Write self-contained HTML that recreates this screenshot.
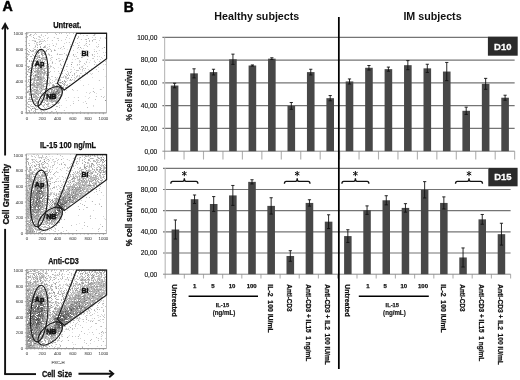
<!DOCTYPE html><html><head><meta charset="utf-8"><style>html,body{margin:0;padding:0;background:#fff;width:520px;height:380px;overflow:hidden}svg{display:block;will-change:transform}text{font-family:"Liberation Sans",sans-serif;white-space:pre}</style></head><body>
<svg width="520" height="380" viewBox="0 0 520 380">
<rect width="520" height="380" fill="#fff"/>
<text x="2.50" y="10.60" font-size="14.2" font-weight="bold" stroke="#000" stroke-width="0.5">A</text>
<g stroke="#111" stroke-width="1.9" fill="none">
<line x1="5.1" y1="24.2" x2="5.1" y2="155.5"/>
<line x1="5.1" y1="228.9" x2="5.1" y2="374.1"/>
<polyline points="2.1,29.4 5.1,24.0 8.1,29.4"/>
<line x1="4.2" y1="374.1" x2="36" y2="374.1"/>
<line x1="78.5" y1="373.8" x2="112.8" y2="373.8"/>
<polyline points="109.2,370.4 113.2,373.8 109.2,377.2"/>
</g>
<text x="41.90" y="376.60" font-size="8.6" font-weight="bold" fill="#111" stroke="#111" stroke-width="0.3" textLength="30.30" lengthAdjust="spacingAndGlyphs">Cell Size</text>
<text x="9.20" y="224.50" font-size="8.3" font-weight="bold" fill="#111" stroke="#111" stroke-width="0.3" textLength="60.50" lengthAdjust="spacingAndGlyphs" transform="rotate(-90 9.20 224.50)">Cell Granularity</text>
<path d="M27.9 32.9h.9v.9h-.9zM84.0 32.9h.9v.9h-.9zM98.9 33.1h.9v.9h-.9zM27.0 33.9h.9v.9h-.9zM31.0 34.1h.9v.9h-.9zM36.1 34.1h.9v.9h-.9zM95.0 33.9h.9v.9h-.9zM83.0 35.1h.9v.9h-.9zM30.9 35.9h.9v.9h-.9zM37.9 36.1h.9v.9h-.9zM27.1 37.0h.9v.9h-.9zM38.9 37.0h.9v.9h-.9zM92.0 37.1h.9v.9h-.9zM95.0 37.0h.9v.9h-.9zM100.1 36.9h.9v.9h-.9zM44.1 37.9h.9v.9h-.9zM69.0 38.0h.9v.9h-.9zM100.0 38.0h.9v.9h-.9zM40.9 38.9h.9v.9h-.9zM42.0 39.0h.9v.9h-.9zM93.0 39.1h.9v.9h-.9zM94.0 39.0h.9v.9h-.9zM29.0 39.9h.9v.9h-.9zM33.0 40.0h.9v.9h-.9zM33.9 40.0h.9v.9h-.9zM35.0 39.9h.9v.9h-.9zM39.9 39.9h.9v.9h-.9zM47.1 39.9h.9v.9h-.9zM34.0 41.0h.9v.9h-.9zM41.0 41.0h.9v.9h-.9zM42.0 41.1h.9v.9h-.9zM43.0 41.1h.9v.9h-.9zM45.1 41.0h.9v.9h-.9zM92.0 41.0h.9v.9h-.9zM75.0 42.0h.9v.9h-.9zM29.1 43.1h.9v.9h-.9zM34.1 43.1h.9v.9h-.9zM36.0 43.0h.9v.9h-.9zM52.1 42.9h.9v.9h-.9zM55.9 43.1h.9v.9h-.9zM36.1 44.0h.9v.9h-.9zM47.0 44.0h.9v.9h-.9zM48.9 44.1h.9v.9h-.9zM69.9 44.0h.9v.9h-.9zM85.0 43.9h.9v.9h-.9zM45.0 45.0h.9v.9h-.9zM78.9 44.9h.9v.9h-.9zM34.1 46.9h.9v.9h-.9zM34.9 46.9h.9v.9h-.9zM47.0 47.0h.9v.9h-.9zM60.9 47.0h.9v.9h-.9zM96.9 47.1h.9v.9h-.9zM46.1 47.9h.9v.9h-.9zM58.1 48.1h.9v.9h-.9zM77.1 48.1h.9v.9h-.9zM81.0 48.0h.9v.9h-.9zM83.0 48.1h.9v.9h-.9zM54.0 49.1h.9v.9h-.9zM61.9 48.9h.9v.9h-.9zM66.9 48.9h.9v.9h-.9zM78.9 48.9h.9v.9h-.9zM93.9 49.0h.9v.9h-.9zM42.9 50.0h.9v.9h-.9zM85.0 50.0h.9v.9h-.9zM35.0 51.1h.9v.9h-.9zM89.0 52.1h.9v.9h-.9zM105.0 52.0h.9v.9h-.9zM45.0 53.1h.9v.9h-.9zM57.1 53.0h.9v.9h-.9zM80.1 53.1h.9v.9h-.9zM61.0 54.0h.9v.9h-.9zM61.9 54.0h.9v.9h-.9zM69.1 54.0h.9v.9h-.9zM75.1 53.9h.9v.9h-.9zM84.0 53.9h.9v.9h-.9zM94.1 54.0h.9v.9h-.9zM27.9 55.0h.9v.9h-.9zM68.1 54.9h.9v.9h-.9zM81.1 55.1h.9v.9h-.9zM69.0 55.9h.9v.9h-.9zM99.0 56.0h.9v.9h-.9zM34.9 57.1h.9v.9h-.9zM40.9 56.9h.9v.9h-.9zM44.0 57.1h.9v.9h-.9zM52.0 57.1h.9v.9h-.9zM58.0 58.1h.9v.9h-.9zM58.9 58.1h.9v.9h-.9zM66.0 58.1h.9v.9h-.9zM102.0 58.0h.9v.9h-.9zM41.1 58.9h.9v.9h-.9zM50.9 59.0h.9v.9h-.9zM72.1 58.9h.9v.9h-.9zM74.9 59.0h.9v.9h-.9zM100.1 59.1h.9v.9h-.9zM50.1 60.0h.9v.9h-.9zM89.9 59.9h.9v.9h-.9zM94.0 59.9h.9v.9h-.9zM51.9 61.1h.9v.9h-.9zM78.9 61.0h.9v.9h-.9zM105.1 61.1h.9v.9h-.9zM44.0 62.1h.9v.9h-.9zM71.0 62.0h.9v.9h-.9zM79.1 62.0h.9v.9h-.9zM88.9 62.0h.9v.9h-.9zM100.0 61.9h.9v.9h-.9zM49.0 62.9h.9v.9h-.9zM54.9 63.0h.9v.9h-.9zM60.1 62.9h.9v.9h-.9zM38.0 63.9h.9v.9h-.9zM85.1 64.1h.9v.9h-.9zM95.9 64.1h.9v.9h-.9zM103.0 63.9h.9v.9h-.9zM105.1 64.0h.9v.9h-.9zM50.0 65.0h.9v.9h-.9zM76.9 65.0h.9v.9h-.9zM82.9 64.9h.9v.9h-.9zM67.1 66.1h.9v.9h-.9zM71.0 66.0h.9v.9h-.9zM80.9 65.9h.9v.9h-.9zM87.0 66.0h.9v.9h-.9zM30.1 67.0h.9v.9h-.9zM49.9 67.1h.9v.9h-.9zM57.9 66.9h.9v.9h-.9zM80.9 67.0h.9v.9h-.9zM82.0 67.0h.9v.9h-.9zM98.0 67.0h.9v.9h-.9zM32.1 68.0h.9v.9h-.9zM63.1 68.1h.9v.9h-.9zM91.1 67.9h.9v.9h-.9zM32.0 69.0h.9v.9h-.9zM33.0 68.9h.9v.9h-.9zM65.9 69.1h.9v.9h-.9zM70.0 68.9h.9v.9h-.9zM71.0 69.1h.9v.9h-.9zM74.1 69.0h.9v.9h-.9zM80.1 69.0h.9v.9h-.9zM82.1 70.0h.9v.9h-.9zM84.0 70.0h.9v.9h-.9zM54.0 71.1h.9v.9h-.9zM71.0 71.0h.9v.9h-.9zM81.9 70.9h.9v.9h-.9zM36.1 72.1h.9v.9h-.9zM68.1 71.9h.9v.9h-.9zM65.0 72.9h.9v.9h-.9zM81.1 73.0h.9v.9h-.9zM89.9 73.0h.9v.9h-.9zM87.0 73.9h.9v.9h-.9zM91.1 74.0h.9v.9h-.9zM64.1 75.1h.9v.9h-.9zM74.0 74.9h.9v.9h-.9zM28.1 76.0h.9v.9h-.9zM33.9 76.0h.9v.9h-.9zM42.1 76.0h.9v.9h-.9zM51.0 76.0h.9v.9h-.9zM65.9 76.0h.9v.9h-.9zM77.0 76.0h.9v.9h-.9zM104.9 75.9h.9v.9h-.9zM45.9 77.0h.9v.9h-.9zM57.0 77.1h.9v.9h-.9zM59.1 77.0h.9v.9h-.9zM78.9 77.0h.9v.9h-.9zM92.0 77.1h.9v.9h-.9zM55.9 77.9h.9v.9h-.9zM58.0 78.1h.9v.9h-.9zM65.1 78.1h.9v.9h-.9zM66.0 77.9h.9v.9h-.9zM43.0 79.0h.9v.9h-.9zM56.0 79.1h.9v.9h-.9zM56.9 78.9h.9v.9h-.9zM58.1 78.9h.9v.9h-.9zM66.0 78.9h.9v.9h-.9zM73.9 78.9h.9v.9h-.9zM32.9 80.0h.9v.9h-.9zM48.9 80.0h.9v.9h-.9zM52.1 80.1h.9v.9h-.9zM54.9 79.9h.9v.9h-.9zM66.9 80.1h.9v.9h-.9zM69.1 80.0h.9v.9h-.9zM75.9 79.9h.9v.9h-.9zM80.1 79.9h.9v.9h-.9zM42.0 80.9h.9v.9h-.9zM65.9 81.0h.9v.9h-.9zM27.0 82.1h.9v.9h-.9zM28.9 82.0h.9v.9h-.9zM49.0 81.9h.9v.9h-.9zM49.0 83.0h.9v.9h-.9zM51.0 82.9h.9v.9h-.9zM69.0 83.0h.9v.9h-.9zM69.9 82.9h.9v.9h-.9zM28.1 84.1h.9v.9h-.9zM44.0 84.1h.9v.9h-.9zM48.9 84.1h.9v.9h-.9zM88.0 83.9h.9v.9h-.9zM67.0 86.1h.9v.9h-.9zM68.9 86.0h.9v.9h-.9zM33.9 87.0h.9v.9h-.9zM41.9 88.0h.9v.9h-.9zM43.0 88.0h.9v.9h-.9zM93.1 88.0h.9v.9h-.9zM39.9 89.1h.9v.9h-.9zM101.1 88.9h.9v.9h-.9zM30.9 90.0h.9v.9h-.9zM35.1 89.9h.9v.9h-.9zM62.0 89.9h.9v.9h-.9zM65.9 90.0h.9v.9h-.9zM72.9 90.0h.9v.9h-.9zM76.9 90.0h.9v.9h-.9zM28.9 91.9h.9v.9h-.9zM39.0 91.9h.9v.9h-.9zM43.1 91.9h.9v.9h-.9zM86.0 92.1h.9v.9h-.9zM96.1 92.9h.9v.9h-.9zM42.9 93.9h.9v.9h-.9zM46.9 93.9h.9v.9h-.9zM45.0 95.0h.9v.9h-.9zM39.1 95.9h.9v.9h-.9zM58.0 96.1h.9v.9h-.9zM84.9 95.9h.9v.9h-.9zM104.0 96.0h.9v.9h-.9zM39.0 96.9h.9v.9h-.9zM43.1 96.9h.9v.9h-.9zM68.0 97.1h.9v.9h-.9zM73.9 97.0h.9v.9h-.9zM89.0 97.0h.9v.9h-.9zM65.1 97.9h.9v.9h-.9zM88.1 98.1h.9v.9h-.9zM33.0 99.0h.9v.9h-.9zM29.9 99.9h.9v.9h-.9zM39.9 100.1h.9v.9h-.9zM43.0 100.1h.9v.9h-.9zM48.1 99.9h.9v.9h-.9zM65.9 100.1h.9v.9h-.9zM47.9 100.9h.9v.9h-.9zM72.9 101.1h.9v.9h-.9zM42.0 102.1h.9v.9h-.9zM48.1 102.1h.9v.9h-.9zM57.1 101.9h.9v.9h-.9zM82.9 102.1h.9v.9h-.9zM32.9 103.1h.9v.9h-.9zM41.1 102.9h.9v.9h-.9zM47.1 103.1h.9v.9h-.9zM56.9 103.0h.9v.9h-.9zM54.1 104.0h.9v.9h-.9zM48.1 104.9h.9v.9h-.9zM59.1 105.0h.9v.9h-.9zM60.9 105.0h.9v.9h-.9zM70.0 105.1h.9v.9h-.9zM93.0 105.0h.9v.9h-.9zM29.9 106.1h.9v.9h-.9zM51.9 106.0h.9v.9h-.9zM93.1 105.9h.9v.9h-.9zM36.0 107.0h.9v.9h-.9zM65.9 106.9h.9v.9h-.9zM44.1 107.9h.9v.9h-.9zM37.9 108.9h.9v.9h-.9zM43.1 108.9h.9v.9h-.9zM39.9 110.1h.9v.9h-.9zM43.9 111.0h.9v.9h-.9zM46.9 110.9h.9v.9h-.9zM51.9 111.0h.9v.9h-.9zM80.1 111.1h.9v.9h-.9zM38.9 112.0h.9v.9h-.9zM43.1 112.1h.9v.9h-.9zM45.1 112.1h.9v.9h-.9zM47.0 111.9h.9v.9h-.9z" fill="#d2d2d2"/>
<path d="M35.1 33.0h.9v.9h-.9zM55.0 33.0h.9v.9h-.9zM59.1 33.0h.9v.9h-.9zM61.1 33.0h.9v.9h-.9zM66.0 32.9h.9v.9h-.9zM69.1 32.9h.9v.9h-.9zM73.1 33.0h.9v.9h-.9zM34.1 33.9h.9v.9h-.9zM41.0 33.9h.9v.9h-.9zM76.1 34.1h.9v.9h-.9zM80.0 33.9h.9v.9h-.9zM94.0 34.1h.9v.9h-.9zM29.0 35.0h.9v.9h-.9zM29.9 35.0h.9v.9h-.9zM33.0 35.1h.9v.9h-.9zM40.9 35.0h.9v.9h-.9zM45.1 35.1h.9v.9h-.9zM67.0 35.0h.9v.9h-.9zM75.9 34.9h.9v.9h-.9zM86.0 34.9h.9v.9h-.9zM87.0 35.0h.9v.9h-.9zM92.9 35.0h.9v.9h-.9zM94.0 35.1h.9v.9h-.9zM42.9 35.9h.9v.9h-.9zM78.0 36.1h.9v.9h-.9zM39.9 37.1h.9v.9h-.9zM47.9 36.9h.9v.9h-.9zM53.9 37.1h.9v.9h-.9zM66.1 37.1h.9v.9h-.9zM78.1 37.1h.9v.9h-.9zM104.9 36.9h.9v.9h-.9zM35.9 38.0h.9v.9h-.9zM57.9 38.0h.9v.9h-.9zM105.1 38.1h.9v.9h-.9zM37.9 38.9h.9v.9h-.9zM39.0 38.9h.9v.9h-.9zM65.1 38.9h.9v.9h-.9zM80.9 39.0h.9v.9h-.9zM84.9 39.0h.9v.9h-.9zM94.9 39.0h.9v.9h-.9zM31.9 40.0h.9v.9h-.9zM51.9 40.1h.9v.9h-.9zM58.0 40.1h.9v.9h-.9zM61.0 39.9h.9v.9h-.9zM89.1 40.1h.9v.9h-.9zM99.0 39.9h.9v.9h-.9zM39.0 41.0h.9v.9h-.9zM40.1 41.1h.9v.9h-.9zM86.0 41.1h.9v.9h-.9zM89.1 41.1h.9v.9h-.9zM36.1 41.9h.9v.9h-.9zM37.0 42.0h.9v.9h-.9zM38.9 42.1h.9v.9h-.9zM66.0 41.9h.9v.9h-.9zM68.9 42.0h.9v.9h-.9zM72.1 41.9h.9v.9h-.9zM79.0 41.9h.9v.9h-.9zM96.1 41.9h.9v.9h-.9zM28.1 42.9h.9v.9h-.9zM64.0 42.9h.9v.9h-.9zM37.1 44.1h.9v.9h-.9zM56.0 43.9h.9v.9h-.9zM89.0 44.1h.9v.9h-.9zM98.0 43.9h.9v.9h-.9zM34.9 44.9h.9v.9h-.9zM37.0 45.0h.9v.9h-.9zM83.9 45.0h.9v.9h-.9zM85.9 44.9h.9v.9h-.9zM45.0 46.1h.9v.9h-.9zM48.9 46.1h.9v.9h-.9zM55.0 45.9h.9v.9h-.9zM70.0 46.0h.9v.9h-.9zM87.0 46.0h.9v.9h-.9zM96.0 45.9h.9v.9h-.9zM98.1 46.1h.9v.9h-.9zM44.9 47.0h.9v.9h-.9zM32.9 47.9h.9v.9h-.9zM48.9 47.9h.9v.9h-.9zM63.9 48.1h.9v.9h-.9zM101.9 47.9h.9v.9h-.9zM29.0 49.1h.9v.9h-.9zM36.9 49.1h.9v.9h-.9zM38.9 49.0h.9v.9h-.9zM47.1 49.1h.9v.9h-.9zM50.0 49.1h.9v.9h-.9zM27.1 50.1h.9v.9h-.9zM31.9 50.0h.9v.9h-.9zM37.9 50.1h.9v.9h-.9zM39.9 50.1h.9v.9h-.9zM51.1 50.1h.9v.9h-.9zM73.0 49.9h.9v.9h-.9zM81.9 50.0h.9v.9h-.9zM86.1 49.9h.9v.9h-.9zM98.9 49.9h.9v.9h-.9zM31.0 51.0h.9v.9h-.9zM32.1 51.0h.9v.9h-.9zM33.0 51.0h.9v.9h-.9zM40.0 51.0h.9v.9h-.9zM43.1 51.1h.9v.9h-.9zM46.0 51.0h.9v.9h-.9zM28.9 52.1h.9v.9h-.9zM37.1 52.0h.9v.9h-.9zM77.1 52.0h.9v.9h-.9zM103.1 51.9h.9v.9h-.9zM34.0 52.9h.9v.9h-.9zM44.1 53.0h.9v.9h-.9zM48.1 52.9h.9v.9h-.9zM64.0 53.1h.9v.9h-.9zM97.1 52.9h.9v.9h-.9zM32.0 54.0h.9v.9h-.9zM49.1 54.0h.9v.9h-.9zM59.0 54.1h.9v.9h-.9zM59.9 54.0h.9v.9h-.9zM36.9 55.0h.9v.9h-.9zM38.0 54.9h.9v.9h-.9zM65.9 55.0h.9v.9h-.9zM72.9 55.0h.9v.9h-.9zM92.0 55.0h.9v.9h-.9zM104.0 55.1h.9v.9h-.9zM27.0 56.0h.9v.9h-.9zM30.0 56.0h.9v.9h-.9zM39.1 56.1h.9v.9h-.9zM42.0 55.9h.9v.9h-.9zM74.0 56.0h.9v.9h-.9zM75.9 56.1h.9v.9h-.9zM88.0 56.0h.9v.9h-.9zM93.9 56.1h.9v.9h-.9zM97.1 55.9h.9v.9h-.9zM38.1 57.1h.9v.9h-.9zM51.1 56.9h.9v.9h-.9zM82.0 57.0h.9v.9h-.9zM101.1 56.9h.9v.9h-.9zM43.0 58.1h.9v.9h-.9zM45.1 57.9h.9v.9h-.9zM50.1 57.9h.9v.9h-.9zM66.9 58.1h.9v.9h-.9zM76.9 58.1h.9v.9h-.9zM78.0 57.9h.9v.9h-.9zM92.1 57.9h.9v.9h-.9zM92.9 58.1h.9v.9h-.9zM36.1 59.1h.9v.9h-.9zM39.0 59.0h.9v.9h-.9zM40.1 59.1h.9v.9h-.9zM41.9 59.1h.9v.9h-.9zM43.0 59.0h.9v.9h-.9zM45.9 59.1h.9v.9h-.9zM61.9 59.0h.9v.9h-.9zM87.0 59.0h.9v.9h-.9zM97.0 58.9h.9v.9h-.9zM31.0 59.9h.9v.9h-.9zM33.1 59.9h.9v.9h-.9zM38.0 59.9h.9v.9h-.9zM39.1 60.1h.9v.9h-.9zM45.1 59.9h.9v.9h-.9zM58.9 59.9h.9v.9h-.9zM60.0 60.0h.9v.9h-.9zM79.0 59.9h.9v.9h-.9zM34.9 61.0h.9v.9h-.9zM36.9 61.0h.9v.9h-.9zM38.1 61.1h.9v.9h-.9zM39.9 61.0h.9v.9h-.9zM41.0 60.9h.9v.9h-.9zM41.9 61.1h.9v.9h-.9zM58.9 61.0h.9v.9h-.9zM63.1 60.9h.9v.9h-.9zM80.1 61.1h.9v.9h-.9zM85.9 60.9h.9v.9h-.9zM93.9 61.1h.9v.9h-.9zM36.9 61.9h.9v.9h-.9zM72.1 62.0h.9v.9h-.9zM86.0 62.0h.9v.9h-.9zM94.9 62.1h.9v.9h-.9zM26.9 62.9h.9v.9h-.9zM31.0 63.0h.9v.9h-.9zM34.9 63.0h.9v.9h-.9zM37.0 63.0h.9v.9h-.9zM39.0 63.0h.9v.9h-.9zM45.0 63.0h.9v.9h-.9zM46.0 62.9h.9v.9h-.9zM51.9 63.0h.9v.9h-.9zM37.1 63.9h.9v.9h-.9zM67.0 63.9h.9v.9h-.9zM77.1 64.0h.9v.9h-.9zM94.1 64.0h.9v.9h-.9zM41.0 65.0h.9v.9h-.9zM41.9 65.0h.9v.9h-.9zM43.1 65.0h.9v.9h-.9zM44.0 65.0h.9v.9h-.9zM60.9 65.1h.9v.9h-.9zM29.1 66.0h.9v.9h-.9zM36.1 66.0h.9v.9h-.9zM38.0 66.0h.9v.9h-.9zM42.1 65.9h.9v.9h-.9zM45.9 66.0h.9v.9h-.9zM50.1 66.1h.9v.9h-.9zM50.9 66.1h.9v.9h-.9zM66.1 66.0h.9v.9h-.9zM81.9 66.0h.9v.9h-.9zM31.1 67.1h.9v.9h-.9zM37.1 67.1h.9v.9h-.9zM41.1 67.0h.9v.9h-.9zM43.1 67.1h.9v.9h-.9zM52.9 67.0h.9v.9h-.9zM73.0 66.9h.9v.9h-.9zM79.1 66.9h.9v.9h-.9zM94.0 66.9h.9v.9h-.9zM31.0 67.9h.9v.9h-.9zM34.0 67.9h.9v.9h-.9zM39.9 68.1h.9v.9h-.9zM43.1 67.9h.9v.9h-.9zM49.1 68.0h.9v.9h-.9zM53.9 68.1h.9v.9h-.9zM60.9 68.1h.9v.9h-.9zM83.0 68.1h.9v.9h-.9zM34.9 69.0h.9v.9h-.9zM44.1 69.1h.9v.9h-.9zM82.0 69.1h.9v.9h-.9zM87.9 68.9h.9v.9h-.9zM95.9 69.1h.9v.9h-.9zM103.0 68.9h.9v.9h-.9zM28.0 69.9h.9v.9h-.9zM35.0 69.9h.9v.9h-.9zM63.9 70.1h.9v.9h-.9zM76.1 70.1h.9v.9h-.9zM77.0 70.0h.9v.9h-.9zM78.0 70.0h.9v.9h-.9zM89.1 70.1h.9v.9h-.9zM27.9 71.0h.9v.9h-.9zM44.1 71.1h.9v.9h-.9zM46.0 71.0h.9v.9h-.9zM58.1 71.1h.9v.9h-.9zM62.0 70.9h.9v.9h-.9zM67.0 71.1h.9v.9h-.9zM98.1 70.9h.9v.9h-.9zM27.9 71.9h.9v.9h-.9zM32.1 72.1h.9v.9h-.9zM33.9 71.9h.9v.9h-.9zM40.1 72.1h.9v.9h-.9zM47.0 72.0h.9v.9h-.9zM47.9 72.0h.9v.9h-.9zM75.9 71.9h.9v.9h-.9zM85.0 72.0h.9v.9h-.9zM30.0 73.1h.9v.9h-.9zM35.9 72.9h.9v.9h-.9zM41.1 73.1h.9v.9h-.9zM46.1 73.0h.9v.9h-.9zM58.9 72.9h.9v.9h-.9zM67.9 73.0h.9v.9h-.9zM80.0 73.0h.9v.9h-.9zM91.9 72.9h.9v.9h-.9zM29.9 73.9h.9v.9h-.9zM32.0 74.1h.9v.9h-.9zM43.0 74.1h.9v.9h-.9zM45.9 74.0h.9v.9h-.9zM68.0 74.0h.9v.9h-.9zM74.0 74.1h.9v.9h-.9zM33.9 75.0h.9v.9h-.9zM39.1 75.0h.9v.9h-.9zM40.0 75.1h.9v.9h-.9zM42.9 75.0h.9v.9h-.9zM44.1 74.9h.9v.9h-.9zM77.1 75.0h.9v.9h-.9zM78.9 75.1h.9v.9h-.9zM41.0 76.0h.9v.9h-.9zM51.9 75.9h.9v.9h-.9zM63.1 75.9h.9v.9h-.9zM76.0 76.1h.9v.9h-.9zM78.9 76.0h.9v.9h-.9zM81.9 75.9h.9v.9h-.9zM42.0 77.1h.9v.9h-.9zM44.0 76.9h.9v.9h-.9zM48.1 77.1h.9v.9h-.9zM49.0 76.9h.9v.9h-.9zM60.9 77.0h.9v.9h-.9zM62.1 76.9h.9v.9h-.9zM63.1 77.1h.9v.9h-.9zM65.0 77.1h.9v.9h-.9zM65.9 77.1h.9v.9h-.9zM68.0 77.0h.9v.9h-.9zM71.0 77.1h.9v.9h-.9zM74.0 77.0h.9v.9h-.9zM76.0 76.9h.9v.9h-.9zM33.1 78.1h.9v.9h-.9zM35.1 78.0h.9v.9h-.9zM42.1 78.1h.9v.9h-.9zM48.9 77.9h.9v.9h-.9zM68.1 78.1h.9v.9h-.9zM74.9 78.0h.9v.9h-.9zM77.9 78.0h.9v.9h-.9zM28.1 79.1h.9v.9h-.9zM34.9 79.0h.9v.9h-.9zM36.0 79.0h.9v.9h-.9zM42.0 79.1h.9v.9h-.9zM50.1 79.1h.9v.9h-.9zM55.0 78.9h.9v.9h-.9zM59.9 79.0h.9v.9h-.9zM72.1 79.0h.9v.9h-.9zM27.9 80.0h.9v.9h-.9zM35.1 80.1h.9v.9h-.9zM39.9 80.1h.9v.9h-.9zM56.9 79.9h.9v.9h-.9zM59.1 80.0h.9v.9h-.9zM59.9 80.0h.9v.9h-.9zM69.9 80.0h.9v.9h-.9zM71.0 80.1h.9v.9h-.9zM73.9 80.0h.9v.9h-.9zM98.9 80.1h.9v.9h-.9zM33.1 81.0h.9v.9h-.9zM34.0 80.9h.9v.9h-.9zM41.1 81.1h.9v.9h-.9zM44.1 81.0h.9v.9h-.9zM45.0 80.9h.9v.9h-.9zM49.1 80.9h.9v.9h-.9zM53.9 81.1h.9v.9h-.9zM38.9 82.0h.9v.9h-.9zM46.9 81.9h.9v.9h-.9zM52.1 81.9h.9v.9h-.9zM63.1 81.9h.9v.9h-.9zM34.1 83.0h.9v.9h-.9zM41.9 82.9h.9v.9h-.9zM43.0 82.9h.9v.9h-.9zM50.1 82.9h.9v.9h-.9zM55.0 83.1h.9v.9h-.9zM57.0 82.9h.9v.9h-.9zM59.9 82.9h.9v.9h-.9zM41.9 83.9h.9v.9h-.9zM52.0 83.9h.9v.9h-.9zM64.9 83.9h.9v.9h-.9zM67.1 84.0h.9v.9h-.9zM39.1 84.9h.9v.9h-.9zM40.1 84.9h.9v.9h-.9zM48.9 85.0h.9v.9h-.9zM59.1 84.9h.9v.9h-.9zM67.1 84.9h.9v.9h-.9zM68.9 85.0h.9v.9h-.9zM83.0 84.9h.9v.9h-.9zM27.1 86.0h.9v.9h-.9zM38.9 86.1h.9v.9h-.9zM39.9 86.1h.9v.9h-.9zM41.9 86.0h.9v.9h-.9zM53.0 86.0h.9v.9h-.9zM53.9 85.9h.9v.9h-.9zM55.1 85.9h.9v.9h-.9zM58.0 85.9h.9v.9h-.9zM59.1 86.1h.9v.9h-.9zM59.9 86.1h.9v.9h-.9zM62.9 86.1h.9v.9h-.9zM68.1 86.1h.9v.9h-.9zM27.1 86.9h.9v.9h-.9zM29.9 87.1h.9v.9h-.9zM33.0 86.9h.9v.9h-.9zM38.9 87.0h.9v.9h-.9zM41.9 87.1h.9v.9h-.9zM43.0 87.1h.9v.9h-.9zM55.0 86.9h.9v.9h-.9zM56.9 87.1h.9v.9h-.9zM58.9 87.1h.9v.9h-.9zM103.1 86.9h.9v.9h-.9zM29.9 88.0h.9v.9h-.9zM32.9 87.9h.9v.9h-.9zM35.9 87.9h.9v.9h-.9zM37.1 88.1h.9v.9h-.9zM40.0 88.1h.9v.9h-.9zM53.1 88.0h.9v.9h-.9zM54.0 88.1h.9v.9h-.9zM57.0 87.9h.9v.9h-.9zM33.0 89.1h.9v.9h-.9zM35.9 89.0h.9v.9h-.9zM41.0 89.1h.9v.9h-.9zM54.9 89.1h.9v.9h-.9zM63.9 88.9h.9v.9h-.9zM72.1 89.1h.9v.9h-.9zM99.9 89.1h.9v.9h-.9zM27.9 90.1h.9v.9h-.9zM33.1 90.0h.9v.9h-.9zM38.1 90.1h.9v.9h-.9zM39.9 90.0h.9v.9h-.9zM42.1 90.1h.9v.9h-.9zM48.1 89.9h.9v.9h-.9zM49.0 89.9h.9v.9h-.9zM55.9 90.0h.9v.9h-.9zM27.0 91.1h.9v.9h-.9zM32.1 90.9h.9v.9h-.9zM32.9 91.1h.9v.9h-.9zM34.1 91.0h.9v.9h-.9zM36.1 91.0h.9v.9h-.9zM38.1 91.0h.9v.9h-.9zM38.9 91.1h.9v.9h-.9zM47.0 91.0h.9v.9h-.9zM49.1 91.0h.9v.9h-.9zM27.9 92.1h.9v.9h-.9zM34.1 92.0h.9v.9h-.9zM37.1 92.1h.9v.9h-.9zM38.0 91.9h.9v.9h-.9zM42.0 91.9h.9v.9h-.9zM46.1 92.1h.9v.9h-.9zM47.9 92.0h.9v.9h-.9zM60.1 92.1h.9v.9h-.9zM61.1 92.1h.9v.9h-.9zM89.9 91.9h.9v.9h-.9zM94.1 92.0h.9v.9h-.9zM32.0 93.1h.9v.9h-.9zM33.0 93.1h.9v.9h-.9zM34.0 93.0h.9v.9h-.9zM35.0 93.0h.9v.9h-.9zM42.0 93.0h.9v.9h-.9zM47.0 93.1h.9v.9h-.9zM47.9 93.1h.9v.9h-.9zM61.0 93.0h.9v.9h-.9zM89.0 92.9h.9v.9h-.9zM30.1 94.0h.9v.9h-.9zM41.9 94.1h.9v.9h-.9zM58.0 93.9h.9v.9h-.9zM29.9 95.1h.9v.9h-.9zM33.9 94.9h.9v.9h-.9zM47.0 94.9h.9v.9h-.9zM59.1 94.9h.9v.9h-.9zM37.0 95.9h.9v.9h-.9zM42.9 95.9h.9v.9h-.9zM95.9 96.0h.9v.9h-.9zM101.1 96.0h.9v.9h-.9zM35.0 97.0h.9v.9h-.9zM36.1 97.1h.9v.9h-.9zM42.1 96.9h.9v.9h-.9zM44.9 96.9h.9v.9h-.9zM58.0 96.9h.9v.9h-.9zM77.9 97.0h.9v.9h-.9zM43.0 98.1h.9v.9h-.9zM43.9 97.9h.9v.9h-.9zM56.0 97.9h.9v.9h-.9zM57.0 98.1h.9v.9h-.9zM59.9 98.0h.9v.9h-.9zM34.1 99.0h.9v.9h-.9zM34.9 99.0h.9v.9h-.9zM38.9 99.0h.9v.9h-.9zM41.1 98.9h.9v.9h-.9zM46.0 99.0h.9v.9h-.9zM95.1 99.0h.9v.9h-.9zM33.9 100.0h.9v.9h-.9zM43.9 100.1h.9v.9h-.9zM53.1 100.1h.9v.9h-.9zM57.0 99.9h.9v.9h-.9zM29.0 101.1h.9v.9h-.9zM30.9 101.0h.9v.9h-.9zM32.1 100.9h.9v.9h-.9zM34.1 101.1h.9v.9h-.9zM42.0 101.1h.9v.9h-.9zM44.1 100.9h.9v.9h-.9zM46.1 101.1h.9v.9h-.9zM48.9 101.0h.9v.9h-.9zM52.0 101.1h.9v.9h-.9zM58.0 101.0h.9v.9h-.9zM85.0 100.9h.9v.9h-.9zM27.0 102.1h.9v.9h-.9zM33.9 101.9h.9v.9h-.9zM39.9 102.1h.9v.9h-.9zM55.1 102.1h.9v.9h-.9zM58.0 101.9h.9v.9h-.9zM59.1 102.1h.9v.9h-.9zM35.1 103.1h.9v.9h-.9zM38.0 103.0h.9v.9h-.9zM49.0 102.9h.9v.9h-.9zM73.0 103.0h.9v.9h-.9zM86.1 103.1h.9v.9h-.9zM31.1 104.0h.9v.9h-.9zM37.1 103.9h.9v.9h-.9zM30.1 105.1h.9v.9h-.9zM42.1 104.9h.9v.9h-.9zM42.9 104.9h.9v.9h-.9zM43.9 105.1h.9v.9h-.9zM49.9 104.9h.9v.9h-.9zM52.9 105.1h.9v.9h-.9zM27.0 106.1h.9v.9h-.9zM27.9 106.1h.9v.9h-.9zM31.1 106.1h.9v.9h-.9zM33.0 106.1h.9v.9h-.9zM35.0 106.1h.9v.9h-.9zM37.1 106.1h.9v.9h-.9zM47.0 106.1h.9v.9h-.9zM49.1 105.9h.9v.9h-.9zM57.1 106.0h.9v.9h-.9zM38.9 107.1h.9v.9h-.9zM46.0 107.1h.9v.9h-.9zM59.1 107.1h.9v.9h-.9zM32.9 108.0h.9v.9h-.9zM45.1 108.1h.9v.9h-.9zM49.0 108.0h.9v.9h-.9zM39.9 108.9h.9v.9h-.9zM29.1 110.1h.9v.9h-.9zM33.9 109.9h.9v.9h-.9zM35.1 110.0h.9v.9h-.9zM41.0 109.9h.9v.9h-.9zM63.9 110.0h.9v.9h-.9zM41.0 111.0h.9v.9h-.9zM56.0 111.1h.9v.9h-.9zM28.9 112.1h.9v.9h-.9zM33.9 112.1h.9v.9h-.9zM36.0 112.1h.9v.9h-.9zM50.1 112.1h.9v.9h-.9zM70.9 111.9h.9v.9h-.9z" fill="#bbbbbb"/>
<path d="M27.0 32.9h.9v.9h-.9zM46.9 32.9h.9v.9h-.9zM103.0 32.9h.9v.9h-.9zM30.0 34.1h.9v.9h-.9zM56.0 33.9h.9v.9h-.9zM27.0 36.1h.9v.9h-.9zM38.9 35.9h.9v.9h-.9zM33.0 37.1h.9v.9h-.9zM34.0 37.9h.9v.9h-.9zM47.0 37.9h.9v.9h-.9zM56.9 37.9h.9v.9h-.9zM77.0 38.0h.9v.9h-.9zM88.1 38.1h.9v.9h-.9zM85.9 39.0h.9v.9h-.9zM43.9 40.0h.9v.9h-.9zM92.1 40.0h.9v.9h-.9zM41.0 43.1h.9v.9h-.9zM77.1 42.9h.9v.9h-.9zM85.9 43.1h.9v.9h-.9zM39.1 44.0h.9v.9h-.9zM39.9 43.9h.9v.9h-.9zM29.0 45.0h.9v.9h-.9zM52.9 45.0h.9v.9h-.9zM73.0 44.9h.9v.9h-.9zM78.1 44.9h.9v.9h-.9zM40.0 46.0h.9v.9h-.9zM44.0 46.1h.9v.9h-.9zM63.1 46.0h.9v.9h-.9zM37.1 47.0h.9v.9h-.9zM43.0 47.0h.9v.9h-.9zM44.1 47.0h.9v.9h-.9zM77.9 47.1h.9v.9h-.9zM80.0 47.0h.9v.9h-.9zM26.9 47.9h.9v.9h-.9zM60.0 47.9h.9v.9h-.9zM33.9 49.1h.9v.9h-.9zM34.9 49.0h.9v.9h-.9zM48.1 49.0h.9v.9h-.9zM36.1 50.0h.9v.9h-.9zM42.0 49.9h.9v.9h-.9zM54.0 50.1h.9v.9h-.9zM54.9 49.9h.9v.9h-.9zM28.0 51.0h.9v.9h-.9zM36.0 51.0h.9v.9h-.9zM37.9 51.0h.9v.9h-.9zM42.1 51.0h.9v.9h-.9zM44.9 51.0h.9v.9h-.9zM50.9 51.1h.9v.9h-.9zM94.1 50.9h.9v.9h-.9zM96.1 50.9h.9v.9h-.9zM34.9 52.0h.9v.9h-.9zM39.0 51.9h.9v.9h-.9zM40.9 52.0h.9v.9h-.9zM41.9 51.9h.9v.9h-.9zM44.9 52.0h.9v.9h-.9zM26.9 53.1h.9v.9h-.9zM41.0 53.1h.9v.9h-.9zM42.9 53.1h.9v.9h-.9zM26.9 53.9h.9v.9h-.9zM27.9 54.0h.9v.9h-.9zM28.9 53.9h.9v.9h-.9zM37.1 53.9h.9v.9h-.9zM42.1 54.0h.9v.9h-.9zM44.0 54.1h.9v.9h-.9zM44.9 54.1h.9v.9h-.9zM47.9 53.9h.9v.9h-.9zM56.9 54.0h.9v.9h-.9zM65.9 53.9h.9v.9h-.9zM73.0 54.1h.9v.9h-.9zM91.9 54.0h.9v.9h-.9zM32.9 55.0h.9v.9h-.9zM35.0 55.0h.9v.9h-.9zM39.1 55.1h.9v.9h-.9zM42.0 55.0h.9v.9h-.9zM42.9 54.9h.9v.9h-.9zM48.9 54.9h.9v.9h-.9zM50.9 54.9h.9v.9h-.9zM30.9 56.1h.9v.9h-.9zM37.1 55.9h.9v.9h-.9zM38.1 55.9h.9v.9h-.9zM37.0 57.1h.9v.9h-.9zM39.9 56.9h.9v.9h-.9zM42.1 56.9h.9v.9h-.9zM43.0 57.0h.9v.9h-.9zM81.0 57.1h.9v.9h-.9zM27.1 58.0h.9v.9h-.9zM32.1 57.9h.9v.9h-.9zM34.9 58.0h.9v.9h-.9zM36.0 57.9h.9v.9h-.9zM37.0 58.1h.9v.9h-.9zM42.1 58.1h.9v.9h-.9zM43.9 57.9h.9v.9h-.9zM26.9 59.0h.9v.9h-.9zM38.1 59.0h.9v.9h-.9zM44.0 59.1h.9v.9h-.9zM56.0 59.0h.9v.9h-.9zM66.9 58.9h.9v.9h-.9zM29.1 60.0h.9v.9h-.9zM34.0 59.9h.9v.9h-.9zM35.0 60.0h.9v.9h-.9zM37.1 60.0h.9v.9h-.9zM41.9 60.1h.9v.9h-.9zM30.9 61.0h.9v.9h-.9zM32.1 61.1h.9v.9h-.9zM34.0 60.9h.9v.9h-.9zM39.1 60.9h.9v.9h-.9zM44.0 61.1h.9v.9h-.9zM99.0 60.9h.9v.9h-.9zM38.1 61.9h.9v.9h-.9zM39.1 61.9h.9v.9h-.9zM42.1 62.1h.9v.9h-.9zM52.1 62.0h.9v.9h-.9zM33.0 62.9h.9v.9h-.9zM35.9 63.1h.9v.9h-.9zM43.0 63.0h.9v.9h-.9zM44.1 62.9h.9v.9h-.9zM47.1 63.1h.9v.9h-.9zM84.1 62.9h.9v.9h-.9zM31.1 64.0h.9v.9h-.9zM33.9 63.9h.9v.9h-.9zM35.9 64.0h.9v.9h-.9zM39.1 64.0h.9v.9h-.9zM40.1 64.0h.9v.9h-.9zM42.0 63.9h.9v.9h-.9zM47.9 64.0h.9v.9h-.9zM60.1 64.0h.9v.9h-.9zM79.1 63.9h.9v.9h-.9zM31.1 65.1h.9v.9h-.9zM32.1 65.1h.9v.9h-.9zM36.0 65.1h.9v.9h-.9zM40.0 65.1h.9v.9h-.9zM27.0 66.1h.9v.9h-.9zM28.0 66.1h.9v.9h-.9zM31.9 66.1h.9v.9h-.9zM32.9 66.1h.9v.9h-.9zM35.1 66.0h.9v.9h-.9zM40.0 66.0h.9v.9h-.9zM41.0 66.0h.9v.9h-.9zM44.0 66.0h.9v.9h-.9zM48.0 66.0h.9v.9h-.9zM31.9 67.1h.9v.9h-.9zM35.1 67.0h.9v.9h-.9zM37.9 67.1h.9v.9h-.9zM38.9 67.1h.9v.9h-.9zM41.9 66.9h.9v.9h-.9zM29.1 68.1h.9v.9h-.9zM30.1 68.0h.9v.9h-.9zM32.9 68.0h.9v.9h-.9zM34.9 68.0h.9v.9h-.9zM36.0 68.1h.9v.9h-.9zM37.0 67.9h.9v.9h-.9zM39.0 68.1h.9v.9h-.9zM41.1 68.1h.9v.9h-.9zM42.1 68.1h.9v.9h-.9zM44.0 68.1h.9v.9h-.9zM45.0 68.0h.9v.9h-.9zM46.1 67.9h.9v.9h-.9zM28.9 69.0h.9v.9h-.9zM31.1 68.9h.9v.9h-.9zM37.1 69.1h.9v.9h-.9zM37.9 69.0h.9v.9h-.9zM40.1 69.1h.9v.9h-.9zM42.0 69.0h.9v.9h-.9zM43.1 68.9h.9v.9h-.9zM47.1 69.0h.9v.9h-.9zM33.0 70.0h.9v.9h-.9zM36.1 70.1h.9v.9h-.9zM37.1 70.1h.9v.9h-.9zM39.0 69.9h.9v.9h-.9zM40.9 70.1h.9v.9h-.9zM43.1 70.1h.9v.9h-.9zM27.1 70.9h.9v.9h-.9zM32.1 70.9h.9v.9h-.9zM35.9 71.0h.9v.9h-.9zM38.1 70.9h.9v.9h-.9zM41.0 71.1h.9v.9h-.9zM42.0 71.1h.9v.9h-.9zM45.0 70.9h.9v.9h-.9zM50.0 70.9h.9v.9h-.9zM30.1 72.1h.9v.9h-.9zM34.9 72.1h.9v.9h-.9zM39.0 72.1h.9v.9h-.9zM41.1 72.1h.9v.9h-.9zM42.1 72.1h.9v.9h-.9zM43.0 71.9h.9v.9h-.9zM45.0 72.1h.9v.9h-.9zM70.0 72.1h.9v.9h-.9zM32.9 73.0h.9v.9h-.9zM36.9 73.1h.9v.9h-.9zM38.9 72.9h.9v.9h-.9zM41.9 73.1h.9v.9h-.9zM43.0 73.1h.9v.9h-.9zM44.1 73.1h.9v.9h-.9zM45.0 72.9h.9v.9h-.9zM47.0 72.9h.9v.9h-.9zM62.1 72.9h.9v.9h-.9zM74.0 73.1h.9v.9h-.9zM87.1 73.1h.9v.9h-.9zM34.9 74.1h.9v.9h-.9zM35.9 74.1h.9v.9h-.9zM36.9 74.0h.9v.9h-.9zM39.0 73.9h.9v.9h-.9zM40.9 74.1h.9v.9h-.9zM48.1 74.0h.9v.9h-.9zM66.0 74.0h.9v.9h-.9zM32.9 75.0h.9v.9h-.9zM41.1 74.9h.9v.9h-.9zM46.0 75.1h.9v.9h-.9zM47.9 75.1h.9v.9h-.9zM67.1 75.1h.9v.9h-.9zM69.0 75.1h.9v.9h-.9zM82.0 75.1h.9v.9h-.9zM29.1 76.0h.9v.9h-.9zM33.0 76.1h.9v.9h-.9zM35.1 75.9h.9v.9h-.9zM36.0 75.9h.9v.9h-.9zM40.1 76.1h.9v.9h-.9zM42.9 76.1h.9v.9h-.9zM64.9 76.1h.9v.9h-.9zM33.9 77.0h.9v.9h-.9zM34.9 77.1h.9v.9h-.9zM36.0 76.9h.9v.9h-.9zM41.1 77.1h.9v.9h-.9zM43.0 77.1h.9v.9h-.9zM54.9 77.1h.9v.9h-.9zM31.9 78.0h.9v.9h-.9zM37.1 77.9h.9v.9h-.9zM39.1 78.1h.9v.9h-.9zM40.0 78.0h.9v.9h-.9zM42.9 78.0h.9v.9h-.9zM44.0 78.1h.9v.9h-.9zM67.1 78.1h.9v.9h-.9zM28.9 79.1h.9v.9h-.9zM30.1 78.9h.9v.9h-.9zM31.0 79.1h.9v.9h-.9zM32.1 79.0h.9v.9h-.9zM33.1 78.9h.9v.9h-.9zM37.1 79.1h.9v.9h-.9zM44.9 79.0h.9v.9h-.9zM47.0 78.9h.9v.9h-.9zM36.1 80.0h.9v.9h-.9zM38.1 80.1h.9v.9h-.9zM38.9 80.0h.9v.9h-.9zM40.9 80.0h.9v.9h-.9zM46.1 80.0h.9v.9h-.9zM46.9 80.0h.9v.9h-.9zM57.9 80.1h.9v.9h-.9zM64.1 80.0h.9v.9h-.9zM28.1 81.0h.9v.9h-.9zM36.0 80.9h.9v.9h-.9zM40.1 81.1h.9v.9h-.9zM43.0 81.0h.9v.9h-.9zM46.0 81.0h.9v.9h-.9zM63.9 81.1h.9v.9h-.9zM65.0 81.0h.9v.9h-.9zM30.0 82.0h.9v.9h-.9zM31.0 81.9h.9v.9h-.9zM33.0 82.1h.9v.9h-.9zM34.0 82.1h.9v.9h-.9zM36.0 82.0h.9v.9h-.9zM37.0 82.1h.9v.9h-.9zM40.1 82.0h.9v.9h-.9zM41.1 82.1h.9v.9h-.9zM42.1 82.1h.9v.9h-.9zM45.9 82.1h.9v.9h-.9zM49.9 82.0h.9v.9h-.9zM58.9 82.1h.9v.9h-.9zM60.9 82.1h.9v.9h-.9zM65.0 82.0h.9v.9h-.9zM33.1 83.1h.9v.9h-.9zM35.0 83.1h.9v.9h-.9zM36.0 82.9h.9v.9h-.9zM36.9 83.1h.9v.9h-.9zM38.1 83.0h.9v.9h-.9zM38.9 83.1h.9v.9h-.9zM39.9 82.9h.9v.9h-.9zM40.9 83.1h.9v.9h-.9zM44.0 82.9h.9v.9h-.9zM47.9 83.1h.9v.9h-.9zM56.0 83.1h.9v.9h-.9zM57.9 82.9h.9v.9h-.9zM33.1 84.0h.9v.9h-.9zM34.0 84.0h.9v.9h-.9zM36.0 84.1h.9v.9h-.9zM37.0 84.0h.9v.9h-.9zM38.0 84.1h.9v.9h-.9zM41.1 84.1h.9v.9h-.9zM42.9 84.0h.9v.9h-.9zM45.9 84.1h.9v.9h-.9zM47.1 83.9h.9v.9h-.9zM53.0 84.0h.9v.9h-.9zM63.0 84.1h.9v.9h-.9zM64.0 83.9h.9v.9h-.9zM29.1 84.9h.9v.9h-.9zM31.0 85.0h.9v.9h-.9zM32.1 85.0h.9v.9h-.9zM33.1 85.1h.9v.9h-.9zM34.9 84.9h.9v.9h-.9zM35.9 84.9h.9v.9h-.9zM38.0 85.0h.9v.9h-.9zM41.1 85.1h.9v.9h-.9zM42.0 85.1h.9v.9h-.9zM52.1 85.1h.9v.9h-.9zM54.1 85.0h.9v.9h-.9zM56.0 85.1h.9v.9h-.9zM57.1 85.0h.9v.9h-.9zM66.1 85.0h.9v.9h-.9zM28.1 86.1h.9v.9h-.9zM29.1 85.9h.9v.9h-.9zM32.9 85.9h.9v.9h-.9zM34.0 86.0h.9v.9h-.9zM34.9 85.9h.9v.9h-.9zM35.9 85.9h.9v.9h-.9zM37.0 85.9h.9v.9h-.9zM37.9 85.9h.9v.9h-.9zM41.0 86.0h.9v.9h-.9zM43.0 86.0h.9v.9h-.9zM43.9 86.1h.9v.9h-.9zM44.9 85.9h.9v.9h-.9zM51.9 86.1h.9v.9h-.9zM57.0 86.1h.9v.9h-.9zM32.1 87.1h.9v.9h-.9zM34.9 87.0h.9v.9h-.9zM37.9 86.9h.9v.9h-.9zM40.0 87.0h.9v.9h-.9zM41.0 86.9h.9v.9h-.9zM46.0 86.9h.9v.9h-.9zM54.1 87.1h.9v.9h-.9zM56.1 87.1h.9v.9h-.9zM60.0 87.1h.9v.9h-.9zM61.0 87.1h.9v.9h-.9zM61.9 87.0h.9v.9h-.9zM63.1 87.0h.9v.9h-.9zM65.1 87.1h.9v.9h-.9zM31.9 88.0h.9v.9h-.9zM38.9 87.9h.9v.9h-.9zM54.9 87.9h.9v.9h-.9zM55.9 88.0h.9v.9h-.9zM59.9 88.1h.9v.9h-.9zM28.9 89.0h.9v.9h-.9zM35.0 89.0h.9v.9h-.9zM37.1 89.1h.9v.9h-.9zM39.1 89.0h.9v.9h-.9zM42.1 89.1h.9v.9h-.9zM42.9 89.1h.9v.9h-.9zM47.1 88.9h.9v.9h-.9zM58.9 89.1h.9v.9h-.9zM61.0 89.1h.9v.9h-.9zM61.9 88.9h.9v.9h-.9zM32.0 90.1h.9v.9h-.9zM33.9 89.9h.9v.9h-.9zM41.0 90.1h.9v.9h-.9zM51.0 90.1h.9v.9h-.9zM51.9 89.9h.9v.9h-.9zM59.0 90.1h.9v.9h-.9zM59.9 90.0h.9v.9h-.9zM61.0 90.0h.9v.9h-.9zM62.9 89.9h.9v.9h-.9zM28.9 91.1h.9v.9h-.9zM30.9 90.9h.9v.9h-.9zM35.0 91.1h.9v.9h-.9zM37.1 90.9h.9v.9h-.9zM40.0 90.9h.9v.9h-.9zM41.1 91.0h.9v.9h-.9zM45.1 91.0h.9v.9h-.9zM46.0 91.0h.9v.9h-.9zM52.0 90.9h.9v.9h-.9zM60.0 90.9h.9v.9h-.9zM61.0 91.1h.9v.9h-.9zM92.9 91.1h.9v.9h-.9zM35.0 92.1h.9v.9h-.9zM36.0 92.1h.9v.9h-.9zM49.0 92.0h.9v.9h-.9zM50.0 92.1h.9v.9h-.9zM52.1 92.0h.9v.9h-.9zM61.9 91.9h.9v.9h-.9zM28.9 93.1h.9v.9h-.9zM36.9 92.9h.9v.9h-.9zM37.9 93.0h.9v.9h-.9zM39.1 93.1h.9v.9h-.9zM41.1 92.9h.9v.9h-.9zM43.1 93.0h.9v.9h-.9zM44.9 93.0h.9v.9h-.9zM46.0 93.0h.9v.9h-.9zM50.0 92.9h.9v.9h-.9zM59.1 92.9h.9v.9h-.9zM34.9 93.9h.9v.9h-.9zM37.1 94.0h.9v.9h-.9zM38.1 94.1h.9v.9h-.9zM40.9 94.0h.9v.9h-.9zM43.9 94.1h.9v.9h-.9zM47.9 93.9h.9v.9h-.9zM59.1 94.0h.9v.9h-.9zM60.1 94.1h.9v.9h-.9zM61.1 94.0h.9v.9h-.9zM29.1 94.9h.9v.9h-.9zM30.9 95.1h.9v.9h-.9zM35.1 95.1h.9v.9h-.9zM36.1 94.9h.9v.9h-.9zM38.1 95.1h.9v.9h-.9zM43.9 95.1h.9v.9h-.9zM46.0 94.9h.9v.9h-.9zM59.9 95.0h.9v.9h-.9zM31.0 96.1h.9v.9h-.9zM33.0 96.0h.9v.9h-.9zM34.1 95.9h.9v.9h-.9zM35.1 96.1h.9v.9h-.9zM39.9 96.0h.9v.9h-.9zM49.0 96.0h.9v.9h-.9zM57.1 95.9h.9v.9h-.9zM29.9 96.9h.9v.9h-.9zM37.0 97.1h.9v.9h-.9zM38.1 97.1h.9v.9h-.9zM43.9 96.9h.9v.9h-.9zM46.1 97.1h.9v.9h-.9zM55.9 97.0h.9v.9h-.9zM56.9 97.0h.9v.9h-.9zM59.1 97.1h.9v.9h-.9zM59.9 97.1h.9v.9h-.9zM103.0 96.9h.9v.9h-.9zM28.9 98.1h.9v.9h-.9zM31.0 97.9h.9v.9h-.9zM35.1 98.1h.9v.9h-.9zM36.0 97.9h.9v.9h-.9zM36.9 98.0h.9v.9h-.9zM44.9 98.0h.9v.9h-.9zM46.1 97.9h.9v.9h-.9zM47.0 98.1h.9v.9h-.9zM49.0 98.0h.9v.9h-.9zM58.9 97.9h.9v.9h-.9zM29.1 99.1h.9v.9h-.9zM30.0 99.0h.9v.9h-.9zM32.1 98.9h.9v.9h-.9zM36.1 99.0h.9v.9h-.9zM42.9 99.0h.9v.9h-.9zM44.0 99.0h.9v.9h-.9zM44.9 98.9h.9v.9h-.9zM47.1 99.1h.9v.9h-.9zM47.9 98.9h.9v.9h-.9zM49.1 99.0h.9v.9h-.9zM52.9 98.9h.9v.9h-.9zM54.0 98.9h.9v.9h-.9zM55.9 99.1h.9v.9h-.9zM56.9 98.9h.9v.9h-.9zM41.1 99.9h.9v.9h-.9zM45.0 100.0h.9v.9h-.9zM46.0 99.9h.9v.9h-.9zM49.9 99.9h.9v.9h-.9zM52.0 100.0h.9v.9h-.9zM54.1 100.1h.9v.9h-.9zM56.1 99.9h.9v.9h-.9zM78.1 99.9h.9v.9h-.9zM28.0 101.1h.9v.9h-.9zM30.1 101.1h.9v.9h-.9zM33.1 101.0h.9v.9h-.9zM35.0 101.1h.9v.9h-.9zM35.9 100.9h.9v.9h-.9zM37.1 101.1h.9v.9h-.9zM41.1 101.1h.9v.9h-.9zM51.0 101.0h.9v.9h-.9zM53.9 101.0h.9v.9h-.9zM55.0 101.1h.9v.9h-.9zM56.1 101.0h.9v.9h-.9zM32.9 102.0h.9v.9h-.9zM36.0 102.1h.9v.9h-.9zM37.0 102.0h.9v.9h-.9zM37.9 101.9h.9v.9h-.9zM42.9 102.0h.9v.9h-.9zM44.1 102.0h.9v.9h-.9zM50.9 101.9h.9v.9h-.9zM52.1 102.1h.9v.9h-.9zM26.9 102.9h.9v.9h-.9zM36.0 102.9h.9v.9h-.9zM36.9 103.1h.9v.9h-.9zM45.0 103.0h.9v.9h-.9zM48.1 103.0h.9v.9h-.9zM56.0 102.9h.9v.9h-.9zM57.9 103.1h.9v.9h-.9zM27.9 104.1h.9v.9h-.9zM28.9 103.9h.9v.9h-.9zM35.1 103.9h.9v.9h-.9zM43.9 104.1h.9v.9h-.9zM46.9 104.1h.9v.9h-.9zM47.9 104.1h.9v.9h-.9zM51.9 104.0h.9v.9h-.9zM52.9 103.9h.9v.9h-.9zM35.1 105.0h.9v.9h-.9zM46.9 104.9h.9v.9h-.9zM54.1 104.9h.9v.9h-.9zM31.9 106.0h.9v.9h-.9zM48.1 106.1h.9v.9h-.9zM50.9 106.1h.9v.9h-.9zM55.9 106.1h.9v.9h-.9zM28.1 106.9h.9v.9h-.9zM28.9 107.0h.9v.9h-.9zM33.9 106.9h.9v.9h-.9zM44.0 106.9h.9v.9h-.9zM50.0 107.0h.9v.9h-.9zM87.0 106.9h.9v.9h-.9zM30.1 107.9h.9v.9h-.9zM34.1 108.1h.9v.9h-.9zM35.1 108.1h.9v.9h-.9zM31.0 109.1h.9v.9h-.9zM36.1 109.0h.9v.9h-.9zM37.1 109.1h.9v.9h-.9zM55.0 109.1h.9v.9h-.9zM28.1 109.9h.9v.9h-.9zM30.9 109.9h.9v.9h-.9zM29.1 111.0h.9v.9h-.9zM33.1 110.9h.9v.9h-.9zM35.1 111.1h.9v.9h-.9zM51.1 110.9h.9v.9h-.9zM34.9 112.1h.9v.9h-.9zM37.9 111.9h.9v.9h-.9zM39.9 112.0h.9v.9h-.9z" fill="#a4a4a4"/>
<path d="M104.9 32.9h.9v.9h-.9zM34.9 41.0h.9v.9h-.9zM35.0 45.9h.9v.9h-.9zM40.1 46.9h.9v.9h-.9zM103.9 47.0h.9v.9h-.9zM30.0 50.1h.9v.9h-.9zM33.0 49.9h.9v.9h-.9zM41.1 49.9h.9v.9h-.9zM46.0 50.0h.9v.9h-.9zM41.1 50.9h.9v.9h-.9zM38.0 52.0h.9v.9h-.9zM38.0 53.1h.9v.9h-.9zM41.9 52.9h.9v.9h-.9zM41.0 54.1h.9v.9h-.9zM34.1 55.9h.9v.9h-.9zM34.9 56.0h.9v.9h-.9zM36.1 56.0h.9v.9h-.9zM44.9 57.0h.9v.9h-.9zM41.0 58.0h.9v.9h-.9zM45.1 59.0h.9v.9h-.9zM40.1 60.0h.9v.9h-.9zM28.9 61.0h.9v.9h-.9zM32.0 62.0h.9v.9h-.9zM36.1 61.9h.9v.9h-.9zM40.0 62.1h.9v.9h-.9zM40.9 62.1h.9v.9h-.9zM43.0 62.1h.9v.9h-.9zM38.0 63.1h.9v.9h-.9zM32.0 63.9h.9v.9h-.9zM35.0 64.0h.9v.9h-.9zM71.0 64.0h.9v.9h-.9zM33.9 65.0h.9v.9h-.9zM45.9 64.9h.9v.9h-.9zM38.9 66.1h.9v.9h-.9zM43.0 66.0h.9v.9h-.9zM27.9 67.1h.9v.9h-.9zM45.9 66.9h.9v.9h-.9zM79.1 67.9h.9v.9h-.9zM84.9 67.9h.9v.9h-.9zM27.9 69.0h.9v.9h-.9zM41.0 69.0h.9v.9h-.9zM29.9 70.0h.9v.9h-.9zM37.9 70.0h.9v.9h-.9zM39.9 69.9h.9v.9h-.9zM44.1 70.0h.9v.9h-.9zM34.1 71.0h.9v.9h-.9zM34.9 71.0h.9v.9h-.9zM37.0 71.1h.9v.9h-.9zM38.9 71.0h.9v.9h-.9zM40.0 70.9h.9v.9h-.9zM29.1 71.9h.9v.9h-.9zM30.9 72.0h.9v.9h-.9zM36.9 72.0h.9v.9h-.9zM38.0 72.0h.9v.9h-.9zM44.1 72.1h.9v.9h-.9zM49.1 71.9h.9v.9h-.9zM37.9 73.0h.9v.9h-.9zM40.1 73.0h.9v.9h-.9zM27.1 74.0h.9v.9h-.9zM37.9 74.1h.9v.9h-.9zM40.1 73.9h.9v.9h-.9zM44.1 73.9h.9v.9h-.9zM29.9 75.0h.9v.9h-.9zM31.1 75.1h.9v.9h-.9zM36.1 74.9h.9v.9h-.9zM37.0 74.9h.9v.9h-.9zM47.1 75.0h.9v.9h-.9zM72.0 74.9h.9v.9h-.9zM36.9 76.0h.9v.9h-.9zM39.1 75.9h.9v.9h-.9zM29.9 77.0h.9v.9h-.9zM37.0 77.0h.9v.9h-.9zM38.0 77.1h.9v.9h-.9zM38.9 76.9h.9v.9h-.9zM40.0 77.1h.9v.9h-.9zM34.1 78.0h.9v.9h-.9zM38.1 77.9h.9v.9h-.9zM40.9 78.0h.9v.9h-.9zM47.1 77.9h.9v.9h-.9zM34.0 78.9h.9v.9h-.9zM38.1 79.1h.9v.9h-.9zM39.0 78.9h.9v.9h-.9zM40.0 79.1h.9v.9h-.9zM40.9 79.1h.9v.9h-.9zM70.0 79.0h.9v.9h-.9zM30.9 80.1h.9v.9h-.9zM34.0 80.0h.9v.9h-.9zM37.0 80.0h.9v.9h-.9zM42.1 79.9h.9v.9h-.9zM43.9 80.0h.9v.9h-.9zM39.1 80.9h.9v.9h-.9zM62.1 81.0h.9v.9h-.9zM37.9 81.9h.9v.9h-.9zM56.9 81.9h.9v.9h-.9zM60.0 82.1h.9v.9h-.9zM31.9 82.9h.9v.9h-.9zM45.1 83.1h.9v.9h-.9zM46.1 83.1h.9v.9h-.9zM61.9 83.1h.9v.9h-.9zM63.9 83.1h.9v.9h-.9zM31.0 84.0h.9v.9h-.9zM32.1 84.0h.9v.9h-.9zM38.9 84.1h.9v.9h-.9zM39.9 84.1h.9v.9h-.9zM33.9 85.0h.9v.9h-.9zM37.1 85.0h.9v.9h-.9zM42.9 85.1h.9v.9h-.9zM53.0 85.1h.9v.9h-.9zM60.0 84.9h.9v.9h-.9zM60.9 85.0h.9v.9h-.9zM64.1 84.9h.9v.9h-.9zM36.0 87.1h.9v.9h-.9zM36.9 87.1h.9v.9h-.9zM66.1 87.1h.9v.9h-.9zM41.0 88.1h.9v.9h-.9zM44.9 88.0h.9v.9h-.9zM46.9 88.0h.9v.9h-.9zM48.9 87.9h.9v.9h-.9zM58.1 88.1h.9v.9h-.9zM59.1 88.1h.9v.9h-.9zM61.1 87.9h.9v.9h-.9zM61.9 88.0h.9v.9h-.9zM31.1 88.9h.9v.9h-.9zM34.1 89.0h.9v.9h-.9zM44.1 89.1h.9v.9h-.9zM48.1 89.1h.9v.9h-.9zM50.0 88.9h.9v.9h-.9zM51.0 89.0h.9v.9h-.9zM52.0 89.1h.9v.9h-.9zM54.1 88.9h.9v.9h-.9zM56.0 89.1h.9v.9h-.9zM57.1 89.0h.9v.9h-.9zM58.1 89.1h.9v.9h-.9zM59.9 89.1h.9v.9h-.9zM36.1 90.0h.9v.9h-.9zM47.0 90.1h.9v.9h-.9zM53.0 89.9h.9v.9h-.9zM54.0 90.1h.9v.9h-.9zM58.1 90.1h.9v.9h-.9zM28.0 90.9h.9v.9h-.9zM30.1 90.9h.9v.9h-.9zM47.9 91.0h.9v.9h-.9zM51.1 91.0h.9v.9h-.9zM54.0 90.9h.9v.9h-.9zM55.0 90.9h.9v.9h-.9zM58.1 90.9h.9v.9h-.9zM59.1 91.1h.9v.9h-.9zM27.1 92.0h.9v.9h-.9zM40.0 92.1h.9v.9h-.9zM47.1 91.9h.9v.9h-.9zM53.9 91.9h.9v.9h-.9zM56.1 92.0h.9v.9h-.9zM57.1 91.9h.9v.9h-.9zM36.1 93.1h.9v.9h-.9zM40.1 92.9h.9v.9h-.9zM50.9 92.9h.9v.9h-.9zM56.9 93.1h.9v.9h-.9zM28.9 94.1h.9v.9h-.9zM31.1 94.0h.9v.9h-.9zM32.1 94.1h.9v.9h-.9zM32.9 94.1h.9v.9h-.9zM34.1 94.1h.9v.9h-.9zM46.1 93.9h.9v.9h-.9zM48.9 94.1h.9v.9h-.9zM50.0 94.0h.9v.9h-.9zM55.9 94.1h.9v.9h-.9zM57.0 94.1h.9v.9h-.9zM33.1 94.9h.9v.9h-.9zM41.0 94.9h.9v.9h-.9zM43.1 95.1h.9v.9h-.9zM48.0 94.9h.9v.9h-.9zM49.9 95.1h.9v.9h-.9zM56.0 95.1h.9v.9h-.9zM58.1 95.1h.9v.9h-.9zM35.9 96.0h.9v.9h-.9zM44.1 96.0h.9v.9h-.9zM47.1 95.9h.9v.9h-.9zM47.9 95.9h.9v.9h-.9zM50.1 95.9h.9v.9h-.9zM52.1 96.1h.9v.9h-.9zM55.1 96.0h.9v.9h-.9zM60.1 96.0h.9v.9h-.9zM28.9 96.9h.9v.9h-.9zM33.0 96.9h.9v.9h-.9zM33.9 97.0h.9v.9h-.9zM39.9 97.1h.9v.9h-.9zM55.1 97.1h.9v.9h-.9zM41.1 97.9h.9v.9h-.9zM52.9 97.9h.9v.9h-.9zM54.0 98.0h.9v.9h-.9zM55.0 97.9h.9v.9h-.9zM58.1 97.9h.9v.9h-.9zM27.9 99.0h.9v.9h-.9zM31.1 99.0h.9v.9h-.9zM37.0 98.9h.9v.9h-.9zM50.1 98.9h.9v.9h-.9zM51.1 99.0h.9v.9h-.9zM52.0 98.9h.9v.9h-.9zM32.9 99.9h.9v.9h-.9zM34.9 100.1h.9v.9h-.9zM46.9 100.0h.9v.9h-.9zM48.9 99.9h.9v.9h-.9zM51.0 100.0h.9v.9h-.9zM55.1 99.9h.9v.9h-.9zM105.0 100.1h.9v.9h-.9zM39.9 100.9h.9v.9h-.9zM46.9 101.0h.9v.9h-.9zM49.9 100.9h.9v.9h-.9zM52.9 101.1h.9v.9h-.9zM55.9 102.1h.9v.9h-.9zM41.0 104.1h.9v.9h-.9zM46.1 104.1h.9v.9h-.9zM38.0 106.0h.9v.9h-.9zM42.9 106.0h.9v.9h-.9zM32.0 108.1h.9v.9h-.9zM35.1 109.1h.9v.9h-.9z" fill="#888888"/>
<path d="M39.1 57.1h.9v.9h-.9zM31.9 62.9h.9v.9h-.9zM40.0 67.1h.9v.9h-.9zM37.9 68.0h.9v.9h-.9zM35.0 75.1h.9v.9h-.9zM37.9 76.0h.9v.9h-.9zM29.9 85.9h.9v.9h-.9zM36.9 89.9h.9v.9h-.9zM57.0 90.0h.9v.9h-.9zM52.9 90.9h.9v.9h-.9zM56.1 91.1h.9v.9h-.9zM57.0 91.0h.9v.9h-.9zM51.1 91.9h.9v.9h-.9zM53.1 92.1h.9v.9h-.9zM54.9 92.1h.9v.9h-.9zM58.1 92.0h.9v.9h-.9zM58.9 92.0h.9v.9h-.9zM51.9 93.1h.9v.9h-.9zM53.1 93.0h.9v.9h-.9zM54.0 93.1h.9v.9h-.9zM55.0 93.1h.9v.9h-.9zM56.1 93.0h.9v.9h-.9zM58.0 93.0h.9v.9h-.9zM51.0 94.1h.9v.9h-.9zM51.9 94.0h.9v.9h-.9zM52.9 94.1h.9v.9h-.9zM54.1 93.9h.9v.9h-.9zM55.0 94.1h.9v.9h-.9zM51.0 94.9h.9v.9h-.9zM51.9 95.0h.9v.9h-.9zM54.1 94.9h.9v.9h-.9zM54.9 95.1h.9v.9h-.9zM54.0 95.9h.9v.9h-.9zM55.9 95.9h.9v.9h-.9zM47.9 96.9h.9v.9h-.9zM49.1 97.1h.9v.9h-.9zM50.1 97.1h.9v.9h-.9zM51.0 97.0h.9v.9h-.9zM52.0 96.9h.9v.9h-.9zM53.0 97.0h.9v.9h-.9zM50.9 98.1h.9v.9h-.9zM52.0 97.9h.9v.9h-.9z" fill="#666666"/>
<path d="M52.9 94.9h.9v.9h-.9zM50.9 95.9h.9v.9h-.9zM52.9 96.1h.9v.9h-.9zM53.9 96.9h.9v.9h-.9z" fill="#444444"/>
<rect x="26.4" y="32.6" width="80.0" height="80.20" fill="none" stroke="#a0a0a0" stroke-width="0.7"/>
<line x1="26.4" y1="113.00" x2="106.4" y2="113.00" stroke="#8c8c8c" stroke-width="0.8"/>
<line x1="26.299999999999997" y1="32.6" x2="26.299999999999997" y2="112.80" stroke="#9a9a9a" stroke-width="0.8"/>
<path d="M27.00 112.80v1.1M30.82 112.80v1.1M34.64 112.80v1.1M38.46 112.80v1.1M42.28 112.80v1.1M46.10 112.80v1.1M49.92 112.80v1.1M53.74 112.80v1.1M57.56 112.80v1.1M61.38 112.80v1.1M65.20 112.80v1.1M69.02 112.80v1.1M72.84 112.80v1.1M76.66 112.80v1.1M80.48 112.80v1.1M84.30 112.80v1.1M88.12 112.80v1.1M91.94 112.80v1.1M95.76 112.80v1.1M99.58 112.80v1.1M103.40 112.80v1.1M25.30 112.80h1.1M25.30 108.84h1.1M25.30 104.88h1.1M25.30 100.92h1.1M25.30 96.96h1.1M25.30 93.00h1.1M25.30 89.04h1.1M25.30 85.08h1.1M25.30 81.12h1.1M25.30 77.16h1.1M25.30 73.20h1.1M25.30 69.24h1.1M25.30 65.28h1.1M25.30 61.32h1.1M25.30 57.36h1.1M25.30 53.40h1.1M25.30 49.44h1.1M25.30 45.48h1.1M25.30 41.52h1.1M25.30 37.56h1.1M25.30 33.60h1.1" stroke="#888" stroke-width="0.6"/>
<line x1="24.799999999999997" y1="112.80" x2="26.4" y2="112.80" stroke="#999" stroke-width="0.6"/>
<text x="23.20" y="114.40" font-size="4.4" text-anchor="end" fill="#555" stroke="#555" stroke-width="0.05">0</text>
<line x1="27.00" y1="112.8" x2="27.00" y2="114.39999999999999" stroke="#999" stroke-width="0.6"/>
<text x="27.00" y="119.60" font-size="4.4" text-anchor="middle" fill="#555" stroke="#555" stroke-width="0.05">0</text>
<line x1="24.799999999999997" y1="96.96" x2="26.4" y2="96.96" stroke="#999" stroke-width="0.6"/>
<text x="23.20" y="98.56" font-size="4.4" text-anchor="end" fill="#555" stroke="#555" stroke-width="0.05">200</text>
<line x1="42.28" y1="112.8" x2="42.28" y2="114.39999999999999" stroke="#999" stroke-width="0.6"/>
<text x="42.28" y="119.60" font-size="4.4" text-anchor="middle" fill="#555" stroke="#555" stroke-width="0.05">200</text>
<line x1="24.799999999999997" y1="81.12" x2="26.4" y2="81.12" stroke="#999" stroke-width="0.6"/>
<text x="23.20" y="82.72" font-size="4.4" text-anchor="end" fill="#555" stroke="#555" stroke-width="0.05">400</text>
<line x1="57.56" y1="112.8" x2="57.56" y2="114.39999999999999" stroke="#999" stroke-width="0.6"/>
<text x="57.56" y="119.60" font-size="4.4" text-anchor="middle" fill="#555" stroke="#555" stroke-width="0.05">400</text>
<line x1="24.799999999999997" y1="65.28" x2="26.4" y2="65.28" stroke="#999" stroke-width="0.6"/>
<text x="23.20" y="66.88" font-size="4.4" text-anchor="end" fill="#555" stroke="#555" stroke-width="0.05">600</text>
<line x1="72.84" y1="112.8" x2="72.84" y2="114.39999999999999" stroke="#999" stroke-width="0.6"/>
<text x="72.84" y="119.60" font-size="4.4" text-anchor="middle" fill="#555" stroke="#555" stroke-width="0.05">600</text>
<line x1="24.799999999999997" y1="49.44" x2="26.4" y2="49.44" stroke="#999" stroke-width="0.6"/>
<text x="23.20" y="51.04" font-size="4.4" text-anchor="end" fill="#555" stroke="#555" stroke-width="0.05">800</text>
<line x1="88.12" y1="112.8" x2="88.12" y2="114.39999999999999" stroke="#999" stroke-width="0.6"/>
<text x="88.12" y="119.60" font-size="4.4" text-anchor="middle" fill="#555" stroke="#555" stroke-width="0.05">800</text>
<line x1="24.799999999999997" y1="33.60" x2="26.4" y2="33.60" stroke="#999" stroke-width="0.6"/>
<text x="23.20" y="35.20" font-size="4.4" text-anchor="end" fill="#555" stroke="#555" stroke-width="0.05">1000</text>
<line x1="103.40" y1="112.8" x2="103.40" y2="114.39999999999999" stroke="#999" stroke-width="0.6"/>
<text x="103.40" y="119.60" font-size="4.4" text-anchor="middle" fill="#555" stroke="#555" stroke-width="0.05">1000</text>
<g fill="none" stroke="#1a1a1a" stroke-width="1.15">
<ellipse cx="39.2" cy="77.70" rx="28.4" ry="8.5" transform="rotate(94.5 39.2 77.70)"/>
<ellipse cx="50.2" cy="98.20" rx="14.8" ry="8.0" transform="rotate(-42.6 50.2 98.20)"/>
<polygon points="57.4,83.40 76.5,33.30 106.6,33.30 106.6,58.70 64.3,90.00"/>
</g>
<text x="39.60" y="65.60" font-size="7.1" font-weight="bold" text-anchor="middle" fill="#111" stroke="#111" stroke-width="0.5">Ap</text>
<text x="51.30" y="98.90" font-size="7.1" font-weight="bold" text-anchor="middle" fill="#111" stroke="#111" stroke-width="0.5">NB</text>
<text x="85.00" y="56.40" font-size="7.1" font-weight="bold" text-anchor="middle" fill="#111" stroke="#111" stroke-width="0.45">Bl</text>
<text x="67.30" y="28.10" font-size="8.2" font-weight="bold" text-anchor="middle" fill="#111" stroke="#111" stroke-width="0.25" textLength="28.30" lengthAdjust="spacingAndGlyphs">Untreat.</text>
<path d="M34.0 154.0h.9v.9h-.9zM44.9 154.0h.9v.9h-.9zM46.1 154.1h.9v.9h-.9zM70.1 154.0h.9v.9h-.9zM74.1 154.1h.9v.9h-.9zM75.0 153.9h.9v.9h-.9zM91.0 153.9h.9v.9h-.9zM96.0 154.0h.9v.9h-.9zM28.0 154.9h.9v.9h-.9zM31.0 155.0h.9v.9h-.9zM36.0 155.1h.9v.9h-.9zM76.1 155.1h.9v.9h-.9zM77.0 155.1h.9v.9h-.9zM81.9 154.9h.9v.9h-.9zM100.1 155.1h.9v.9h-.9zM31.0 156.0h.9v.9h-.9zM37.9 156.0h.9v.9h-.9zM48.9 155.9h.9v.9h-.9zM51.9 156.0h.9v.9h-.9zM76.0 156.1h.9v.9h-.9zM87.0 156.1h.9v.9h-.9zM41.9 157.0h.9v.9h-.9zM43.0 157.1h.9v.9h-.9zM46.9 156.9h.9v.9h-.9zM74.1 157.1h.9v.9h-.9zM89.1 157.0h.9v.9h-.9zM38.9 157.9h.9v.9h-.9zM45.0 158.1h.9v.9h-.9zM46.0 158.0h.9v.9h-.9zM50.1 158.1h.9v.9h-.9zM62.9 158.1h.9v.9h-.9zM73.9 158.1h.9v.9h-.9zM104.1 158.0h.9v.9h-.9zM35.9 159.0h.9v.9h-.9zM42.9 159.0h.9v.9h-.9zM51.9 158.9h.9v.9h-.9zM82.1 158.9h.9v.9h-.9zM43.9 159.9h.9v.9h-.9zM52.0 159.9h.9v.9h-.9zM74.1 160.1h.9v.9h-.9zM79.0 159.9h.9v.9h-.9zM33.9 160.9h.9v.9h-.9zM36.9 161.0h.9v.9h-.9zM53.1 160.9h.9v.9h-.9zM53.9 161.0h.9v.9h-.9zM72.0 160.9h.9v.9h-.9zM79.0 161.1h.9v.9h-.9zM51.0 162.1h.9v.9h-.9zM57.1 162.0h.9v.9h-.9zM76.1 162.0h.9v.9h-.9zM82.1 161.9h.9v.9h-.9zM35.0 163.1h.9v.9h-.9zM46.1 163.0h.9v.9h-.9zM54.0 162.9h.9v.9h-.9zM57.1 162.9h.9v.9h-.9zM88.9 162.9h.9v.9h-.9zM101.9 163.0h.9v.9h-.9zM31.9 164.1h.9v.9h-.9zM37.1 163.9h.9v.9h-.9zM47.9 164.0h.9v.9h-.9zM65.1 164.0h.9v.9h-.9zM69.9 163.9h.9v.9h-.9zM77.0 164.1h.9v.9h-.9zM98.0 164.0h.9v.9h-.9zM101.1 164.1h.9v.9h-.9zM101.9 164.1h.9v.9h-.9zM48.0 164.9h.9v.9h-.9zM52.1 165.1h.9v.9h-.9zM86.9 165.1h.9v.9h-.9zM93.0 165.0h.9v.9h-.9zM32.1 166.1h.9v.9h-.9zM50.1 166.1h.9v.9h-.9zM52.1 165.9h.9v.9h-.9zM39.9 167.0h.9v.9h-.9zM57.1 167.1h.9v.9h-.9zM88.1 167.1h.9v.9h-.9zM96.1 167.0h.9v.9h-.9zM27.0 168.1h.9v.9h-.9zM62.0 168.0h.9v.9h-.9zM67.0 167.9h.9v.9h-.9zM89.0 167.9h.9v.9h-.9zM39.0 169.0h.9v.9h-.9zM48.9 169.1h.9v.9h-.9zM49.9 169.1h.9v.9h-.9zM52.1 169.0h.9v.9h-.9zM77.9 169.1h.9v.9h-.9zM88.0 169.0h.9v.9h-.9zM93.0 169.0h.9v.9h-.9zM28.0 170.1h.9v.9h-.9zM46.1 169.9h.9v.9h-.9zM61.0 169.9h.9v.9h-.9zM67.0 169.9h.9v.9h-.9zM70.9 170.1h.9v.9h-.9zM72.1 170.0h.9v.9h-.9zM91.1 169.9h.9v.9h-.9zM51.1 171.0h.9v.9h-.9zM86.1 171.0h.9v.9h-.9zM91.9 171.0h.9v.9h-.9zM58.1 171.9h.9v.9h-.9zM78.9 172.1h.9v.9h-.9zM92.9 172.0h.9v.9h-.9zM102.0 172.0h.9v.9h-.9zM40.0 172.9h.9v.9h-.9zM42.0 172.9h.9v.9h-.9zM98.0 173.1h.9v.9h-.9zM50.1 173.9h.9v.9h-.9zM99.9 174.1h.9v.9h-.9zM105.0 173.9h.9v.9h-.9zM29.9 175.0h.9v.9h-.9zM31.1 175.1h.9v.9h-.9zM33.0 174.9h.9v.9h-.9zM36.9 174.9h.9v.9h-.9zM54.0 174.9h.9v.9h-.9zM75.9 175.0h.9v.9h-.9zM90.0 174.9h.9v.9h-.9zM91.1 174.9h.9v.9h-.9zM102.9 175.0h.9v.9h-.9zM30.0 176.1h.9v.9h-.9zM38.0 176.1h.9v.9h-.9zM55.0 176.0h.9v.9h-.9zM59.1 176.0h.9v.9h-.9zM80.0 176.1h.9v.9h-.9zM98.9 176.1h.9v.9h-.9zM100.9 176.1h.9v.9h-.9zM27.9 177.1h.9v.9h-.9zM31.9 177.0h.9v.9h-.9zM51.9 177.0h.9v.9h-.9zM62.9 177.0h.9v.9h-.9zM101.0 176.9h.9v.9h-.9zM101.9 177.1h.9v.9h-.9zM50.1 178.0h.9v.9h-.9zM51.0 178.1h.9v.9h-.9zM57.0 178.0h.9v.9h-.9zM58.0 177.9h.9v.9h-.9zM65.1 178.0h.9v.9h-.9zM80.0 178.1h.9v.9h-.9zM80.9 178.1h.9v.9h-.9zM100.0 178.1h.9v.9h-.9zM34.0 179.1h.9v.9h-.9zM43.9 179.0h.9v.9h-.9zM63.0 179.1h.9v.9h-.9zM46.0 180.1h.9v.9h-.9zM59.9 179.9h.9v.9h-.9zM77.9 180.9h.9v.9h-.9zM65.0 182.0h.9v.9h-.9zM69.0 181.9h.9v.9h-.9zM71.9 181.9h.9v.9h-.9zM79.1 182.0h.9v.9h-.9zM60.9 182.9h.9v.9h-.9zM73.0 183.0h.9v.9h-.9zM74.1 183.1h.9v.9h-.9zM54.1 183.9h.9v.9h-.9zM69.1 183.9h.9v.9h-.9zM87.1 184.1h.9v.9h-.9zM61.9 184.9h.9v.9h-.9zM85.0 185.0h.9v.9h-.9zM26.9 186.1h.9v.9h-.9zM54.1 186.0h.9v.9h-.9zM27.9 187.1h.9v.9h-.9zM93.9 186.9h.9v.9h-.9zM53.9 187.9h.9v.9h-.9zM59.0 188.1h.9v.9h-.9zM69.9 187.9h.9v.9h-.9zM44.1 189.0h.9v.9h-.9zM50.1 189.1h.9v.9h-.9zM51.0 190.1h.9v.9h-.9zM61.0 190.0h.9v.9h-.9zM65.0 189.9h.9v.9h-.9zM66.1 190.1h.9v.9h-.9zM67.0 190.0h.9v.9h-.9zM79.1 190.0h.9v.9h-.9zM88.0 190.1h.9v.9h-.9zM51.1 192.1h.9v.9h-.9zM52.1 192.1h.9v.9h-.9zM53.9 192.1h.9v.9h-.9zM82.9 191.9h.9v.9h-.9zM93.9 192.0h.9v.9h-.9zM54.1 193.0h.9v.9h-.9zM59.0 193.1h.9v.9h-.9zM53.0 194.0h.9v.9h-.9zM62.1 193.9h.9v.9h-.9zM97.1 194.0h.9v.9h-.9zM102.9 194.9h.9v.9h-.9zM78.1 197.0h.9v.9h-.9zM47.1 198.1h.9v.9h-.9zM100.0 198.9h.9v.9h-.9zM46.1 201.1h.9v.9h-.9zM73.9 202.1h.9v.9h-.9zM70.1 203.0h.9v.9h-.9zM98.9 203.0h.9v.9h-.9zM49.1 205.9h.9v.9h-.9zM44.1 206.9h.9v.9h-.9zM46.9 209.1h.9v.9h-.9zM50.0 209.0h.9v.9h-.9zM66.9 209.9h.9v.9h-.9zM93.1 210.1h.9v.9h-.9zM44.9 211.0h.9v.9h-.9zM27.1 212.1h.9v.9h-.9zM65.0 212.0h.9v.9h-.9zM41.9 213.1h.9v.9h-.9zM48.0 213.0h.9v.9h-.9zM78.1 215.1h.9v.9h-.9zM90.0 215.1h.9v.9h-.9zM103.1 216.1h.9v.9h-.9zM29.0 216.9h.9v.9h-.9zM95.0 218.1h.9v.9h-.9zM103.9 217.9h.9v.9h-.9zM27.1 219.0h.9v.9h-.9zM45.1 219.9h.9v.9h-.9zM39.9 220.9h.9v.9h-.9zM56.9 220.9h.9v.9h-.9zM36.9 222.0h.9v.9h-.9zM38.9 221.9h.9v.9h-.9zM42.9 222.0h.9v.9h-.9zM48.0 222.1h.9v.9h-.9zM53.0 222.0h.9v.9h-.9zM79.1 222.9h.9v.9h-.9zM45.1 223.9h.9v.9h-.9zM27.0 224.9h.9v.9h-.9zM47.1 225.0h.9v.9h-.9zM54.0 225.0h.9v.9h-.9zM39.0 226.1h.9v.9h-.9zM52.9 226.1h.9v.9h-.9zM32.0 227.0h.9v.9h-.9zM34.0 227.0h.9v.9h-.9zM53.9 227.0h.9v.9h-.9zM36.1 228.0h.9v.9h-.9zM40.0 228.0h.9v.9h-.9zM81.9 228.0h.9v.9h-.9zM92.1 227.9h.9v.9h-.9zM55.1 229.0h.9v.9h-.9zM36.0 230.0h.9v.9h-.9zM47.0 230.1h.9v.9h-.9zM52.9 230.0h.9v.9h-.9zM41.9 231.0h.9v.9h-.9zM44.9 231.0h.9v.9h-.9zM54.0 230.9h.9v.9h-.9zM43.9 232.0h.9v.9h-.9zM60.0 231.9h.9v.9h-.9zM67.9 231.9h.9v.9h-.9z" fill="#d2d2d2"/>
<path d="M32.9 153.9h.9v.9h-.9zM36.9 153.9h.9v.9h-.9zM47.9 153.9h.9v.9h-.9zM48.9 153.9h.9v.9h-.9zM57.1 154.0h.9v.9h-.9zM94.0 154.0h.9v.9h-.9zM90.0 154.9h.9v.9h-.9zM34.0 155.9h.9v.9h-.9zM42.1 156.0h.9v.9h-.9zM61.9 156.0h.9v.9h-.9zM81.9 156.0h.9v.9h-.9zM95.1 155.9h.9v.9h-.9zM96.9 156.1h.9v.9h-.9zM101.9 155.9h.9v.9h-.9zM35.0 157.1h.9v.9h-.9zM37.9 156.9h.9v.9h-.9zM39.1 157.0h.9v.9h-.9zM39.9 157.0h.9v.9h-.9zM44.9 157.1h.9v.9h-.9zM79.1 156.9h.9v.9h-.9zM84.1 157.1h.9v.9h-.9zM98.0 157.1h.9v.9h-.9zM100.1 156.9h.9v.9h-.9zM26.9 157.9h.9v.9h-.9zM41.0 158.0h.9v.9h-.9zM55.9 158.0h.9v.9h-.9zM72.9 158.0h.9v.9h-.9zM79.1 157.9h.9v.9h-.9zM100.9 158.0h.9v.9h-.9zM27.9 159.1h.9v.9h-.9zM31.1 158.9h.9v.9h-.9zM33.1 158.9h.9v.9h-.9zM34.1 158.9h.9v.9h-.9zM47.1 158.9h.9v.9h-.9zM52.9 159.1h.9v.9h-.9zM58.0 159.1h.9v.9h-.9zM78.9 159.0h.9v.9h-.9zM84.0 159.0h.9v.9h-.9zM101.1 159.0h.9v.9h-.9zM32.0 160.1h.9v.9h-.9zM46.0 159.9h.9v.9h-.9zM48.9 160.0h.9v.9h-.9zM57.0 160.1h.9v.9h-.9zM68.9 159.9h.9v.9h-.9zM94.0 160.1h.9v.9h-.9zM96.0 160.1h.9v.9h-.9zM97.1 159.9h.9v.9h-.9zM99.9 159.9h.9v.9h-.9zM48.0 161.1h.9v.9h-.9zM54.9 161.0h.9v.9h-.9zM76.1 160.9h.9v.9h-.9zM90.1 161.0h.9v.9h-.9zM94.1 161.0h.9v.9h-.9zM37.0 161.9h.9v.9h-.9zM38.1 162.1h.9v.9h-.9zM42.0 162.1h.9v.9h-.9zM42.9 162.0h.9v.9h-.9zM53.9 161.9h.9v.9h-.9zM72.9 162.0h.9v.9h-.9zM74.0 161.9h.9v.9h-.9zM88.0 162.0h.9v.9h-.9zM98.1 161.9h.9v.9h-.9zM30.0 163.0h.9v.9h-.9zM39.1 163.0h.9v.9h-.9zM61.1 163.1h.9v.9h-.9zM71.1 163.1h.9v.9h-.9zM78.0 162.9h.9v.9h-.9zM87.1 163.0h.9v.9h-.9zM88.1 162.9h.9v.9h-.9zM40.9 164.1h.9v.9h-.9zM42.1 164.1h.9v.9h-.9zM59.0 164.0h.9v.9h-.9zM84.9 163.9h.9v.9h-.9zM89.1 163.9h.9v.9h-.9zM96.9 164.1h.9v.9h-.9zM28.9 165.0h.9v.9h-.9zM35.9 165.0h.9v.9h-.9zM65.0 165.0h.9v.9h-.9zM73.0 165.0h.9v.9h-.9zM75.1 164.9h.9v.9h-.9zM94.0 165.1h.9v.9h-.9zM96.9 165.1h.9v.9h-.9zM100.0 165.1h.9v.9h-.9zM101.9 164.9h.9v.9h-.9zM105.1 165.0h.9v.9h-.9zM30.1 165.9h.9v.9h-.9zM38.1 166.0h.9v.9h-.9zM39.0 166.1h.9v.9h-.9zM90.0 166.1h.9v.9h-.9zM92.9 165.9h.9v.9h-.9zM98.9 165.9h.9v.9h-.9zM101.0 166.1h.9v.9h-.9zM103.9 166.1h.9v.9h-.9zM26.9 167.1h.9v.9h-.9zM44.1 167.0h.9v.9h-.9zM44.9 166.9h.9v.9h-.9zM50.0 166.9h.9v.9h-.9zM52.0 167.0h.9v.9h-.9zM64.1 167.0h.9v.9h-.9zM77.0 167.1h.9v.9h-.9zM89.0 167.0h.9v.9h-.9zM29.1 168.0h.9v.9h-.9zM29.9 168.1h.9v.9h-.9zM35.0 168.1h.9v.9h-.9zM38.1 167.9h.9v.9h-.9zM40.1 168.0h.9v.9h-.9zM42.9 168.0h.9v.9h-.9zM47.1 168.0h.9v.9h-.9zM56.0 167.9h.9v.9h-.9zM67.9 168.1h.9v.9h-.9zM74.1 167.9h.9v.9h-.9zM80.0 168.1h.9v.9h-.9zM84.0 168.1h.9v.9h-.9zM84.9 167.9h.9v.9h-.9zM31.1 168.9h.9v.9h-.9zM34.0 169.0h.9v.9h-.9zM38.1 168.9h.9v.9h-.9zM46.9 168.9h.9v.9h-.9zM59.9 169.1h.9v.9h-.9zM82.9 169.0h.9v.9h-.9zM85.1 169.1h.9v.9h-.9zM88.9 169.0h.9v.9h-.9zM103.9 168.9h.9v.9h-.9zM29.1 170.1h.9v.9h-.9zM31.1 170.0h.9v.9h-.9zM35.1 169.9h.9v.9h-.9zM36.9 169.9h.9v.9h-.9zM41.0 169.9h.9v.9h-.9zM47.0 169.9h.9v.9h-.9zM66.0 170.0h.9v.9h-.9zM69.0 170.0h.9v.9h-.9zM79.1 169.9h.9v.9h-.9zM80.1 169.9h.9v.9h-.9zM88.9 170.0h.9v.9h-.9zM96.0 169.9h.9v.9h-.9zM97.1 170.0h.9v.9h-.9zM100.1 170.1h.9v.9h-.9zM105.1 170.0h.9v.9h-.9zM31.9 171.1h.9v.9h-.9zM33.0 171.0h.9v.9h-.9zM44.1 171.0h.9v.9h-.9zM47.1 171.1h.9v.9h-.9zM67.9 171.1h.9v.9h-.9zM69.9 171.1h.9v.9h-.9zM82.1 170.9h.9v.9h-.9zM83.0 171.1h.9v.9h-.9zM85.1 171.0h.9v.9h-.9zM89.9 171.0h.9v.9h-.9zM30.1 172.0h.9v.9h-.9zM31.0 172.0h.9v.9h-.9zM33.0 172.1h.9v.9h-.9zM34.0 171.9h.9v.9h-.9zM36.1 172.1h.9v.9h-.9zM54.9 172.0h.9v.9h-.9zM74.9 172.1h.9v.9h-.9zM78.0 172.1h.9v.9h-.9zM83.1 172.0h.9v.9h-.9zM92.1 172.1h.9v.9h-.9zM96.1 172.0h.9v.9h-.9zM104.9 172.0h.9v.9h-.9zM30.0 173.0h.9v.9h-.9zM37.1 173.0h.9v.9h-.9zM37.9 173.1h.9v.9h-.9zM43.0 173.0h.9v.9h-.9zM66.1 173.0h.9v.9h-.9zM74.1 173.1h.9v.9h-.9zM77.0 173.0h.9v.9h-.9zM78.9 173.1h.9v.9h-.9zM80.0 173.1h.9v.9h-.9zM81.1 173.0h.9v.9h-.9zM86.9 172.9h.9v.9h-.9zM90.1 173.1h.9v.9h-.9zM97.0 173.1h.9v.9h-.9zM105.1 173.0h.9v.9h-.9zM34.1 174.0h.9v.9h-.9zM35.9 174.0h.9v.9h-.9zM37.9 174.0h.9v.9h-.9zM41.0 174.0h.9v.9h-.9zM43.0 173.9h.9v.9h-.9zM44.1 174.1h.9v.9h-.9zM46.1 174.1h.9v.9h-.9zM74.9 174.0h.9v.9h-.9zM77.9 174.1h.9v.9h-.9zM82.9 174.0h.9v.9h-.9zM90.0 173.9h.9v.9h-.9zM94.0 173.9h.9v.9h-.9zM102.9 173.9h.9v.9h-.9zM27.9 175.0h.9v.9h-.9zM38.1 175.1h.9v.9h-.9zM46.0 174.9h.9v.9h-.9zM69.9 175.1h.9v.9h-.9zM72.9 175.0h.9v.9h-.9zM74.9 174.9h.9v.9h-.9zM80.9 175.0h.9v.9h-.9zM37.1 175.9h.9v.9h-.9zM38.9 176.1h.9v.9h-.9zM41.1 176.0h.9v.9h-.9zM44.9 175.9h.9v.9h-.9zM61.9 176.1h.9v.9h-.9zM71.1 175.9h.9v.9h-.9zM78.0 175.9h.9v.9h-.9zM87.0 175.9h.9v.9h-.9zM93.0 175.9h.9v.9h-.9zM96.1 176.0h.9v.9h-.9zM100.0 176.0h.9v.9h-.9zM104.0 175.9h.9v.9h-.9zM31.0 177.1h.9v.9h-.9zM41.0 176.9h.9v.9h-.9zM41.9 176.9h.9v.9h-.9zM45.0 176.9h.9v.9h-.9zM51.0 176.9h.9v.9h-.9zM65.0 176.9h.9v.9h-.9zM76.1 176.9h.9v.9h-.9zM81.9 177.0h.9v.9h-.9zM87.9 177.0h.9v.9h-.9zM96.0 177.1h.9v.9h-.9zM98.1 177.1h.9v.9h-.9zM33.9 178.0h.9v.9h-.9zM34.9 178.0h.9v.9h-.9zM35.9 178.0h.9v.9h-.9zM37.0 178.0h.9v.9h-.9zM44.1 177.9h.9v.9h-.9zM52.0 178.0h.9v.9h-.9zM76.9 178.0h.9v.9h-.9zM86.1 177.9h.9v.9h-.9zM88.0 177.9h.9v.9h-.9zM92.1 178.1h.9v.9h-.9zM92.9 178.0h.9v.9h-.9zM94.9 178.0h.9v.9h-.9zM97.9 178.1h.9v.9h-.9zM28.1 178.9h.9v.9h-.9zM37.9 179.1h.9v.9h-.9zM39.0 179.1h.9v.9h-.9zM43.0 179.1h.9v.9h-.9zM56.0 178.9h.9v.9h-.9zM74.1 179.0h.9v.9h-.9zM77.0 179.0h.9v.9h-.9zM80.0 178.9h.9v.9h-.9zM86.1 178.9h.9v.9h-.9zM90.0 179.0h.9v.9h-.9zM92.0 178.9h.9v.9h-.9zM105.1 179.1h.9v.9h-.9zM28.0 180.1h.9v.9h-.9zM29.0 179.9h.9v.9h-.9zM32.1 180.1h.9v.9h-.9zM34.0 180.1h.9v.9h-.9zM42.0 179.9h.9v.9h-.9zM68.9 180.0h.9v.9h-.9zM69.9 180.0h.9v.9h-.9zM72.9 180.0h.9v.9h-.9zM73.9 180.0h.9v.9h-.9zM76.9 180.0h.9v.9h-.9zM79.0 180.1h.9v.9h-.9zM81.9 180.0h.9v.9h-.9zM82.9 180.1h.9v.9h-.9zM87.0 179.9h.9v.9h-.9zM88.9 179.9h.9v.9h-.9zM89.9 180.1h.9v.9h-.9zM91.1 179.9h.9v.9h-.9zM104.9 180.0h.9v.9h-.9zM32.0 181.0h.9v.9h-.9zM32.9 181.0h.9v.9h-.9zM34.9 181.0h.9v.9h-.9zM37.0 181.1h.9v.9h-.9zM38.0 181.1h.9v.9h-.9zM41.9 181.0h.9v.9h-.9zM43.0 181.1h.9v.9h-.9zM45.0 181.1h.9v.9h-.9zM47.9 181.0h.9v.9h-.9zM50.0 181.0h.9v.9h-.9zM55.1 181.0h.9v.9h-.9zM57.9 181.1h.9v.9h-.9zM60.1 181.1h.9v.9h-.9zM63.0 180.9h.9v.9h-.9zM63.9 180.9h.9v.9h-.9zM67.1 181.0h.9v.9h-.9zM69.9 180.9h.9v.9h-.9zM85.1 181.0h.9v.9h-.9zM95.0 180.9h.9v.9h-.9zM96.1 181.0h.9v.9h-.9zM97.0 181.1h.9v.9h-.9zM101.1 181.0h.9v.9h-.9zM28.0 182.0h.9v.9h-.9zM28.9 182.1h.9v.9h-.9zM31.1 182.1h.9v.9h-.9zM32.1 182.0h.9v.9h-.9zM44.0 182.0h.9v.9h-.9zM45.0 181.9h.9v.9h-.9zM63.1 181.9h.9v.9h-.9zM66.0 182.1h.9v.9h-.9zM76.0 181.9h.9v.9h-.9zM76.9 182.0h.9v.9h-.9zM80.9 182.0h.9v.9h-.9zM84.1 181.9h.9v.9h-.9zM93.0 182.1h.9v.9h-.9zM28.1 183.0h.9v.9h-.9zM29.0 182.9h.9v.9h-.9zM30.9 183.0h.9v.9h-.9zM41.9 182.9h.9v.9h-.9zM48.9 183.0h.9v.9h-.9zM65.0 183.0h.9v.9h-.9zM68.9 183.0h.9v.9h-.9zM71.1 182.9h.9v.9h-.9zM82.1 183.1h.9v.9h-.9zM84.1 183.0h.9v.9h-.9zM94.1 183.1h.9v.9h-.9zM27.9 184.1h.9v.9h-.9zM29.1 183.9h.9v.9h-.9zM43.1 184.0h.9v.9h-.9zM45.0 184.1h.9v.9h-.9zM48.0 183.9h.9v.9h-.9zM50.0 183.9h.9v.9h-.9zM62.1 183.9h.9v.9h-.9zM70.1 184.0h.9v.9h-.9zM73.9 183.9h.9v.9h-.9zM77.1 184.0h.9v.9h-.9zM78.1 184.0h.9v.9h-.9zM80.9 183.9h.9v.9h-.9zM84.1 184.1h.9v.9h-.9zM87.9 184.1h.9v.9h-.9zM89.1 184.0h.9v.9h-.9zM90.1 184.1h.9v.9h-.9zM26.9 185.0h.9v.9h-.9zM31.1 185.1h.9v.9h-.9zM47.9 185.1h.9v.9h-.9zM57.9 185.1h.9v.9h-.9zM61.1 185.0h.9v.9h-.9zM65.9 185.1h.9v.9h-.9zM72.0 185.0h.9v.9h-.9zM73.1 185.0h.9v.9h-.9zM75.0 185.1h.9v.9h-.9zM78.0 185.0h.9v.9h-.9zM79.9 185.1h.9v.9h-.9zM80.9 185.1h.9v.9h-.9zM98.1 185.1h.9v.9h-.9zM28.9 186.1h.9v.9h-.9zM29.9 186.0h.9v.9h-.9zM33.0 186.0h.9v.9h-.9zM56.1 186.1h.9v.9h-.9zM58.9 185.9h.9v.9h-.9zM63.9 186.0h.9v.9h-.9zM67.0 186.0h.9v.9h-.9zM68.1 186.1h.9v.9h-.9zM83.0 186.1h.9v.9h-.9zM84.0 186.1h.9v.9h-.9zM85.1 185.9h.9v.9h-.9zM88.0 185.9h.9v.9h-.9zM89.0 185.9h.9v.9h-.9zM90.9 185.9h.9v.9h-.9zM100.0 186.0h.9v.9h-.9zM43.9 187.1h.9v.9h-.9zM47.0 186.9h.9v.9h-.9zM56.1 186.9h.9v.9h-.9zM61.1 186.9h.9v.9h-.9zM68.1 187.0h.9v.9h-.9zM70.1 187.0h.9v.9h-.9zM81.1 187.0h.9v.9h-.9zM86.0 186.9h.9v.9h-.9zM88.9 187.1h.9v.9h-.9zM92.9 186.9h.9v.9h-.9zM26.9 188.0h.9v.9h-.9zM28.1 187.9h.9v.9h-.9zM30.9 188.0h.9v.9h-.9zM45.1 188.0h.9v.9h-.9zM49.9 188.1h.9v.9h-.9zM71.0 188.1h.9v.9h-.9zM71.9 188.0h.9v.9h-.9zM84.0 188.1h.9v.9h-.9zM84.9 188.0h.9v.9h-.9zM88.1 187.9h.9v.9h-.9zM88.9 187.9h.9v.9h-.9zM99.1 188.1h.9v.9h-.9zM45.0 189.1h.9v.9h-.9zM56.9 189.0h.9v.9h-.9zM60.1 189.0h.9v.9h-.9zM62.9 189.1h.9v.9h-.9zM69.0 189.1h.9v.9h-.9zM73.1 189.1h.9v.9h-.9zM84.9 188.9h.9v.9h-.9zM86.0 189.0h.9v.9h-.9zM88.9 189.1h.9v.9h-.9zM90.0 189.1h.9v.9h-.9zM29.1 189.9h.9v.9h-.9zM44.1 190.1h.9v.9h-.9zM48.0 190.0h.9v.9h-.9zM63.0 190.0h.9v.9h-.9zM99.0 190.0h.9v.9h-.9zM27.1 191.0h.9v.9h-.9zM28.9 190.9h.9v.9h-.9zM44.9 190.9h.9v.9h-.9zM59.9 191.1h.9v.9h-.9zM70.9 191.0h.9v.9h-.9zM84.1 191.1h.9v.9h-.9zM96.1 191.0h.9v.9h-.9zM50.0 191.9h.9v.9h-.9zM61.1 192.0h.9v.9h-.9zM62.9 192.1h.9v.9h-.9zM64.0 192.0h.9v.9h-.9zM67.1 192.0h.9v.9h-.9zM80.9 192.1h.9v.9h-.9zM83.9 191.9h.9v.9h-.9zM101.0 192.0h.9v.9h-.9zM43.9 193.1h.9v.9h-.9zM44.9 193.1h.9v.9h-.9zM53.0 192.9h.9v.9h-.9zM56.1 193.0h.9v.9h-.9zM57.9 193.0h.9v.9h-.9zM61.1 193.0h.9v.9h-.9zM61.9 192.9h.9v.9h-.9zM65.1 192.9h.9v.9h-.9zM66.0 193.0h.9v.9h-.9zM76.1 193.0h.9v.9h-.9zM82.0 193.0h.9v.9h-.9zM85.1 192.9h.9v.9h-.9zM27.9 194.1h.9v.9h-.9zM45.9 193.9h.9v.9h-.9zM50.9 193.9h.9v.9h-.9zM58.9 194.1h.9v.9h-.9zM64.0 193.9h.9v.9h-.9zM80.0 193.9h.9v.9h-.9zM82.0 193.9h.9v.9h-.9zM82.9 193.9h.9v.9h-.9zM28.9 195.1h.9v.9h-.9zM44.0 195.1h.9v.9h-.9zM44.9 194.9h.9v.9h-.9zM50.0 194.9h.9v.9h-.9zM59.1 195.1h.9v.9h-.9zM60.9 194.9h.9v.9h-.9zM68.1 194.9h.9v.9h-.9zM84.0 194.9h.9v.9h-.9zM43.9 196.0h.9v.9h-.9zM53.0 196.0h.9v.9h-.9zM56.9 196.1h.9v.9h-.9zM59.1 196.1h.9v.9h-.9zM61.9 196.0h.9v.9h-.9zM78.0 195.9h.9v.9h-.9zM56.0 197.1h.9v.9h-.9zM59.1 197.0h.9v.9h-.9zM60.9 197.1h.9v.9h-.9zM78.9 197.0h.9v.9h-.9zM86.0 197.0h.9v.9h-.9zM89.1 197.1h.9v.9h-.9zM57.9 198.1h.9v.9h-.9zM79.0 198.0h.9v.9h-.9zM44.0 199.0h.9v.9h-.9zM49.9 199.1h.9v.9h-.9zM71.9 199.1h.9v.9h-.9zM46.0 199.9h.9v.9h-.9zM54.0 200.0h.9v.9h-.9zM80.9 199.9h.9v.9h-.9zM27.1 200.9h.9v.9h-.9zM47.1 201.1h.9v.9h-.9zM52.1 201.0h.9v.9h-.9zM55.1 201.0h.9v.9h-.9zM72.0 201.1h.9v.9h-.9zM75.9 201.1h.9v.9h-.9zM85.0 200.9h.9v.9h-.9zM26.9 202.1h.9v.9h-.9zM29.1 202.1h.9v.9h-.9zM42.0 201.9h.9v.9h-.9zM47.1 202.1h.9v.9h-.9zM53.0 201.9h.9v.9h-.9zM27.1 203.1h.9v.9h-.9zM53.1 202.9h.9v.9h-.9zM74.0 202.9h.9v.9h-.9zM27.1 203.9h.9v.9h-.9zM82.1 204.1h.9v.9h-.9zM94.9 204.1h.9v.9h-.9zM43.9 205.1h.9v.9h-.9zM52.0 204.9h.9v.9h-.9zM67.9 205.1h.9v.9h-.9zM26.9 206.1h.9v.9h-.9zM29.1 206.0h.9v.9h-.9zM42.9 206.0h.9v.9h-.9zM51.1 205.9h.9v.9h-.9zM53.1 205.9h.9v.9h-.9zM77.9 206.1h.9v.9h-.9zM51.0 207.0h.9v.9h-.9zM53.1 206.9h.9v.9h-.9zM86.0 207.0h.9v.9h-.9zM87.0 207.1h.9v.9h-.9zM53.1 208.1h.9v.9h-.9zM43.1 209.1h.9v.9h-.9zM50.9 208.9h.9v.9h-.9zM83.0 208.9h.9v.9h-.9zM43.0 210.0h.9v.9h-.9zM45.9 210.1h.9v.9h-.9zM50.9 209.9h.9v.9h-.9zM53.0 210.0h.9v.9h-.9zM44.1 211.0h.9v.9h-.9zM49.9 211.1h.9v.9h-.9zM43.0 211.9h.9v.9h-.9zM44.0 212.1h.9v.9h-.9zM46.0 211.9h.9v.9h-.9zM47.1 212.1h.9v.9h-.9zM48.1 212.1h.9v.9h-.9zM49.1 211.9h.9v.9h-.9zM41.1 212.9h.9v.9h-.9zM42.9 213.0h.9v.9h-.9zM43.9 214.1h.9v.9h-.9zM46.1 214.1h.9v.9h-.9zM39.1 215.1h.9v.9h-.9zM41.0 215.0h.9v.9h-.9zM59.9 215.1h.9v.9h-.9zM44.0 216.0h.9v.9h-.9zM89.9 216.0h.9v.9h-.9zM38.0 216.9h.9v.9h-.9zM38.9 217.1h.9v.9h-.9zM42.0 217.1h.9v.9h-.9zM42.9 217.1h.9v.9h-.9zM61.0 216.9h.9v.9h-.9zM37.9 217.9h.9v.9h-.9zM39.9 217.9h.9v.9h-.9zM40.9 218.0h.9v.9h-.9zM45.0 218.1h.9v.9h-.9zM46.0 217.9h.9v.9h-.9zM59.1 218.0h.9v.9h-.9zM59.9 218.1h.9v.9h-.9zM61.0 217.9h.9v.9h-.9zM90.1 218.0h.9v.9h-.9zM35.0 219.1h.9v.9h-.9zM38.9 219.1h.9v.9h-.9zM40.1 219.1h.9v.9h-.9zM41.1 218.9h.9v.9h-.9zM43.9 218.9h.9v.9h-.9zM44.9 219.1h.9v.9h-.9zM57.0 218.9h.9v.9h-.9zM61.0 219.0h.9v.9h-.9zM64.0 219.0h.9v.9h-.9zM104.9 218.9h.9v.9h-.9zM28.1 220.1h.9v.9h-.9zM28.9 220.0h.9v.9h-.9zM37.0 220.0h.9v.9h-.9zM41.9 219.9h.9v.9h-.9zM55.1 220.0h.9v.9h-.9zM37.1 221.0h.9v.9h-.9zM38.9 220.9h.9v.9h-.9zM44.0 220.9h.9v.9h-.9zM53.9 221.1h.9v.9h-.9zM28.0 221.9h.9v.9h-.9zM35.0 222.1h.9v.9h-.9zM43.9 222.1h.9v.9h-.9zM46.1 221.9h.9v.9h-.9zM49.0 222.1h.9v.9h-.9zM51.9 222.0h.9v.9h-.9zM84.1 222.1h.9v.9h-.9zM30.9 222.9h.9v.9h-.9zM32.1 223.0h.9v.9h-.9zM33.0 222.9h.9v.9h-.9zM35.1 223.0h.9v.9h-.9zM42.9 223.0h.9v.9h-.9zM51.1 223.1h.9v.9h-.9zM55.9 223.1h.9v.9h-.9zM34.0 224.0h.9v.9h-.9zM51.9 224.1h.9v.9h-.9zM76.0 223.9h.9v.9h-.9zM100.1 223.9h.9v.9h-.9zM33.0 225.1h.9v.9h-.9zM35.1 224.9h.9v.9h-.9zM71.1 225.1h.9v.9h-.9zM84.1 225.1h.9v.9h-.9zM28.0 226.0h.9v.9h-.9zM31.1 226.1h.9v.9h-.9zM31.9 226.1h.9v.9h-.9zM35.1 226.0h.9v.9h-.9zM41.9 226.1h.9v.9h-.9zM87.0 226.0h.9v.9h-.9zM27.1 226.9h.9v.9h-.9zM28.0 226.9h.9v.9h-.9zM33.1 227.0h.9v.9h-.9zM34.9 227.1h.9v.9h-.9zM44.0 226.9h.9v.9h-.9zM44.9 227.0h.9v.9h-.9zM48.1 226.9h.9v.9h-.9zM50.0 226.9h.9v.9h-.9zM62.0 227.1h.9v.9h-.9zM38.1 228.1h.9v.9h-.9zM41.0 228.1h.9v.9h-.9zM47.0 228.0h.9v.9h-.9zM47.9 228.1h.9v.9h-.9zM98.9 228.1h.9v.9h-.9zM26.9 228.9h.9v.9h-.9zM28.0 229.0h.9v.9h-.9zM31.1 229.1h.9v.9h-.9zM32.0 229.0h.9v.9h-.9zM36.1 229.0h.9v.9h-.9zM40.0 228.9h.9v.9h-.9zM51.0 229.1h.9v.9h-.9zM29.0 229.9h.9v.9h-.9zM37.9 230.0h.9v.9h-.9zM49.0 230.1h.9v.9h-.9zM58.0 229.9h.9v.9h-.9zM66.0 230.0h.9v.9h-.9zM76.0 230.0h.9v.9h-.9zM105.0 229.9h.9v.9h-.9zM27.9 231.1h.9v.9h-.9zM31.0 231.0h.9v.9h-.9zM40.9 231.0h.9v.9h-.9zM54.9 231.1h.9v.9h-.9zM63.0 230.9h.9v.9h-.9zM98.1 230.9h.9v.9h-.9zM33.1 232.0h.9v.9h-.9zM33.9 231.9h.9v.9h-.9zM38.0 232.0h.9v.9h-.9zM61.0 232.0h.9v.9h-.9z" fill="#bbbbbb"/>
<path d="M79.1 154.0h.9v.9h-.9zM97.1 154.1h.9v.9h-.9zM102.0 154.1h.9v.9h-.9zM38.0 154.9h.9v.9h-.9zM42.1 154.9h.9v.9h-.9zM60.1 154.9h.9v.9h-.9zM84.9 154.9h.9v.9h-.9zM88.1 155.1h.9v.9h-.9zM92.0 154.9h.9v.9h-.9zM94.1 155.1h.9v.9h-.9zM97.0 154.9h.9v.9h-.9zM102.1 155.0h.9v.9h-.9zM104.9 154.9h.9v.9h-.9zM32.1 155.9h.9v.9h-.9zM84.9 156.0h.9v.9h-.9zM86.1 156.1h.9v.9h-.9zM87.9 155.9h.9v.9h-.9zM89.9 156.0h.9v.9h-.9zM93.9 155.9h.9v.9h-.9zM40.9 157.1h.9v.9h-.9zM80.0 157.1h.9v.9h-.9zM103.0 157.0h.9v.9h-.9zM28.0 157.9h.9v.9h-.9zM77.0 157.9h.9v.9h-.9zM85.0 157.9h.9v.9h-.9zM90.0 158.0h.9v.9h-.9zM91.1 158.1h.9v.9h-.9zM92.0 158.0h.9v.9h-.9zM92.9 157.9h.9v.9h-.9zM98.1 158.1h.9v.9h-.9zM32.1 159.0h.9v.9h-.9zM44.1 159.0h.9v.9h-.9zM48.1 159.1h.9v.9h-.9zM61.1 159.0h.9v.9h-.9zM66.9 158.9h.9v.9h-.9zM74.9 159.1h.9v.9h-.9zM88.1 159.1h.9v.9h-.9zM89.1 158.9h.9v.9h-.9zM97.0 158.9h.9v.9h-.9zM100.1 158.9h.9v.9h-.9zM35.1 159.9h.9v.9h-.9zM40.1 160.1h.9v.9h-.9zM82.0 160.1h.9v.9h-.9zM88.1 160.1h.9v.9h-.9zM88.9 160.0h.9v.9h-.9zM93.0 160.0h.9v.9h-.9zM98.0 159.9h.9v.9h-.9zM105.0 160.0h.9v.9h-.9zM27.1 161.1h.9v.9h-.9zM32.9 160.9h.9v.9h-.9zM36.0 161.0h.9v.9h-.9zM39.0 161.1h.9v.9h-.9zM76.9 161.1h.9v.9h-.9zM84.1 161.1h.9v.9h-.9zM93.0 160.9h.9v.9h-.9zM95.1 161.0h.9v.9h-.9zM97.1 160.9h.9v.9h-.9zM99.9 161.1h.9v.9h-.9zM101.9 161.1h.9v.9h-.9zM28.1 162.0h.9v.9h-.9zM31.9 162.0h.9v.9h-.9zM45.1 162.1h.9v.9h-.9zM63.1 161.9h.9v.9h-.9zM86.9 162.0h.9v.9h-.9zM95.9 161.9h.9v.9h-.9zM97.1 161.9h.9v.9h-.9zM99.0 161.9h.9v.9h-.9zM28.0 163.0h.9v.9h-.9zM44.0 162.9h.9v.9h-.9zM47.1 163.0h.9v.9h-.9zM76.0 163.0h.9v.9h-.9zM82.1 163.0h.9v.9h-.9zM96.0 163.1h.9v.9h-.9zM28.1 164.0h.9v.9h-.9zM36.0 164.0h.9v.9h-.9zM38.1 164.1h.9v.9h-.9zM39.0 164.1h.9v.9h-.9zM43.1 164.1h.9v.9h-.9zM54.1 163.9h.9v.9h-.9zM61.1 164.1h.9v.9h-.9zM64.0 164.0h.9v.9h-.9zM84.1 164.0h.9v.9h-.9zM91.0 163.9h.9v.9h-.9zM92.1 163.9h.9v.9h-.9zM93.0 164.1h.9v.9h-.9zM99.1 164.0h.9v.9h-.9zM104.0 164.0h.9v.9h-.9zM31.1 165.0h.9v.9h-.9zM41.9 164.9h.9v.9h-.9zM52.9 165.1h.9v.9h-.9zM83.9 165.0h.9v.9h-.9zM89.1 165.1h.9v.9h-.9zM100.9 164.9h.9v.9h-.9zM34.1 165.9h.9v.9h-.9zM41.9 166.1h.9v.9h-.9zM45.0 165.9h.9v.9h-.9zM47.9 165.9h.9v.9h-.9zM69.9 165.9h.9v.9h-.9zM73.0 166.1h.9v.9h-.9zM85.9 166.0h.9v.9h-.9zM86.9 166.0h.9v.9h-.9zM88.9 166.1h.9v.9h-.9zM91.0 166.1h.9v.9h-.9zM98.1 166.0h.9v.9h-.9zM102.9 165.9h.9v.9h-.9zM29.0 167.1h.9v.9h-.9zM32.0 166.9h.9v.9h-.9zM41.9 167.1h.9v.9h-.9zM45.9 167.1h.9v.9h-.9zM67.0 166.9h.9v.9h-.9zM69.0 167.1h.9v.9h-.9zM79.9 167.0h.9v.9h-.9zM90.9 167.0h.9v.9h-.9zM94.1 166.9h.9v.9h-.9zM96.9 167.0h.9v.9h-.9zM102.9 166.9h.9v.9h-.9zM104.1 167.0h.9v.9h-.9zM36.1 168.1h.9v.9h-.9zM36.9 167.9h.9v.9h-.9zM44.0 168.1h.9v.9h-.9zM79.0 167.9h.9v.9h-.9zM92.0 168.1h.9v.9h-.9zM95.9 167.9h.9v.9h-.9zM100.1 168.1h.9v.9h-.9zM100.9 168.1h.9v.9h-.9zM103.1 167.9h.9v.9h-.9zM104.1 168.1h.9v.9h-.9zM105.1 167.9h.9v.9h-.9zM28.9 169.1h.9v.9h-.9zM30.1 169.1h.9v.9h-.9zM36.1 169.1h.9v.9h-.9zM40.9 169.1h.9v.9h-.9zM81.0 168.9h.9v.9h-.9zM92.1 169.0h.9v.9h-.9zM94.0 169.1h.9v.9h-.9zM96.0 169.1h.9v.9h-.9zM98.9 169.1h.9v.9h-.9zM103.1 168.9h.9v.9h-.9zM30.1 170.1h.9v.9h-.9zM34.0 170.0h.9v.9h-.9zM49.0 170.0h.9v.9h-.9zM80.9 170.1h.9v.9h-.9zM86.9 169.9h.9v.9h-.9zM89.9 170.1h.9v.9h-.9zM98.9 170.0h.9v.9h-.9zM101.1 169.9h.9v.9h-.9zM102.0 170.0h.9v.9h-.9zM28.1 171.1h.9v.9h-.9zM29.0 171.0h.9v.9h-.9zM39.0 170.9h.9v.9h-.9zM49.0 171.0h.9v.9h-.9zM56.0 170.9h.9v.9h-.9zM75.0 170.9h.9v.9h-.9zM77.0 170.9h.9v.9h-.9zM79.1 171.1h.9v.9h-.9zM81.1 171.1h.9v.9h-.9zM88.0 171.0h.9v.9h-.9zM89.0 171.1h.9v.9h-.9zM93.0 171.1h.9v.9h-.9zM95.1 171.1h.9v.9h-.9zM98.1 171.0h.9v.9h-.9zM98.9 171.1h.9v.9h-.9zM101.0 170.9h.9v.9h-.9zM103.1 171.0h.9v.9h-.9zM105.1 171.1h.9v.9h-.9zM29.0 171.9h.9v.9h-.9zM32.1 172.0h.9v.9h-.9zM40.0 172.1h.9v.9h-.9zM43.0 171.9h.9v.9h-.9zM44.9 171.9h.9v.9h-.9zM50.0 172.0h.9v.9h-.9zM56.9 171.9h.9v.9h-.9zM73.0 172.1h.9v.9h-.9zM82.0 172.0h.9v.9h-.9zM90.1 171.9h.9v.9h-.9zM91.0 172.0h.9v.9h-.9zM94.9 172.1h.9v.9h-.9zM101.1 171.9h.9v.9h-.9zM104.0 172.0h.9v.9h-.9zM28.9 172.9h.9v.9h-.9zM31.0 173.0h.9v.9h-.9zM35.1 173.1h.9v.9h-.9zM43.9 173.1h.9v.9h-.9zM45.1 173.0h.9v.9h-.9zM46.1 173.0h.9v.9h-.9zM54.1 173.1h.9v.9h-.9zM76.0 172.9h.9v.9h-.9zM84.1 172.9h.9v.9h-.9zM89.0 173.1h.9v.9h-.9zM91.0 173.1h.9v.9h-.9zM26.9 173.9h.9v.9h-.9zM27.9 173.9h.9v.9h-.9zM29.1 174.0h.9v.9h-.9zM29.9 174.1h.9v.9h-.9zM30.9 173.9h.9v.9h-.9zM31.9 173.9h.9v.9h-.9zM32.9 174.1h.9v.9h-.9zM35.0 174.1h.9v.9h-.9zM42.0 174.1h.9v.9h-.9zM44.9 174.0h.9v.9h-.9zM47.1 174.1h.9v.9h-.9zM53.1 174.1h.9v.9h-.9zM70.0 174.1h.9v.9h-.9zM72.1 174.1h.9v.9h-.9zM72.9 174.1h.9v.9h-.9zM80.0 174.0h.9v.9h-.9zM84.9 174.0h.9v.9h-.9zM86.0 174.0h.9v.9h-.9zM86.9 174.0h.9v.9h-.9zM90.9 173.9h.9v.9h-.9zM99.0 173.9h.9v.9h-.9zM102.0 174.1h.9v.9h-.9zM104.1 174.1h.9v.9h-.9zM41.1 175.0h.9v.9h-.9zM43.0 175.0h.9v.9h-.9zM78.9 175.1h.9v.9h-.9zM81.9 175.0h.9v.9h-.9zM84.9 174.9h.9v.9h-.9zM88.0 175.1h.9v.9h-.9zM89.1 175.1h.9v.9h-.9zM93.1 175.1h.9v.9h-.9zM94.0 174.9h.9v.9h-.9zM95.1 175.1h.9v.9h-.9zM95.9 174.9h.9v.9h-.9zM99.1 175.0h.9v.9h-.9zM27.0 176.0h.9v.9h-.9zM28.0 176.1h.9v.9h-.9zM30.9 176.0h.9v.9h-.9zM34.9 175.9h.9v.9h-.9zM42.1 176.0h.9v.9h-.9zM42.9 176.1h.9v.9h-.9zM43.9 176.0h.9v.9h-.9zM69.9 176.0h.9v.9h-.9zM74.9 176.0h.9v.9h-.9zM76.1 175.9h.9v.9h-.9zM77.0 175.9h.9v.9h-.9zM79.1 176.0h.9v.9h-.9zM81.9 175.9h.9v.9h-.9zM83.0 175.9h.9v.9h-.9zM86.0 176.1h.9v.9h-.9zM89.0 176.1h.9v.9h-.9zM90.1 175.9h.9v.9h-.9zM91.1 176.1h.9v.9h-.9zM95.0 176.0h.9v.9h-.9zM97.1 176.0h.9v.9h-.9zM103.0 176.1h.9v.9h-.9zM27.0 176.9h.9v.9h-.9zM29.1 177.0h.9v.9h-.9zM30.1 176.9h.9v.9h-.9zM34.1 176.9h.9v.9h-.9zM34.9 177.0h.9v.9h-.9zM36.0 177.0h.9v.9h-.9zM37.0 177.0h.9v.9h-.9zM38.1 177.1h.9v.9h-.9zM39.0 177.1h.9v.9h-.9zM40.0 177.1h.9v.9h-.9zM46.1 176.9h.9v.9h-.9zM49.1 177.1h.9v.9h-.9zM72.9 177.1h.9v.9h-.9zM74.1 177.1h.9v.9h-.9zM79.0 176.9h.9v.9h-.9zM87.0 177.0h.9v.9h-.9zM90.1 177.1h.9v.9h-.9zM90.9 176.9h.9v.9h-.9zM91.9 177.1h.9v.9h-.9zM92.9 177.1h.9v.9h-.9zM93.9 177.0h.9v.9h-.9zM100.1 177.0h.9v.9h-.9zM28.9 178.1h.9v.9h-.9zM31.1 177.9h.9v.9h-.9zM38.0 178.1h.9v.9h-.9zM40.0 178.0h.9v.9h-.9zM41.1 178.0h.9v.9h-.9zM41.9 178.0h.9v.9h-.9zM43.1 177.9h.9v.9h-.9zM45.1 178.1h.9v.9h-.9zM68.1 178.1h.9v.9h-.9zM74.1 178.0h.9v.9h-.9zM79.0 178.0h.9v.9h-.9zM81.9 178.0h.9v.9h-.9zM84.0 177.9h.9v.9h-.9zM84.9 178.0h.9v.9h-.9zM89.1 178.1h.9v.9h-.9zM89.9 178.0h.9v.9h-.9zM91.0 177.9h.9v.9h-.9zM94.0 177.9h.9v.9h-.9zM95.9 178.1h.9v.9h-.9zM101.0 177.9h.9v.9h-.9zM104.1 177.9h.9v.9h-.9zM29.9 179.0h.9v.9h-.9zM31.9 179.1h.9v.9h-.9zM35.1 179.1h.9v.9h-.9zM35.9 178.9h.9v.9h-.9zM37.0 178.9h.9v.9h-.9zM40.1 178.9h.9v.9h-.9zM41.1 178.9h.9v.9h-.9zM45.0 178.9h.9v.9h-.9zM48.0 178.9h.9v.9h-.9zM49.9 179.0h.9v.9h-.9zM71.1 179.0h.9v.9h-.9zM72.1 179.1h.9v.9h-.9zM77.9 179.1h.9v.9h-.9zM81.9 178.9h.9v.9h-.9zM85.0 178.9h.9v.9h-.9zM88.1 179.0h.9v.9h-.9zM91.1 179.0h.9v.9h-.9zM93.0 178.9h.9v.9h-.9zM95.0 178.9h.9v.9h-.9zM95.9 179.0h.9v.9h-.9zM98.0 179.1h.9v.9h-.9zM98.9 178.9h.9v.9h-.9zM101.9 179.0h.9v.9h-.9zM30.9 179.9h.9v.9h-.9zM37.1 179.9h.9v.9h-.9zM41.1 179.9h.9v.9h-.9zM43.1 180.0h.9v.9h-.9zM44.1 180.1h.9v.9h-.9zM48.1 179.9h.9v.9h-.9zM77.9 180.1h.9v.9h-.9zM79.9 180.0h.9v.9h-.9zM86.1 180.1h.9v.9h-.9zM87.9 180.1h.9v.9h-.9zM92.1 180.1h.9v.9h-.9zM97.1 180.0h.9v.9h-.9zM101.1 180.1h.9v.9h-.9zM102.1 179.9h.9v.9h-.9zM26.9 181.1h.9v.9h-.9zM27.9 181.1h.9v.9h-.9zM28.9 181.0h.9v.9h-.9zM30.1 181.0h.9v.9h-.9zM34.1 180.9h.9v.9h-.9zM36.0 180.9h.9v.9h-.9zM48.9 181.0h.9v.9h-.9zM56.0 180.9h.9v.9h-.9zM68.1 180.9h.9v.9h-.9zM73.1 181.0h.9v.9h-.9zM74.0 181.1h.9v.9h-.9zM82.0 181.0h.9v.9h-.9zM84.0 181.1h.9v.9h-.9zM86.0 181.1h.9v.9h-.9zM87.1 180.9h.9v.9h-.9zM91.9 180.9h.9v.9h-.9zM98.1 181.0h.9v.9h-.9zM29.9 181.9h.9v.9h-.9zM33.0 181.9h.9v.9h-.9zM34.0 182.0h.9v.9h-.9zM36.0 182.1h.9v.9h-.9zM39.1 181.9h.9v.9h-.9zM39.9 182.1h.9v.9h-.9zM40.9 182.1h.9v.9h-.9zM42.9 182.1h.9v.9h-.9zM51.9 181.9h.9v.9h-.9zM68.0 181.9h.9v.9h-.9zM74.9 182.0h.9v.9h-.9zM79.9 182.1h.9v.9h-.9zM82.1 182.0h.9v.9h-.9zM85.0 182.1h.9v.9h-.9zM85.9 182.0h.9v.9h-.9zM86.9 182.1h.9v.9h-.9zM89.0 182.0h.9v.9h-.9zM91.0 181.9h.9v.9h-.9zM93.9 181.9h.9v.9h-.9zM95.1 181.9h.9v.9h-.9zM96.1 181.9h.9v.9h-.9zM97.9 182.0h.9v.9h-.9zM98.9 182.0h.9v.9h-.9zM100.0 181.9h.9v.9h-.9zM100.9 182.0h.9v.9h-.9zM102.0 182.0h.9v.9h-.9zM27.0 183.1h.9v.9h-.9zM36.0 183.1h.9v.9h-.9zM37.0 183.1h.9v.9h-.9zM43.9 183.1h.9v.9h-.9zM46.1 182.9h.9v.9h-.9zM46.9 183.1h.9v.9h-.9zM76.1 183.1h.9v.9h-.9zM76.9 182.9h.9v.9h-.9zM77.9 183.0h.9v.9h-.9zM79.0 183.0h.9v.9h-.9zM79.9 183.1h.9v.9h-.9zM84.9 183.0h.9v.9h-.9zM86.0 182.9h.9v.9h-.9zM92.0 183.1h.9v.9h-.9zM92.9 182.9h.9v.9h-.9zM96.0 183.0h.9v.9h-.9zM30.1 184.0h.9v.9h-.9zM30.9 184.1h.9v.9h-.9zM32.1 184.1h.9v.9h-.9zM33.1 184.1h.9v.9h-.9zM36.0 184.0h.9v.9h-.9zM39.1 184.0h.9v.9h-.9zM46.0 184.1h.9v.9h-.9zM47.0 184.1h.9v.9h-.9zM67.1 183.9h.9v.9h-.9zM68.0 183.9h.9v.9h-.9zM75.1 184.0h.9v.9h-.9zM76.0 183.9h.9v.9h-.9zM78.9 183.9h.9v.9h-.9zM82.9 183.9h.9v.9h-.9zM85.1 184.0h.9v.9h-.9zM86.1 183.9h.9v.9h-.9zM93.1 183.9h.9v.9h-.9zM94.0 183.9h.9v.9h-.9zM95.1 184.0h.9v.9h-.9zM96.0 183.9h.9v.9h-.9zM97.9 183.9h.9v.9h-.9zM30.1 185.1h.9v.9h-.9zM32.9 184.9h.9v.9h-.9zM35.0 184.9h.9v.9h-.9zM39.1 184.9h.9v.9h-.9zM43.9 184.9h.9v.9h-.9zM45.9 185.0h.9v.9h-.9zM46.9 184.9h.9v.9h-.9zM70.1 184.9h.9v.9h-.9zM73.9 185.1h.9v.9h-.9zM76.0 185.1h.9v.9h-.9zM79.0 185.1h.9v.9h-.9zM81.9 185.1h.9v.9h-.9zM86.0 184.9h.9v.9h-.9zM86.9 185.1h.9v.9h-.9zM91.0 185.1h.9v.9h-.9zM92.0 184.9h.9v.9h-.9zM94.0 185.0h.9v.9h-.9zM97.0 185.0h.9v.9h-.9zM27.9 186.0h.9v.9h-.9zM30.9 186.1h.9v.9h-.9zM32.1 185.9h.9v.9h-.9zM34.9 186.1h.9v.9h-.9zM36.1 186.0h.9v.9h-.9zM37.9 186.0h.9v.9h-.9zM39.0 186.0h.9v.9h-.9zM43.0 185.9h.9v.9h-.9zM44.0 185.9h.9v.9h-.9zM45.0 186.0h.9v.9h-.9zM46.0 185.9h.9v.9h-.9zM49.0 186.1h.9v.9h-.9zM66.1 186.1h.9v.9h-.9zM69.1 186.0h.9v.9h-.9zM70.1 186.1h.9v.9h-.9zM71.0 186.1h.9v.9h-.9zM72.1 186.0h.9v.9h-.9zM73.1 185.9h.9v.9h-.9zM77.0 186.0h.9v.9h-.9zM79.9 185.9h.9v.9h-.9zM86.1 186.0h.9v.9h-.9zM87.1 186.1h.9v.9h-.9zM90.0 186.1h.9v.9h-.9zM93.0 185.9h.9v.9h-.9zM94.1 186.0h.9v.9h-.9zM96.1 186.0h.9v.9h-.9zM26.9 186.9h.9v.9h-.9zM29.1 186.9h.9v.9h-.9zM30.0 187.0h.9v.9h-.9zM30.9 187.0h.9v.9h-.9zM31.9 187.0h.9v.9h-.9zM33.0 187.1h.9v.9h-.9zM43.0 187.0h.9v.9h-.9zM45.9 187.1h.9v.9h-.9zM53.1 187.1h.9v.9h-.9zM54.0 187.0h.9v.9h-.9zM60.0 187.0h.9v.9h-.9zM66.9 186.9h.9v.9h-.9zM69.0 187.0h.9v.9h-.9zM71.0 186.9h.9v.9h-.9zM73.1 187.1h.9v.9h-.9zM75.1 187.1h.9v.9h-.9zM76.1 187.0h.9v.9h-.9zM77.9 187.1h.9v.9h-.9zM81.9 187.0h.9v.9h-.9zM82.9 186.9h.9v.9h-.9zM83.9 187.0h.9v.9h-.9zM85.1 186.9h.9v.9h-.9zM87.9 187.1h.9v.9h-.9zM91.0 187.0h.9v.9h-.9zM92.0 186.9h.9v.9h-.9zM29.9 188.1h.9v.9h-.9zM32.0 188.0h.9v.9h-.9zM38.9 188.0h.9v.9h-.9zM41.9 187.9h.9v.9h-.9zM47.0 188.0h.9v.9h-.9zM52.1 188.1h.9v.9h-.9zM64.0 187.9h.9v.9h-.9zM67.0 188.0h.9v.9h-.9zM73.1 188.1h.9v.9h-.9zM76.9 188.1h.9v.9h-.9zM78.0 188.0h.9v.9h-.9zM79.1 187.9h.9v.9h-.9zM81.9 187.9h.9v.9h-.9zM82.9 188.0h.9v.9h-.9zM85.9 187.9h.9v.9h-.9zM87.1 188.1h.9v.9h-.9zM89.9 188.0h.9v.9h-.9zM92.0 188.1h.9v.9h-.9zM92.9 187.9h.9v.9h-.9zM93.9 187.9h.9v.9h-.9zM26.9 189.0h.9v.9h-.9zM30.0 189.1h.9v.9h-.9zM34.1 189.1h.9v.9h-.9zM37.9 189.0h.9v.9h-.9zM46.9 188.9h.9v.9h-.9zM64.1 189.0h.9v.9h-.9zM65.9 189.0h.9v.9h-.9zM66.9 189.0h.9v.9h-.9zM70.0 188.9h.9v.9h-.9zM71.0 188.9h.9v.9h-.9zM75.0 189.0h.9v.9h-.9zM79.9 189.0h.9v.9h-.9zM83.0 188.9h.9v.9h-.9zM87.1 189.1h.9v.9h-.9zM87.9 188.9h.9v.9h-.9zM28.0 189.9h.9v.9h-.9zM29.9 190.1h.9v.9h-.9zM31.0 190.1h.9v.9h-.9zM31.9 190.1h.9v.9h-.9zM47.1 189.9h.9v.9h-.9zM61.9 190.0h.9v.9h-.9zM68.0 190.0h.9v.9h-.9zM69.9 189.9h.9v.9h-.9zM71.1 190.0h.9v.9h-.9zM72.1 189.9h.9v.9h-.9zM72.9 190.0h.9v.9h-.9zM74.1 189.9h.9v.9h-.9zM74.9 190.0h.9v.9h-.9zM77.0 190.0h.9v.9h-.9zM78.1 190.0h.9v.9h-.9zM81.9 190.0h.9v.9h-.9zM83.0 190.0h.9v.9h-.9zM86.1 190.0h.9v.9h-.9zM86.9 190.0h.9v.9h-.9zM90.0 190.0h.9v.9h-.9zM91.1 190.0h.9v.9h-.9zM27.9 191.1h.9v.9h-.9zM42.9 191.0h.9v.9h-.9zM44.1 190.9h.9v.9h-.9zM61.0 191.0h.9v.9h-.9zM62.9 191.1h.9v.9h-.9zM65.1 191.1h.9v.9h-.9zM65.9 190.9h.9v.9h-.9zM67.0 191.1h.9v.9h-.9zM67.9 190.9h.9v.9h-.9zM72.1 190.9h.9v.9h-.9zM74.0 191.1h.9v.9h-.9zM75.0 191.0h.9v.9h-.9zM77.1 191.0h.9v.9h-.9zM77.9 190.9h.9v.9h-.9zM81.0 190.9h.9v.9h-.9zM83.1 191.1h.9v.9h-.9zM85.0 190.9h.9v.9h-.9zM86.0 191.1h.9v.9h-.9zM87.0 190.9h.9v.9h-.9zM32.0 192.1h.9v.9h-.9zM34.1 192.1h.9v.9h-.9zM44.0 192.1h.9v.9h-.9zM44.9 192.1h.9v.9h-.9zM45.9 192.1h.9v.9h-.9zM59.9 192.0h.9v.9h-.9zM62.0 192.1h.9v.9h-.9zM65.1 192.1h.9v.9h-.9zM66.0 192.0h.9v.9h-.9zM68.9 191.9h.9v.9h-.9zM72.0 191.9h.9v.9h-.9zM74.1 191.9h.9v.9h-.9zM75.9 191.9h.9v.9h-.9zM76.9 191.9h.9v.9h-.9zM78.0 192.1h.9v.9h-.9zM82.0 192.1h.9v.9h-.9zM85.1 192.0h.9v.9h-.9zM87.1 191.9h.9v.9h-.9zM26.9 193.1h.9v.9h-.9zM30.9 193.0h.9v.9h-.9zM45.9 192.9h.9v.9h-.9zM50.0 192.9h.9v.9h-.9zM51.0 192.9h.9v.9h-.9zM60.1 193.0h.9v.9h-.9zM63.0 193.0h.9v.9h-.9zM64.1 193.1h.9v.9h-.9zM68.1 193.0h.9v.9h-.9zM71.9 192.9h.9v.9h-.9zM74.1 193.1h.9v.9h-.9zM78.0 192.9h.9v.9h-.9zM79.0 193.0h.9v.9h-.9zM81.1 193.0h.9v.9h-.9zM83.0 192.9h.9v.9h-.9zM83.9 192.9h.9v.9h-.9zM85.9 193.0h.9v.9h-.9zM87.1 193.1h.9v.9h-.9zM27.1 194.1h.9v.9h-.9zM29.1 194.0h.9v.9h-.9zM30.1 194.0h.9v.9h-.9zM30.9 193.9h.9v.9h-.9zM43.0 194.0h.9v.9h-.9zM44.1 194.1h.9v.9h-.9zM45.1 193.9h.9v.9h-.9zM48.9 193.9h.9v.9h-.9zM49.9 194.1h.9v.9h-.9zM54.1 194.1h.9v.9h-.9zM56.1 194.1h.9v.9h-.9zM57.9 194.1h.9v.9h-.9zM63.1 194.0h.9v.9h-.9zM66.0 193.9h.9v.9h-.9zM70.1 194.0h.9v.9h-.9zM71.0 194.0h.9v.9h-.9zM81.0 194.1h.9v.9h-.9zM84.1 193.9h.9v.9h-.9zM28.1 194.9h.9v.9h-.9zM30.1 195.1h.9v.9h-.9zM47.0 195.1h.9v.9h-.9zM55.0 194.9h.9v.9h-.9zM56.1 195.1h.9v.9h-.9zM61.9 195.1h.9v.9h-.9zM65.1 195.1h.9v.9h-.9zM72.0 195.1h.9v.9h-.9zM76.9 194.9h.9v.9h-.9zM79.0 194.9h.9v.9h-.9zM80.1 195.1h.9v.9h-.9zM81.1 194.9h.9v.9h-.9zM82.1 195.0h.9v.9h-.9zM83.1 195.1h.9v.9h-.9zM26.9 196.1h.9v.9h-.9zM27.9 195.9h.9v.9h-.9zM47.0 195.9h.9v.9h-.9zM48.9 196.1h.9v.9h-.9zM57.9 196.0h.9v.9h-.9zM59.9 196.0h.9v.9h-.9zM63.1 196.0h.9v.9h-.9zM66.0 196.1h.9v.9h-.9zM74.0 195.9h.9v.9h-.9zM77.1 195.9h.9v.9h-.9zM79.1 196.0h.9v.9h-.9zM80.0 196.1h.9v.9h-.9zM81.0 195.9h.9v.9h-.9zM82.1 196.1h.9v.9h-.9zM27.0 196.9h.9v.9h-.9zM28.0 197.1h.9v.9h-.9zM29.1 197.0h.9v.9h-.9zM44.1 197.0h.9v.9h-.9zM58.1 196.9h.9v.9h-.9zM59.9 197.0h.9v.9h-.9zM72.9 197.0h.9v.9h-.9zM75.0 197.1h.9v.9h-.9zM80.0 196.9h.9v.9h-.9zM80.9 196.9h.9v.9h-.9zM27.1 197.9h.9v.9h-.9zM32.0 198.0h.9v.9h-.9zM44.0 198.0h.9v.9h-.9zM45.0 198.0h.9v.9h-.9zM48.1 198.1h.9v.9h-.9zM53.9 198.1h.9v.9h-.9zM54.9 198.1h.9v.9h-.9zM59.0 197.9h.9v.9h-.9zM61.1 198.1h.9v.9h-.9zM64.1 198.1h.9v.9h-.9zM71.9 198.0h.9v.9h-.9zM76.9 197.9h.9v.9h-.9zM28.1 198.9h.9v.9h-.9zM29.0 199.1h.9v.9h-.9zM46.1 199.0h.9v.9h-.9zM46.9 199.1h.9v.9h-.9zM48.1 199.1h.9v.9h-.9zM48.9 199.0h.9v.9h-.9zM52.1 199.0h.9v.9h-.9zM54.9 199.0h.9v.9h-.9zM55.9 199.1h.9v.9h-.9zM73.9 199.1h.9v.9h-.9zM75.0 198.9h.9v.9h-.9zM76.0 199.0h.9v.9h-.9zM77.0 199.1h.9v.9h-.9zM28.9 200.1h.9v.9h-.9zM42.9 199.9h.9v.9h-.9zM44.1 200.1h.9v.9h-.9zM45.1 200.1h.9v.9h-.9zM48.9 200.0h.9v.9h-.9zM51.1 200.1h.9v.9h-.9zM55.0 199.9h.9v.9h-.9zM55.9 200.0h.9v.9h-.9zM56.9 200.0h.9v.9h-.9zM70.0 200.0h.9v.9h-.9zM75.0 200.1h.9v.9h-.9zM75.9 199.9h.9v.9h-.9zM27.9 201.0h.9v.9h-.9zM42.9 200.9h.9v.9h-.9zM44.0 201.1h.9v.9h-.9zM74.0 200.9h.9v.9h-.9zM75.0 200.9h.9v.9h-.9zM91.9 201.1h.9v.9h-.9zM28.1 201.9h.9v.9h-.9zM30.0 202.1h.9v.9h-.9zM41.0 202.0h.9v.9h-.9zM44.0 202.1h.9v.9h-.9zM45.0 202.1h.9v.9h-.9zM45.9 202.0h.9v.9h-.9zM48.0 202.1h.9v.9h-.9zM50.1 201.9h.9v.9h-.9zM54.1 201.9h.9v.9h-.9zM67.9 201.9h.9v.9h-.9zM70.0 202.0h.9v.9h-.9zM73.0 202.0h.9v.9h-.9zM29.0 203.0h.9v.9h-.9zM47.0 203.0h.9v.9h-.9zM49.0 203.1h.9v.9h-.9zM67.0 202.9h.9v.9h-.9zM68.0 203.1h.9v.9h-.9zM80.1 202.9h.9v.9h-.9zM29.1 203.9h.9v.9h-.9zM39.9 203.9h.9v.9h-.9zM41.1 203.9h.9v.9h-.9zM43.1 203.9h.9v.9h-.9zM44.0 204.0h.9v.9h-.9zM45.0 204.0h.9v.9h-.9zM45.9 203.9h.9v.9h-.9zM47.9 203.9h.9v.9h-.9zM50.0 204.1h.9v.9h-.9zM69.1 204.0h.9v.9h-.9zM71.9 204.1h.9v.9h-.9zM99.1 203.9h.9v.9h-.9zM27.1 204.9h.9v.9h-.9zM30.9 205.0h.9v.9h-.9zM40.9 204.9h.9v.9h-.9zM43.0 205.0h.9v.9h-.9zM45.1 205.0h.9v.9h-.9zM46.0 205.1h.9v.9h-.9zM49.0 205.1h.9v.9h-.9zM67.0 204.9h.9v.9h-.9zM69.1 204.9h.9v.9h-.9zM70.1 205.1h.9v.9h-.9zM84.0 205.1h.9v.9h-.9zM40.0 206.1h.9v.9h-.9zM43.9 206.1h.9v.9h-.9zM47.0 205.9h.9v.9h-.9zM50.0 205.9h.9v.9h-.9zM51.9 206.1h.9v.9h-.9zM66.9 206.0h.9v.9h-.9zM69.1 206.0h.9v.9h-.9zM101.0 206.1h.9v.9h-.9zM26.9 207.0h.9v.9h-.9zM28.1 206.9h.9v.9h-.9zM30.1 207.1h.9v.9h-.9zM43.1 207.0h.9v.9h-.9zM48.9 206.9h.9v.9h-.9zM66.9 207.1h.9v.9h-.9zM67.9 206.9h.9v.9h-.9zM27.1 208.0h.9v.9h-.9zM31.1 208.1h.9v.9h-.9zM33.1 208.0h.9v.9h-.9zM38.9 208.0h.9v.9h-.9zM44.1 207.9h.9v.9h-.9zM46.9 208.1h.9v.9h-.9zM51.0 207.9h.9v.9h-.9zM52.1 208.1h.9v.9h-.9zM65.9 208.0h.9v.9h-.9zM29.0 209.0h.9v.9h-.9zM30.0 209.0h.9v.9h-.9zM40.9 209.0h.9v.9h-.9zM48.0 208.9h.9v.9h-.9zM52.1 209.0h.9v.9h-.9zM79.1 209.0h.9v.9h-.9zM26.9 209.9h.9v.9h-.9zM30.9 210.1h.9v.9h-.9zM44.0 210.1h.9v.9h-.9zM50.1 210.1h.9v.9h-.9zM52.0 210.1h.9v.9h-.9zM63.0 210.0h.9v.9h-.9zM28.0 211.1h.9v.9h-.9zM29.0 210.9h.9v.9h-.9zM34.9 210.9h.9v.9h-.9zM41.0 211.0h.9v.9h-.9zM41.9 211.0h.9v.9h-.9zM46.1 211.1h.9v.9h-.9zM47.1 211.0h.9v.9h-.9zM47.9 210.9h.9v.9h-.9zM49.0 211.1h.9v.9h-.9zM51.1 211.0h.9v.9h-.9zM29.0 212.0h.9v.9h-.9zM38.9 211.9h.9v.9h-.9zM40.0 212.1h.9v.9h-.9zM40.9 212.0h.9v.9h-.9zM42.1 212.1h.9v.9h-.9zM50.0 211.9h.9v.9h-.9zM62.1 212.1h.9v.9h-.9zM27.9 213.0h.9v.9h-.9zM29.0 212.9h.9v.9h-.9zM31.9 213.0h.9v.9h-.9zM36.1 212.9h.9v.9h-.9zM45.1 212.9h.9v.9h-.9zM46.1 213.1h.9v.9h-.9zM60.1 213.0h.9v.9h-.9zM28.0 214.0h.9v.9h-.9zM29.0 214.1h.9v.9h-.9zM29.9 213.9h.9v.9h-.9zM40.0 214.0h.9v.9h-.9zM41.0 214.0h.9v.9h-.9zM42.1 214.1h.9v.9h-.9zM46.9 213.9h.9v.9h-.9zM60.1 214.1h.9v.9h-.9zM60.9 213.9h.9v.9h-.9zM28.1 214.9h.9v.9h-.9zM31.9 215.0h.9v.9h-.9zM34.0 214.9h.9v.9h-.9zM35.0 215.1h.9v.9h-.9zM43.0 214.9h.9v.9h-.9zM45.1 215.0h.9v.9h-.9zM45.9 214.9h.9v.9h-.9zM46.9 214.9h.9v.9h-.9zM59.1 215.1h.9v.9h-.9zM61.1 214.9h.9v.9h-.9zM28.9 215.9h.9v.9h-.9zM32.9 216.1h.9v.9h-.9zM36.0 216.1h.9v.9h-.9zM37.1 215.9h.9v.9h-.9zM38.9 215.9h.9v.9h-.9zM40.0 216.1h.9v.9h-.9zM41.0 216.1h.9v.9h-.9zM43.1 216.1h.9v.9h-.9zM44.9 216.1h.9v.9h-.9zM58.1 215.9h.9v.9h-.9zM60.0 216.0h.9v.9h-.9zM26.9 216.9h.9v.9h-.9zM33.1 217.0h.9v.9h-.9zM34.9 217.0h.9v.9h-.9zM41.0 216.9h.9v.9h-.9zM45.1 217.1h.9v.9h-.9zM59.0 217.0h.9v.9h-.9zM60.1 217.0h.9v.9h-.9zM27.1 217.9h.9v.9h-.9zM30.1 217.9h.9v.9h-.9zM32.0 217.9h.9v.9h-.9zM34.0 217.9h.9v.9h-.9zM41.9 218.1h.9v.9h-.9zM43.1 217.9h.9v.9h-.9zM44.1 217.9h.9v.9h-.9zM58.0 218.0h.9v.9h-.9zM32.1 218.9h.9v.9h-.9zM32.9 219.1h.9v.9h-.9zM35.9 219.1h.9v.9h-.9zM38.1 219.1h.9v.9h-.9zM42.1 218.9h.9v.9h-.9zM46.1 219.0h.9v.9h-.9zM56.0 219.0h.9v.9h-.9zM59.0 219.0h.9v.9h-.9zM27.1 219.9h.9v.9h-.9zM31.0 220.0h.9v.9h-.9zM32.0 220.1h.9v.9h-.9zM34.0 219.9h.9v.9h-.9zM35.1 220.0h.9v.9h-.9zM36.1 219.9h.9v.9h-.9zM38.0 220.0h.9v.9h-.9zM39.0 220.1h.9v.9h-.9zM47.0 220.1h.9v.9h-.9zM53.1 219.9h.9v.9h-.9zM55.9 219.9h.9v.9h-.9zM27.0 221.0h.9v.9h-.9zM27.9 221.1h.9v.9h-.9zM28.9 220.9h.9v.9h-.9zM34.9 221.0h.9v.9h-.9zM35.9 221.0h.9v.9h-.9zM38.0 221.1h.9v.9h-.9zM42.0 221.0h.9v.9h-.9zM45.1 221.1h.9v.9h-.9zM47.0 220.9h.9v.9h-.9zM49.1 220.9h.9v.9h-.9zM52.1 220.9h.9v.9h-.9zM54.9 220.9h.9v.9h-.9zM29.9 221.9h.9v.9h-.9zM31.0 222.1h.9v.9h-.9zM31.9 221.9h.9v.9h-.9zM34.1 222.1h.9v.9h-.9zM36.1 221.9h.9v.9h-.9zM37.9 222.0h.9v.9h-.9zM40.0 221.9h.9v.9h-.9zM41.1 222.0h.9v.9h-.9zM44.9 222.0h.9v.9h-.9zM49.9 222.1h.9v.9h-.9zM51.1 222.1h.9v.9h-.9zM54.1 222.0h.9v.9h-.9zM55.1 221.9h.9v.9h-.9zM58.1 222.1h.9v.9h-.9zM59.0 222.1h.9v.9h-.9zM27.9 223.0h.9v.9h-.9zM35.9 223.0h.9v.9h-.9zM37.1 222.9h.9v.9h-.9zM38.0 222.9h.9v.9h-.9zM40.0 223.0h.9v.9h-.9zM40.9 223.0h.9v.9h-.9zM44.9 222.9h.9v.9h-.9zM45.9 223.1h.9v.9h-.9zM47.1 223.1h.9v.9h-.9zM47.9 222.9h.9v.9h-.9zM49.0 223.1h.9v.9h-.9zM49.9 223.0h.9v.9h-.9zM52.0 223.1h.9v.9h-.9zM54.1 223.0h.9v.9h-.9zM56.9 223.0h.9v.9h-.9zM28.1 224.1h.9v.9h-.9zM29.9 224.0h.9v.9h-.9zM31.0 224.0h.9v.9h-.9zM32.1 224.0h.9v.9h-.9zM37.0 223.9h.9v.9h-.9zM39.0 223.9h.9v.9h-.9zM40.9 223.9h.9v.9h-.9zM42.0 223.9h.9v.9h-.9zM43.9 224.0h.9v.9h-.9zM46.0 224.0h.9v.9h-.9zM49.1 224.0h.9v.9h-.9zM50.9 224.1h.9v.9h-.9zM53.1 223.9h.9v.9h-.9zM27.9 225.0h.9v.9h-.9zM28.9 224.9h.9v.9h-.9zM30.1 225.1h.9v.9h-.9zM32.0 225.1h.9v.9h-.9zM34.1 224.9h.9v.9h-.9zM35.9 224.9h.9v.9h-.9zM37.1 224.9h.9v.9h-.9zM37.9 224.9h.9v.9h-.9zM40.0 225.1h.9v.9h-.9zM56.1 225.1h.9v.9h-.9zM34.0 226.0h.9v.9h-.9zM41.0 225.9h.9v.9h-.9zM43.9 226.1h.9v.9h-.9zM45.0 226.1h.9v.9h-.9zM102.1 226.0h.9v.9h-.9zM29.1 227.1h.9v.9h-.9zM30.9 227.1h.9v.9h-.9zM37.0 226.9h.9v.9h-.9zM40.0 226.9h.9v.9h-.9zM43.1 227.0h.9v.9h-.9zM49.1 227.0h.9v.9h-.9zM29.0 228.0h.9v.9h-.9zM30.1 228.1h.9v.9h-.9zM31.0 228.1h.9v.9h-.9zM32.1 228.0h.9v.9h-.9zM34.0 227.9h.9v.9h-.9zM35.0 228.0h.9v.9h-.9zM54.9 227.9h.9v.9h-.9zM29.0 229.0h.9v.9h-.9zM30.0 229.0h.9v.9h-.9zM32.9 229.1h.9v.9h-.9zM35.1 229.1h.9v.9h-.9zM37.1 229.1h.9v.9h-.9zM38.0 229.1h.9v.9h-.9zM45.0 228.9h.9v.9h-.9zM98.0 228.9h.9v.9h-.9zM28.1 230.1h.9v.9h-.9zM31.0 229.9h.9v.9h-.9zM32.1 230.0h.9v.9h-.9zM32.9 230.0h.9v.9h-.9zM37.0 229.9h.9v.9h-.9zM38.9 230.0h.9v.9h-.9zM27.0 231.0h.9v.9h-.9zM32.9 230.9h.9v.9h-.9zM36.0 230.9h.9v.9h-.9zM40.1 230.9h.9v.9h-.9zM27.1 232.0h.9v.9h-.9zM29.0 232.1h.9v.9h-.9zM29.9 232.0h.9v.9h-.9zM30.9 232.0h.9v.9h-.9zM32.0 232.0h.9v.9h-.9zM35.9 231.9h.9v.9h-.9zM39.1 232.0h.9v.9h-.9z" fill="#a4a4a4"/>
<path d="M99.1 154.1h.9v.9h-.9zM46.1 155.9h.9v.9h-.9zM97.0 156.9h.9v.9h-.9zM101.0 157.1h.9v.9h-.9zM98.9 158.0h.9v.9h-.9zM26.9 159.1h.9v.9h-.9zM95.9 158.9h.9v.9h-.9zM101.9 159.0h.9v.9h-.9zM103.0 159.0h.9v.9h-.9zM101.1 160.0h.9v.9h-.9zM103.1 160.1h.9v.9h-.9zM39.9 160.9h.9v.9h-.9zM33.9 161.9h.9v.9h-.9zM85.0 162.1h.9v.9h-.9zM102.1 161.9h.9v.9h-.9zM103.0 161.9h.9v.9h-.9zM41.0 162.9h.9v.9h-.9zM91.1 162.9h.9v.9h-.9zM92.0 163.0h.9v.9h-.9zM33.9 165.1h.9v.9h-.9zM39.0 165.0h.9v.9h-.9zM91.1 165.0h.9v.9h-.9zM102.9 165.0h.9v.9h-.9zM35.1 166.1h.9v.9h-.9zM83.9 166.0h.9v.9h-.9zM30.1 167.1h.9v.9h-.9zM39.1 167.0h.9v.9h-.9zM43.0 167.0h.9v.9h-.9zM84.1 167.1h.9v.9h-.9zM85.1 167.1h.9v.9h-.9zM99.0 166.9h.9v.9h-.9zM100.0 167.0h.9v.9h-.9zM104.9 166.9h.9v.9h-.9zM26.9 168.9h.9v.9h-.9zM81.9 168.9h.9v.9h-.9zM96.9 169.0h.9v.9h-.9zM86.0 170.1h.9v.9h-.9zM88.0 169.9h.9v.9h-.9zM94.0 169.9h.9v.9h-.9zM103.0 169.9h.9v.9h-.9zM45.0 171.1h.9v.9h-.9zM45.9 171.0h.9v.9h-.9zM103.9 170.9h.9v.9h-.9zM37.1 171.9h.9v.9h-.9zM42.0 172.0h.9v.9h-.9zM47.9 172.1h.9v.9h-.9zM77.1 171.9h.9v.9h-.9zM88.0 172.0h.9v.9h-.9zM98.9 171.9h.9v.9h-.9zM100.1 172.1h.9v.9h-.9zM103.0 172.1h.9v.9h-.9zM32.1 173.0h.9v.9h-.9zM36.0 172.9h.9v.9h-.9zM47.0 173.1h.9v.9h-.9zM86.1 173.1h.9v.9h-.9zM92.0 173.1h.9v.9h-.9zM100.1 172.9h.9v.9h-.9zM37.0 173.9h.9v.9h-.9zM97.1 174.0h.9v.9h-.9zM26.9 175.0h.9v.9h-.9zM29.1 175.1h.9v.9h-.9zM38.9 175.1h.9v.9h-.9zM41.9 175.1h.9v.9h-.9zM44.0 175.0h.9v.9h-.9zM47.0 175.1h.9v.9h-.9zM83.9 175.1h.9v.9h-.9zM87.0 174.9h.9v.9h-.9zM100.0 174.9h.9v.9h-.9zM29.0 176.1h.9v.9h-.9zM33.1 175.9h.9v.9h-.9zM34.0 176.1h.9v.9h-.9zM40.1 175.9h.9v.9h-.9zM46.0 175.9h.9v.9h-.9zM72.9 176.1h.9v.9h-.9zM81.0 176.0h.9v.9h-.9zM69.0 177.0h.9v.9h-.9zM77.1 176.9h.9v.9h-.9zM80.9 177.1h.9v.9h-.9zM86.1 176.9h.9v.9h-.9zM95.0 176.9h.9v.9h-.9zM102.9 177.1h.9v.9h-.9zM26.9 178.1h.9v.9h-.9zM27.9 178.1h.9v.9h-.9zM30.1 177.9h.9v.9h-.9zM46.1 177.9h.9v.9h-.9zM72.1 178.1h.9v.9h-.9zM72.9 178.0h.9v.9h-.9zM75.0 177.9h.9v.9h-.9zM83.0 178.0h.9v.9h-.9zM96.9 177.9h.9v.9h-.9zM29.0 179.1h.9v.9h-.9zM30.9 178.9h.9v.9h-.9zM79.0 179.0h.9v.9h-.9zM82.9 179.1h.9v.9h-.9zM94.1 179.0h.9v.9h-.9zM29.9 180.0h.9v.9h-.9zM33.1 179.9h.9v.9h-.9zM35.1 180.0h.9v.9h-.9zM37.9 180.0h.9v.9h-.9zM40.0 180.1h.9v.9h-.9zM81.1 180.1h.9v.9h-.9zM84.0 180.1h.9v.9h-.9zM92.9 180.1h.9v.9h-.9zM95.0 180.1h.9v.9h-.9zM100.0 179.9h.9v.9h-.9zM31.0 181.0h.9v.9h-.9zM39.1 181.0h.9v.9h-.9zM40.0 181.1h.9v.9h-.9zM41.0 181.0h.9v.9h-.9zM46.1 181.0h.9v.9h-.9zM71.9 181.1h.9v.9h-.9zM78.9 181.1h.9v.9h-.9zM81.0 180.9h.9v.9h-.9zM83.0 180.9h.9v.9h-.9zM88.9 181.0h.9v.9h-.9zM89.9 180.9h.9v.9h-.9zM90.9 181.0h.9v.9h-.9zM35.0 182.1h.9v.9h-.9zM37.1 182.1h.9v.9h-.9zM46.0 182.0h.9v.9h-.9zM53.9 182.0h.9v.9h-.9zM70.1 182.0h.9v.9h-.9zM77.9 182.1h.9v.9h-.9zM83.0 181.9h.9v.9h-.9zM32.0 183.1h.9v.9h-.9zM33.1 183.0h.9v.9h-.9zM34.9 183.1h.9v.9h-.9zM38.0 183.1h.9v.9h-.9zM39.1 183.0h.9v.9h-.9zM39.9 182.9h.9v.9h-.9zM43.1 183.1h.9v.9h-.9zM50.0 183.0h.9v.9h-.9zM89.1 183.0h.9v.9h-.9zM95.0 183.1h.9v.9h-.9zM99.0 182.9h.9v.9h-.9zM34.1 183.9h.9v.9h-.9zM34.9 184.1h.9v.9h-.9zM37.1 183.9h.9v.9h-.9zM38.1 184.0h.9v.9h-.9zM40.0 184.1h.9v.9h-.9zM41.1 184.0h.9v.9h-.9zM42.1 184.0h.9v.9h-.9zM43.9 183.9h.9v.9h-.9zM73.0 184.1h.9v.9h-.9zM79.9 183.9h.9v.9h-.9zM81.9 184.0h.9v.9h-.9zM99.0 183.9h.9v.9h-.9zM28.1 184.9h.9v.9h-.9zM31.9 185.1h.9v.9h-.9zM34.0 185.0h.9v.9h-.9zM35.9 184.9h.9v.9h-.9zM37.0 185.1h.9v.9h-.9zM38.1 184.9h.9v.9h-.9zM39.9 184.9h.9v.9h-.9zM40.9 184.9h.9v.9h-.9zM42.0 185.0h.9v.9h-.9zM43.1 185.0h.9v.9h-.9zM45.1 185.0h.9v.9h-.9zM48.9 185.1h.9v.9h-.9zM63.9 184.9h.9v.9h-.9zM83.0 185.1h.9v.9h-.9zM84.1 185.0h.9v.9h-.9zM88.0 185.0h.9v.9h-.9zM90.1 185.0h.9v.9h-.9zM93.0 185.0h.9v.9h-.9zM96.1 185.1h.9v.9h-.9zM34.1 185.9h.9v.9h-.9zM37.0 185.9h.9v.9h-.9zM40.0 185.9h.9v.9h-.9zM42.1 186.0h.9v.9h-.9zM62.9 186.1h.9v.9h-.9zM73.9 186.0h.9v.9h-.9zM79.0 186.1h.9v.9h-.9zM81.0 185.9h.9v.9h-.9zM33.9 186.9h.9v.9h-.9zM35.1 187.0h.9v.9h-.9zM36.1 187.0h.9v.9h-.9zM38.1 187.1h.9v.9h-.9zM40.0 187.1h.9v.9h-.9zM45.0 187.1h.9v.9h-.9zM72.1 187.0h.9v.9h-.9zM73.9 187.1h.9v.9h-.9zM77.1 186.9h.9v.9h-.9zM79.0 187.1h.9v.9h-.9zM79.9 187.1h.9v.9h-.9zM95.1 186.9h.9v.9h-.9zM29.1 188.0h.9v.9h-.9zM34.1 187.9h.9v.9h-.9zM34.9 188.0h.9v.9h-.9zM38.0 188.1h.9v.9h-.9zM41.0 188.0h.9v.9h-.9zM43.9 188.0h.9v.9h-.9zM67.9 188.1h.9v.9h-.9zM69.0 188.1h.9v.9h-.9zM75.0 188.1h.9v.9h-.9zM75.9 187.9h.9v.9h-.9zM79.9 188.1h.9v.9h-.9zM81.1 187.9h.9v.9h-.9zM29.1 189.1h.9v.9h-.9zM34.9 189.0h.9v.9h-.9zM36.1 189.0h.9v.9h-.9zM37.0 189.0h.9v.9h-.9zM38.9 188.9h.9v.9h-.9zM42.9 188.9h.9v.9h-.9zM68.0 189.1h.9v.9h-.9zM74.0 189.0h.9v.9h-.9zM75.9 189.1h.9v.9h-.9zM77.1 189.1h.9v.9h-.9zM78.1 189.1h.9v.9h-.9zM79.1 189.1h.9v.9h-.9zM82.1 189.0h.9v.9h-.9zM83.9 189.0h.9v.9h-.9zM91.1 189.0h.9v.9h-.9zM92.1 189.0h.9v.9h-.9zM95.9 189.0h.9v.9h-.9zM27.0 190.1h.9v.9h-.9zM32.9 189.9h.9v.9h-.9zM33.9 189.9h.9v.9h-.9zM40.1 190.0h.9v.9h-.9zM43.1 190.0h.9v.9h-.9zM45.1 189.9h.9v.9h-.9zM64.1 190.1h.9v.9h-.9zM69.0 190.0h.9v.9h-.9zM76.0 190.0h.9v.9h-.9zM80.0 190.0h.9v.9h-.9zM81.0 189.9h.9v.9h-.9zM29.9 191.0h.9v.9h-.9zM31.0 191.0h.9v.9h-.9zM34.1 191.0h.9v.9h-.9zM34.9 191.0h.9v.9h-.9zM59.1 191.1h.9v.9h-.9zM69.1 191.0h.9v.9h-.9zM72.9 191.0h.9v.9h-.9zM76.1 191.1h.9v.9h-.9zM79.0 191.0h.9v.9h-.9zM80.1 191.0h.9v.9h-.9zM88.0 191.0h.9v.9h-.9zM88.9 190.9h.9v.9h-.9zM26.9 192.1h.9v.9h-.9zM28.0 192.0h.9v.9h-.9zM29.1 191.9h.9v.9h-.9zM29.9 191.9h.9v.9h-.9zM34.9 192.0h.9v.9h-.9zM36.0 192.0h.9v.9h-.9zM42.0 192.0h.9v.9h-.9zM42.9 192.1h.9v.9h-.9zM67.9 192.1h.9v.9h-.9zM70.9 192.1h.9v.9h-.9zM75.0 192.1h.9v.9h-.9zM79.0 191.9h.9v.9h-.9zM88.1 192.0h.9v.9h-.9zM27.9 192.9h.9v.9h-.9zM28.9 192.9h.9v.9h-.9zM30.0 193.0h.9v.9h-.9zM32.1 193.1h.9v.9h-.9zM33.0 193.1h.9v.9h-.9zM33.9 193.0h.9v.9h-.9zM43.0 193.1h.9v.9h-.9zM67.0 193.0h.9v.9h-.9zM69.1 193.0h.9v.9h-.9zM70.9 193.1h.9v.9h-.9zM73.0 193.0h.9v.9h-.9zM75.1 193.0h.9v.9h-.9zM77.1 192.9h.9v.9h-.9zM80.0 193.1h.9v.9h-.9zM32.0 194.0h.9v.9h-.9zM33.0 193.9h.9v.9h-.9zM36.9 194.1h.9v.9h-.9zM38.9 193.9h.9v.9h-.9zM40.1 194.0h.9v.9h-.9zM42.1 194.0h.9v.9h-.9zM47.1 193.9h.9v.9h-.9zM65.1 194.0h.9v.9h-.9zM67.1 194.1h.9v.9h-.9zM68.9 194.1h.9v.9h-.9zM71.9 194.1h.9v.9h-.9zM73.9 193.9h.9v.9h-.9zM75.1 194.0h.9v.9h-.9zM75.9 194.1h.9v.9h-.9zM76.9 194.1h.9v.9h-.9zM77.9 194.0h.9v.9h-.9zM85.1 194.1h.9v.9h-.9zM27.1 195.0h.9v.9h-.9zM31.0 195.1h.9v.9h-.9zM32.1 195.1h.9v.9h-.9zM33.0 194.9h.9v.9h-.9zM36.1 195.0h.9v.9h-.9zM38.9 195.0h.9v.9h-.9zM45.9 194.9h.9v.9h-.9zM64.0 195.1h.9v.9h-.9zM66.1 194.9h.9v.9h-.9zM67.0 195.1h.9v.9h-.9zM69.0 194.9h.9v.9h-.9zM70.0 194.9h.9v.9h-.9zM71.1 195.0h.9v.9h-.9zM73.1 195.0h.9v.9h-.9zM74.1 195.0h.9v.9h-.9zM74.9 195.1h.9v.9h-.9zM76.0 194.9h.9v.9h-.9zM78.0 194.9h.9v.9h-.9zM29.1 196.0h.9v.9h-.9zM31.0 195.9h.9v.9h-.9zM34.1 196.0h.9v.9h-.9zM39.9 195.9h.9v.9h-.9zM42.9 195.9h.9v.9h-.9zM45.0 196.1h.9v.9h-.9zM48.1 196.1h.9v.9h-.9zM61.1 196.0h.9v.9h-.9zM64.1 196.1h.9v.9h-.9zM65.0 196.1h.9v.9h-.9zM68.1 195.9h.9v.9h-.9zM69.1 195.9h.9v.9h-.9zM70.0 196.0h.9v.9h-.9zM72.9 196.0h.9v.9h-.9zM74.9 196.0h.9v.9h-.9zM82.9 196.1h.9v.9h-.9zM30.1 196.9h.9v.9h-.9zM32.9 197.0h.9v.9h-.9zM35.0 196.9h.9v.9h-.9zM36.0 197.0h.9v.9h-.9zM40.0 197.1h.9v.9h-.9zM41.9 197.0h.9v.9h-.9zM62.1 197.0h.9v.9h-.9zM64.1 197.1h.9v.9h-.9zM65.9 196.9h.9v.9h-.9zM66.9 196.9h.9v.9h-.9zM68.1 197.0h.9v.9h-.9zM70.1 197.0h.9v.9h-.9zM71.0 196.9h.9v.9h-.9zM77.0 197.1h.9v.9h-.9zM28.0 198.0h.9v.9h-.9zM29.1 197.9h.9v.9h-.9zM30.1 198.1h.9v.9h-.9zM32.9 198.0h.9v.9h-.9zM33.9 197.9h.9v.9h-.9zM35.1 198.0h.9v.9h-.9zM37.9 197.9h.9v.9h-.9zM43.0 198.1h.9v.9h-.9zM46.0 198.0h.9v.9h-.9zM56.0 198.1h.9v.9h-.9zM56.9 198.1h.9v.9h-.9zM62.1 198.0h.9v.9h-.9zM66.1 197.9h.9v.9h-.9zM69.1 197.9h.9v.9h-.9zM73.0 197.9h.9v.9h-.9zM73.9 198.1h.9v.9h-.9zM74.9 198.1h.9v.9h-.9zM76.0 198.1h.9v.9h-.9zM26.9 199.0h.9v.9h-.9zM29.9 198.9h.9v.9h-.9zM31.0 199.0h.9v.9h-.9zM34.0 199.1h.9v.9h-.9zM42.1 199.0h.9v.9h-.9zM43.0 198.9h.9v.9h-.9zM56.9 199.0h.9v.9h-.9zM58.0 199.1h.9v.9h-.9zM59.0 199.1h.9v.9h-.9zM61.1 199.1h.9v.9h-.9zM65.0 199.0h.9v.9h-.9zM66.9 199.0h.9v.9h-.9zM67.9 198.9h.9v.9h-.9zM70.9 198.9h.9v.9h-.9zM73.1 199.0h.9v.9h-.9zM77.9 198.9h.9v.9h-.9zM27.0 199.9h.9v.9h-.9zM28.0 200.0h.9v.9h-.9zM29.9 200.0h.9v.9h-.9zM31.1 199.9h.9v.9h-.9zM33.9 199.9h.9v.9h-.9zM34.9 199.9h.9v.9h-.9zM42.1 200.0h.9v.9h-.9zM52.1 200.1h.9v.9h-.9zM58.1 200.0h.9v.9h-.9zM58.9 200.0h.9v.9h-.9zM61.1 200.0h.9v.9h-.9zM65.1 200.0h.9v.9h-.9zM66.1 200.1h.9v.9h-.9zM71.1 199.9h.9v.9h-.9zM72.0 200.0h.9v.9h-.9zM72.9 200.0h.9v.9h-.9zM30.0 201.1h.9v.9h-.9zM32.1 200.9h.9v.9h-.9zM34.1 200.9h.9v.9h-.9zM35.0 201.1h.9v.9h-.9zM40.0 201.1h.9v.9h-.9zM50.0 201.1h.9v.9h-.9zM53.1 201.1h.9v.9h-.9zM60.1 201.0h.9v.9h-.9zM62.9 201.0h.9v.9h-.9zM65.0 201.0h.9v.9h-.9zM66.9 201.0h.9v.9h-.9zM71.0 201.0h.9v.9h-.9zM72.9 201.0h.9v.9h-.9zM31.0 202.0h.9v.9h-.9zM32.0 201.9h.9v.9h-.9zM34.0 201.9h.9v.9h-.9zM43.0 201.9h.9v.9h-.9zM51.9 202.1h.9v.9h-.9zM55.0 201.9h.9v.9h-.9zM55.9 202.1h.9v.9h-.9zM57.1 201.9h.9v.9h-.9zM63.1 202.0h.9v.9h-.9zM69.0 202.1h.9v.9h-.9zM70.9 202.1h.9v.9h-.9zM27.9 203.1h.9v.9h-.9zM30.1 202.9h.9v.9h-.9zM31.9 203.0h.9v.9h-.9zM33.9 203.0h.9v.9h-.9zM37.0 203.0h.9v.9h-.9zM40.0 202.9h.9v.9h-.9zM40.9 203.1h.9v.9h-.9zM43.9 202.9h.9v.9h-.9zM51.0 202.9h.9v.9h-.9zM57.1 202.9h.9v.9h-.9zM58.0 202.9h.9v.9h-.9zM68.9 202.9h.9v.9h-.9zM27.9 203.9h.9v.9h-.9zM30.1 203.9h.9v.9h-.9zM31.1 204.0h.9v.9h-.9zM33.1 203.9h.9v.9h-.9zM34.9 203.9h.9v.9h-.9zM42.1 204.0h.9v.9h-.9zM52.0 204.0h.9v.9h-.9zM67.0 203.9h.9v.9h-.9zM68.0 203.9h.9v.9h-.9zM28.0 204.9h.9v.9h-.9zM29.0 205.1h.9v.9h-.9zM30.0 204.9h.9v.9h-.9zM34.1 204.9h.9v.9h-.9zM37.0 204.9h.9v.9h-.9zM42.0 205.1h.9v.9h-.9zM51.0 205.1h.9v.9h-.9zM54.0 204.9h.9v.9h-.9zM66.0 204.9h.9v.9h-.9zM27.9 205.9h.9v.9h-.9zM30.0 206.1h.9v.9h-.9zM36.1 206.1h.9v.9h-.9zM37.1 206.0h.9v.9h-.9zM41.9 206.0h.9v.9h-.9zM54.1 205.9h.9v.9h-.9zM62.9 205.9h.9v.9h-.9zM65.0 205.9h.9v.9h-.9zM66.1 206.1h.9v.9h-.9zM68.1 205.9h.9v.9h-.9zM29.1 207.0h.9v.9h-.9zM37.1 207.1h.9v.9h-.9zM40.1 207.0h.9v.9h-.9zM40.9 207.1h.9v.9h-.9zM41.9 207.1h.9v.9h-.9zM46.1 206.9h.9v.9h-.9zM50.1 207.1h.9v.9h-.9zM54.1 206.9h.9v.9h-.9zM64.0 206.9h.9v.9h-.9zM66.1 206.9h.9v.9h-.9zM27.9 207.9h.9v.9h-.9zM28.9 207.9h.9v.9h-.9zM30.0 208.0h.9v.9h-.9zM34.0 208.0h.9v.9h-.9zM40.9 207.9h.9v.9h-.9zM43.1 207.9h.9v.9h-.9zM45.1 208.0h.9v.9h-.9zM46.0 208.1h.9v.9h-.9zM54.0 208.0h.9v.9h-.9zM56.1 208.0h.9v.9h-.9zM64.0 207.9h.9v.9h-.9zM26.9 209.0h.9v.9h-.9zM28.0 209.1h.9v.9h-.9zM36.0 209.0h.9v.9h-.9zM42.1 209.0h.9v.9h-.9zM46.1 208.9h.9v.9h-.9zM53.0 208.9h.9v.9h-.9zM54.0 209.0h.9v.9h-.9zM55.0 208.9h.9v.9h-.9zM62.1 209.0h.9v.9h-.9zM63.0 209.1h.9v.9h-.9zM64.9 209.0h.9v.9h-.9zM28.0 209.9h.9v.9h-.9zM29.0 209.9h.9v.9h-.9zM30.0 210.0h.9v.9h-.9zM32.1 210.1h.9v.9h-.9zM33.0 210.0h.9v.9h-.9zM33.9 209.9h.9v.9h-.9zM34.9 210.1h.9v.9h-.9zM35.9 209.9h.9v.9h-.9zM36.9 210.0h.9v.9h-.9zM38.9 209.9h.9v.9h-.9zM39.9 210.0h.9v.9h-.9zM48.9 209.9h.9v.9h-.9zM54.0 210.0h.9v.9h-.9zM27.1 211.1h.9v.9h-.9zM29.9 211.1h.9v.9h-.9zM31.0 211.1h.9v.9h-.9zM32.0 211.0h.9v.9h-.9zM34.0 210.9h.9v.9h-.9zM36.1 211.0h.9v.9h-.9zM37.1 211.1h.9v.9h-.9zM38.1 211.0h.9v.9h-.9zM39.0 210.9h.9v.9h-.9zM39.9 210.9h.9v.9h-.9zM43.0 210.9h.9v.9h-.9zM51.9 210.9h.9v.9h-.9zM53.1 210.9h.9v.9h-.9zM54.1 211.1h.9v.9h-.9zM61.1 210.9h.9v.9h-.9zM61.9 211.0h.9v.9h-.9zM27.9 212.0h.9v.9h-.9zM30.0 212.0h.9v.9h-.9zM31.1 212.1h.9v.9h-.9zM31.9 211.9h.9v.9h-.9zM33.0 211.9h.9v.9h-.9zM35.0 212.0h.9v.9h-.9zM37.0 212.1h.9v.9h-.9zM26.9 213.1h.9v.9h-.9zM30.0 213.0h.9v.9h-.9zM31.0 213.0h.9v.9h-.9zM33.1 212.9h.9v.9h-.9zM35.0 212.9h.9v.9h-.9zM37.0 212.9h.9v.9h-.9zM38.0 212.9h.9v.9h-.9zM39.9 213.0h.9v.9h-.9zM44.1 212.9h.9v.9h-.9zM49.9 212.9h.9v.9h-.9zM61.1 213.0h.9v.9h-.9zM27.1 213.9h.9v.9h-.9zM32.9 213.9h.9v.9h-.9zM33.9 214.1h.9v.9h-.9zM36.0 213.9h.9v.9h-.9zM37.0 214.0h.9v.9h-.9zM38.0 213.9h.9v.9h-.9zM39.0 214.1h.9v.9h-.9zM43.1 214.1h.9v.9h-.9zM44.9 214.0h.9v.9h-.9zM49.0 214.1h.9v.9h-.9zM59.1 214.0h.9v.9h-.9zM62.1 214.0h.9v.9h-.9zM26.9 214.9h.9v.9h-.9zM28.9 214.9h.9v.9h-.9zM30.1 215.0h.9v.9h-.9zM33.0 215.1h.9v.9h-.9zM36.0 215.0h.9v.9h-.9zM36.9 215.1h.9v.9h-.9zM38.0 215.1h.9v.9h-.9zM48.9 215.1h.9v.9h-.9zM50.0 215.1h.9v.9h-.9zM52.0 215.0h.9v.9h-.9zM57.9 215.0h.9v.9h-.9zM26.9 216.0h.9v.9h-.9zM28.0 215.9h.9v.9h-.9zM30.1 216.1h.9v.9h-.9zM30.9 216.1h.9v.9h-.9zM32.0 216.1h.9v.9h-.9zM33.9 216.0h.9v.9h-.9zM35.1 216.0h.9v.9h-.9zM47.0 215.9h.9v.9h-.9zM59.1 216.1h.9v.9h-.9zM61.0 216.1h.9v.9h-.9zM28.0 217.1h.9v.9h-.9zM30.0 217.1h.9v.9h-.9zM30.9 216.9h.9v.9h-.9zM34.1 217.1h.9v.9h-.9zM35.9 216.9h.9v.9h-.9zM37.0 216.9h.9v.9h-.9zM40.0 217.0h.9v.9h-.9zM43.9 217.1h.9v.9h-.9zM45.9 217.0h.9v.9h-.9zM48.0 216.9h.9v.9h-.9zM56.9 217.0h.9v.9h-.9zM57.9 216.9h.9v.9h-.9zM28.1 217.9h.9v.9h-.9zM28.9 217.9h.9v.9h-.9zM30.9 218.0h.9v.9h-.9zM33.1 217.9h.9v.9h-.9zM35.1 218.0h.9v.9h-.9zM36.0 218.0h.9v.9h-.9zM37.1 218.0h.9v.9h-.9zM38.9 218.1h.9v.9h-.9zM54.0 218.1h.9v.9h-.9zM54.9 218.1h.9v.9h-.9zM56.1 217.9h.9v.9h-.9zM57.1 217.9h.9v.9h-.9zM29.9 219.0h.9v.9h-.9zM30.9 219.1h.9v.9h-.9zM33.9 218.9h.9v.9h-.9zM37.1 219.1h.9v.9h-.9zM46.9 219.0h.9v.9h-.9zM48.0 219.0h.9v.9h-.9zM53.1 219.0h.9v.9h-.9zM53.9 219.0h.9v.9h-.9zM40.1 219.9h.9v.9h-.9zM41.1 219.9h.9v.9h-.9zM43.0 219.9h.9v.9h-.9zM44.1 219.9h.9v.9h-.9zM46.0 219.9h.9v.9h-.9zM51.0 220.1h.9v.9h-.9zM54.0 220.1h.9v.9h-.9zM30.1 221.0h.9v.9h-.9zM32.0 220.9h.9v.9h-.9zM33.9 221.1h.9v.9h-.9zM46.1 221.1h.9v.9h-.9zM51.1 221.1h.9v.9h-.9zM52.9 221.0h.9v.9h-.9zM29.1 222.1h.9v.9h-.9zM33.0 222.0h.9v.9h-.9zM47.0 222.1h.9v.9h-.9zM27.0 223.1h.9v.9h-.9zM30.0 223.0h.9v.9h-.9zM26.9 223.9h.9v.9h-.9zM28.9 224.1h.9v.9h-.9zM35.0 224.0h.9v.9h-.9zM36.0 224.1h.9v.9h-.9zM38.0 224.0h.9v.9h-.9zM42.9 224.1h.9v.9h-.9zM31.0 225.0h.9v.9h-.9zM48.0 225.0h.9v.9h-.9zM26.9 225.9h.9v.9h-.9zM28.9 226.0h.9v.9h-.9zM29.9 225.9h.9v.9h-.9zM33.1 225.9h.9v.9h-.9zM36.1 225.9h.9v.9h-.9zM49.1 226.0h.9v.9h-.9zM29.9 226.9h.9v.9h-.9zM46.1 226.9h.9v.9h-.9zM46.9 226.9h.9v.9h-.9zM27.9 227.9h.9v.9h-.9zM27.0 230.0h.9v.9h-.9zM29.9 230.1h.9v.9h-.9zM28.9 231.0h.9v.9h-.9zM30.1 231.1h.9v.9h-.9zM32.1 231.1h.9v.9h-.9zM34.1 231.1h.9v.9h-.9zM27.9 231.9h.9v.9h-.9zM39.9 232.1h.9v.9h-.9z" fill="#888888"/>
<path d="M44.1 161.0h.9v.9h-.9zM104.0 160.9h.9v.9h-.9zM85.9 167.9h.9v.9h-.9zM99.9 169.0h.9v.9h-.9zM40.9 182.9h.9v.9h-.9zM28.9 185.0h.9v.9h-.9zM88.9 185.0h.9v.9h-.9zM41.1 185.9h.9v.9h-.9zM37.1 187.0h.9v.9h-.9zM39.0 187.0h.9v.9h-.9zM41.1 186.9h.9v.9h-.9zM41.9 186.9h.9v.9h-.9zM35.9 187.9h.9v.9h-.9zM42.9 188.1h.9v.9h-.9zM30.9 188.9h.9v.9h-.9zM39.9 189.1h.9v.9h-.9zM72.1 189.1h.9v.9h-.9zM34.9 189.9h.9v.9h-.9zM36.0 189.9h.9v.9h-.9zM36.9 190.1h.9v.9h-.9zM38.0 190.1h.9v.9h-.9zM39.1 190.1h.9v.9h-.9zM41.0 190.1h.9v.9h-.9zM33.1 191.0h.9v.9h-.9zM37.0 191.0h.9v.9h-.9zM38.0 191.0h.9v.9h-.9zM40.0 191.1h.9v.9h-.9zM40.9 191.0h.9v.9h-.9zM41.9 191.1h.9v.9h-.9zM33.0 192.1h.9v.9h-.9zM38.0 192.1h.9v.9h-.9zM39.0 191.9h.9v.9h-.9zM41.1 192.0h.9v.9h-.9zM72.9 192.0h.9v.9h-.9zM34.9 192.9h.9v.9h-.9zM36.0 193.1h.9v.9h-.9zM37.0 193.1h.9v.9h-.9zM38.0 192.9h.9v.9h-.9zM40.1 193.1h.9v.9h-.9zM40.9 192.9h.9v.9h-.9zM41.9 193.1h.9v.9h-.9zM34.1 193.9h.9v.9h-.9zM34.9 193.9h.9v.9h-.9zM35.9 194.0h.9v.9h-.9zM37.9 194.0h.9v.9h-.9zM41.0 193.9h.9v.9h-.9zM68.1 194.0h.9v.9h-.9zM34.0 194.9h.9v.9h-.9zM36.9 195.1h.9v.9h-.9zM38.0 194.9h.9v.9h-.9zM40.1 194.9h.9v.9h-.9zM42.1 194.9h.9v.9h-.9zM43.0 195.1h.9v.9h-.9zM32.1 195.9h.9v.9h-.9zM33.0 195.9h.9v.9h-.9zM35.9 196.1h.9v.9h-.9zM37.0 195.9h.9v.9h-.9zM38.9 196.1h.9v.9h-.9zM42.0 196.1h.9v.9h-.9zM66.9 195.9h.9v.9h-.9zM72.0 196.0h.9v.9h-.9zM75.9 195.9h.9v.9h-.9zM30.9 196.9h.9v.9h-.9zM31.9 197.0h.9v.9h-.9zM34.1 197.1h.9v.9h-.9zM37.0 197.0h.9v.9h-.9zM38.1 196.9h.9v.9h-.9zM39.0 197.1h.9v.9h-.9zM41.0 197.1h.9v.9h-.9zM63.1 197.1h.9v.9h-.9zM64.9 196.9h.9v.9h-.9zM72.1 197.1h.9v.9h-.9zM73.9 197.0h.9v.9h-.9zM36.0 198.1h.9v.9h-.9zM37.1 198.0h.9v.9h-.9zM39.9 198.0h.9v.9h-.9zM41.0 198.0h.9v.9h-.9zM63.1 198.0h.9v.9h-.9zM65.1 198.0h.9v.9h-.9zM66.9 197.9h.9v.9h-.9zM68.0 197.9h.9v.9h-.9zM70.1 197.9h.9v.9h-.9zM32.1 198.9h.9v.9h-.9zM33.1 199.1h.9v.9h-.9zM36.1 198.9h.9v.9h-.9zM38.0 198.9h.9v.9h-.9zM38.9 199.0h.9v.9h-.9zM60.0 199.1h.9v.9h-.9zM61.9 199.0h.9v.9h-.9zM63.1 199.0h.9v.9h-.9zM63.9 198.9h.9v.9h-.9zM69.0 199.0h.9v.9h-.9zM70.1 199.0h.9v.9h-.9zM33.0 200.1h.9v.9h-.9zM36.1 200.0h.9v.9h-.9zM37.0 199.9h.9v.9h-.9zM37.9 199.9h.9v.9h-.9zM40.0 199.9h.9v.9h-.9zM60.1 199.9h.9v.9h-.9zM61.9 199.9h.9v.9h-.9zM63.1 200.1h.9v.9h-.9zM64.0 199.9h.9v.9h-.9zM66.9 200.1h.9v.9h-.9zM68.0 200.1h.9v.9h-.9zM68.9 199.9h.9v.9h-.9zM28.9 201.0h.9v.9h-.9zM36.0 201.0h.9v.9h-.9zM38.9 201.0h.9v.9h-.9zM40.9 200.9h.9v.9h-.9zM42.1 201.1h.9v.9h-.9zM55.9 201.1h.9v.9h-.9zM57.9 201.1h.9v.9h-.9zM59.0 201.1h.9v.9h-.9zM61.9 201.1h.9v.9h-.9zM64.1 201.1h.9v.9h-.9zM65.9 201.0h.9v.9h-.9zM69.1 201.1h.9v.9h-.9zM69.9 200.9h.9v.9h-.9zM32.9 202.0h.9v.9h-.9zM35.0 202.0h.9v.9h-.9zM36.0 202.0h.9v.9h-.9zM36.9 202.0h.9v.9h-.9zM39.0 201.9h.9v.9h-.9zM39.9 202.1h.9v.9h-.9zM57.9 202.1h.9v.9h-.9zM59.0 201.9h.9v.9h-.9zM60.0 202.0h.9v.9h-.9zM60.9 201.9h.9v.9h-.9zM62.0 201.9h.9v.9h-.9zM65.1 202.1h.9v.9h-.9zM66.0 202.0h.9v.9h-.9zM66.9 201.9h.9v.9h-.9zM72.1 202.1h.9v.9h-.9zM33.0 203.0h.9v.9h-.9zM34.9 202.9h.9v.9h-.9zM36.1 203.1h.9v.9h-.9zM37.9 202.9h.9v.9h-.9zM39.1 203.0h.9v.9h-.9zM41.9 203.0h.9v.9h-.9zM54.1 203.1h.9v.9h-.9zM55.0 203.0h.9v.9h-.9zM55.9 203.1h.9v.9h-.9zM60.1 203.1h.9v.9h-.9zM62.1 203.1h.9v.9h-.9zM62.9 202.9h.9v.9h-.9zM64.1 203.1h.9v.9h-.9zM65.0 203.1h.9v.9h-.9zM65.9 202.9h.9v.9h-.9zM32.0 204.0h.9v.9h-.9zM33.9 204.1h.9v.9h-.9zM36.0 204.0h.9v.9h-.9zM37.0 204.0h.9v.9h-.9zM37.9 203.9h.9v.9h-.9zM39.0 203.9h.9v.9h-.9zM54.1 204.1h.9v.9h-.9zM55.1 203.9h.9v.9h-.9zM56.0 204.0h.9v.9h-.9zM56.9 204.0h.9v.9h-.9zM58.1 204.1h.9v.9h-.9zM64.1 203.9h.9v.9h-.9zM65.9 203.9h.9v.9h-.9zM32.1 205.1h.9v.9h-.9zM32.9 204.9h.9v.9h-.9zM35.1 205.0h.9v.9h-.9zM36.0 205.1h.9v.9h-.9zM38.1 205.0h.9v.9h-.9zM39.0 204.9h.9v.9h-.9zM40.1 205.1h.9v.9h-.9zM54.9 204.9h.9v.9h-.9zM60.0 205.0h.9v.9h-.9zM61.1 205.1h.9v.9h-.9zM61.9 204.9h.9v.9h-.9zM63.0 204.9h.9v.9h-.9zM64.1 204.9h.9v.9h-.9zM65.1 204.9h.9v.9h-.9zM31.0 206.0h.9v.9h-.9zM32.9 206.0h.9v.9h-.9zM34.1 206.0h.9v.9h-.9zM34.9 206.1h.9v.9h-.9zM38.1 206.1h.9v.9h-.9zM41.0 205.9h.9v.9h-.9zM57.0 205.9h.9v.9h-.9zM60.0 205.9h.9v.9h-.9zM64.1 206.0h.9v.9h-.9zM31.0 207.0h.9v.9h-.9zM32.0 206.9h.9v.9h-.9zM33.0 206.9h.9v.9h-.9zM35.1 207.1h.9v.9h-.9zM38.1 207.0h.9v.9h-.9zM55.1 206.9h.9v.9h-.9zM56.1 206.9h.9v.9h-.9zM57.9 206.9h.9v.9h-.9zM62.9 207.0h.9v.9h-.9zM35.1 207.9h.9v.9h-.9zM37.9 208.0h.9v.9h-.9zM40.1 207.9h.9v.9h-.9zM55.0 208.1h.9v.9h-.9zM63.1 208.0h.9v.9h-.9zM30.9 209.1h.9v.9h-.9zM32.0 209.0h.9v.9h-.9zM33.1 208.9h.9v.9h-.9zM33.9 209.1h.9v.9h-.9zM35.0 209.1h.9v.9h-.9zM37.1 209.0h.9v.9h-.9zM38.1 208.9h.9v.9h-.9zM39.0 209.0h.9v.9h-.9zM39.9 208.9h.9v.9h-.9zM55.9 208.9h.9v.9h-.9zM64.1 209.0h.9v.9h-.9zM38.1 210.0h.9v.9h-.9zM55.1 210.0h.9v.9h-.9zM62.1 209.9h.9v.9h-.9zM33.0 211.1h.9v.9h-.9zM55.0 211.1h.9v.9h-.9zM59.0 211.0h.9v.9h-.9zM59.9 211.1h.9v.9h-.9zM34.0 212.1h.9v.9h-.9zM36.1 212.1h.9v.9h-.9zM38.0 211.9h.9v.9h-.9zM50.9 212.0h.9v.9h-.9zM53.1 212.1h.9v.9h-.9zM54.1 211.9h.9v.9h-.9zM56.9 212.1h.9v.9h-.9zM57.9 211.9h.9v.9h-.9zM59.1 211.9h.9v.9h-.9zM60.9 211.9h.9v.9h-.9zM49.1 212.9h.9v.9h-.9zM58.9 213.1h.9v.9h-.9zM30.9 214.1h.9v.9h-.9zM32.0 214.1h.9v.9h-.9zM49.9 214.1h.9v.9h-.9zM50.9 214.1h.9v.9h-.9zM51.9 214.0h.9v.9h-.9zM56.9 214.0h.9v.9h-.9zM57.9 214.0h.9v.9h-.9zM48.0 214.9h.9v.9h-.9zM37.9 216.0h.9v.9h-.9zM48.1 216.0h.9v.9h-.9zM49.1 216.0h.9v.9h-.9zM50.0 215.9h.9v.9h-.9zM57.1 215.9h.9v.9h-.9zM31.9 216.9h.9v.9h-.9zM47.1 216.9h.9v.9h-.9zM52.1 217.1h.9v.9h-.9zM53.0 216.9h.9v.9h-.9zM55.1 216.9h.9v.9h-.9zM56.1 217.1h.9v.9h-.9zM47.0 218.0h.9v.9h-.9zM47.9 217.9h.9v.9h-.9zM48.9 218.0h.9v.9h-.9zM49.0 218.9h.9v.9h-.9zM50.0 219.1h.9v.9h-.9zM51.9 218.9h.9v.9h-.9zM55.0 219.1h.9v.9h-.9zM30.1 220.1h.9v.9h-.9zM47.9 220.1h.9v.9h-.9zM49.1 220.0h.9v.9h-.9zM51.9 219.9h.9v.9h-.9zM39.0 229.0h.9v.9h-.9z" fill="#666666"/>
<path d="M37.0 188.1h.9v.9h-.9zM39.1 191.1h.9v.9h-.9zM37.0 191.9h.9v.9h-.9zM39.0 193.1h.9v.9h-.9zM35.1 194.9h.9v.9h-.9zM37.9 195.9h.9v.9h-.9zM69.0 197.1h.9v.9h-.9zM39.0 198.1h.9v.9h-.9zM37.0 199.1h.9v.9h-.9zM39.0 199.9h.9v.9h-.9zM32.9 201.1h.9v.9h-.9zM38.0 201.0h.9v.9h-.9zM37.9 201.9h.9v.9h-.9zM63.9 201.9h.9v.9h-.9zM59.0 202.9h.9v.9h-.9zM61.0 202.9h.9v.9h-.9zM59.9 204.0h.9v.9h-.9zM61.0 204.0h.9v.9h-.9zM62.0 204.0h.9v.9h-.9zM63.1 204.1h.9v.9h-.9zM55.9 205.1h.9v.9h-.9zM56.9 205.1h.9v.9h-.9zM58.0 205.1h.9v.9h-.9zM59.1 205.1h.9v.9h-.9zM39.1 205.9h.9v.9h-.9zM55.1 206.0h.9v.9h-.9zM55.9 206.1h.9v.9h-.9zM58.1 205.9h.9v.9h-.9zM59.0 206.0h.9v.9h-.9zM60.9 206.0h.9v.9h-.9zM62.1 206.0h.9v.9h-.9zM33.9 206.9h.9v.9h-.9zM57.1 207.0h.9v.9h-.9zM59.1 206.9h.9v.9h-.9zM59.9 207.1h.9v.9h-.9zM61.0 207.1h.9v.9h-.9zM61.9 206.9h.9v.9h-.9zM57.0 208.0h.9v.9h-.9zM58.0 208.1h.9v.9h-.9zM59.1 208.0h.9v.9h-.9zM60.1 207.9h.9v.9h-.9zM61.1 207.9h.9v.9h-.9zM62.0 208.0h.9v.9h-.9zM57.1 208.9h.9v.9h-.9zM57.9 208.9h.9v.9h-.9zM59.0 209.0h.9v.9h-.9zM61.0 209.0h.9v.9h-.9zM57.1 210.1h.9v.9h-.9zM58.0 210.0h.9v.9h-.9zM59.0 210.0h.9v.9h-.9zM59.9 209.9h.9v.9h-.9zM58.1 210.9h.9v.9h-.9zM55.1 212.1h.9v.9h-.9zM56.1 212.0h.9v.9h-.9zM59.9 212.1h.9v.9h-.9zM51.9 213.0h.9v.9h-.9zM54.1 212.9h.9v.9h-.9zM55.1 213.0h.9v.9h-.9zM55.9 213.0h.9v.9h-.9zM58.1 213.0h.9v.9h-.9zM53.0 214.1h.9v.9h-.9zM53.9 214.1h.9v.9h-.9zM55.1 214.0h.9v.9h-.9zM55.9 213.9h.9v.9h-.9zM51.1 215.0h.9v.9h-.9zM52.9 215.0h.9v.9h-.9zM53.9 214.9h.9v.9h-.9zM54.9 215.1h.9v.9h-.9zM56.0 215.1h.9v.9h-.9zM57.1 214.9h.9v.9h-.9zM50.9 215.9h.9v.9h-.9zM52.9 215.9h.9v.9h-.9zM54.1 215.9h.9v.9h-.9zM49.1 216.9h.9v.9h-.9zM49.9 216.9h.9v.9h-.9zM50.9 217.1h.9v.9h-.9zM51.0 218.0h.9v.9h-.9zM52.1 218.1h.9v.9h-.9zM53.0 218.0h.9v.9h-.9z" fill="#444444"/>
<rect x="26.4" y="154.0" width="80.0" height="79.40" fill="none" stroke="#a0a0a0" stroke-width="0.7"/>
<line x1="26.4" y1="233.60" x2="106.4" y2="233.60" stroke="#8c8c8c" stroke-width="0.8"/>
<line x1="26.299999999999997" y1="154.0" x2="26.299999999999997" y2="233.40" stroke="#9a9a9a" stroke-width="0.8"/>
<path d="M27.00 233.40v1.1M30.82 233.40v1.1M34.64 233.40v1.1M38.46 233.40v1.1M42.28 233.40v1.1M46.10 233.40v1.1M49.92 233.40v1.1M53.74 233.40v1.1M57.56 233.40v1.1M61.38 233.40v1.1M65.20 233.40v1.1M69.02 233.40v1.1M72.84 233.40v1.1M76.66 233.40v1.1M80.48 233.40v1.1M84.30 233.40v1.1M88.12 233.40v1.1M91.94 233.40v1.1M95.76 233.40v1.1M99.58 233.40v1.1M103.40 233.40v1.1M25.30 233.40h1.1M25.30 229.48h1.1M25.30 225.56h1.1M25.30 221.64h1.1M25.30 217.72h1.1M25.30 213.80h1.1M25.30 209.88h1.1M25.30 205.96h1.1M25.30 202.04h1.1M25.30 198.12h1.1M25.30 194.20h1.1M25.30 190.28h1.1M25.30 186.36h1.1M25.30 182.44h1.1M25.30 178.52h1.1M25.30 174.60h1.1M25.30 170.68h1.1M25.30 166.76h1.1M25.30 162.84h1.1M25.30 158.92h1.1M25.30 155.00h1.1" stroke="#888" stroke-width="0.6"/>
<line x1="24.799999999999997" y1="233.40" x2="26.4" y2="233.40" stroke="#999" stroke-width="0.6"/>
<text x="23.20" y="235.00" font-size="4.4" text-anchor="end" fill="#555" stroke="#555" stroke-width="0.05">0</text>
<line x1="27.00" y1="233.4" x2="27.00" y2="235.0" stroke="#999" stroke-width="0.6"/>
<text x="27.00" y="240.20" font-size="4.4" text-anchor="middle" fill="#555" stroke="#555" stroke-width="0.05">0</text>
<line x1="24.799999999999997" y1="217.72" x2="26.4" y2="217.72" stroke="#999" stroke-width="0.6"/>
<text x="23.20" y="219.32" font-size="4.4" text-anchor="end" fill="#555" stroke="#555" stroke-width="0.05">200</text>
<line x1="42.28" y1="233.4" x2="42.28" y2="235.0" stroke="#999" stroke-width="0.6"/>
<text x="42.28" y="240.20" font-size="4.4" text-anchor="middle" fill="#555" stroke="#555" stroke-width="0.05">200</text>
<line x1="24.799999999999997" y1="202.04" x2="26.4" y2="202.04" stroke="#999" stroke-width="0.6"/>
<text x="23.20" y="203.64" font-size="4.4" text-anchor="end" fill="#555" stroke="#555" stroke-width="0.05">400</text>
<line x1="57.56" y1="233.4" x2="57.56" y2="235.0" stroke="#999" stroke-width="0.6"/>
<text x="57.56" y="240.20" font-size="4.4" text-anchor="middle" fill="#555" stroke="#555" stroke-width="0.05">400</text>
<line x1="24.799999999999997" y1="186.36" x2="26.4" y2="186.36" stroke="#999" stroke-width="0.6"/>
<text x="23.20" y="187.96" font-size="4.4" text-anchor="end" fill="#555" stroke="#555" stroke-width="0.05">600</text>
<line x1="72.84" y1="233.4" x2="72.84" y2="235.0" stroke="#999" stroke-width="0.6"/>
<text x="72.84" y="240.20" font-size="4.4" text-anchor="middle" fill="#555" stroke="#555" stroke-width="0.05">600</text>
<line x1="24.799999999999997" y1="170.68" x2="26.4" y2="170.68" stroke="#999" stroke-width="0.6"/>
<text x="23.20" y="172.28" font-size="4.4" text-anchor="end" fill="#555" stroke="#555" stroke-width="0.05">800</text>
<line x1="88.12" y1="233.4" x2="88.12" y2="235.0" stroke="#999" stroke-width="0.6"/>
<text x="88.12" y="240.20" font-size="4.4" text-anchor="middle" fill="#555" stroke="#555" stroke-width="0.05">800</text>
<line x1="24.799999999999997" y1="155.00" x2="26.4" y2="155.00" stroke="#999" stroke-width="0.6"/>
<text x="23.20" y="156.60" font-size="4.4" text-anchor="end" fill="#555" stroke="#555" stroke-width="0.05">1000</text>
<line x1="103.40" y1="233.4" x2="103.40" y2="235.0" stroke="#999" stroke-width="0.6"/>
<text x="103.40" y="240.20" font-size="4.4" text-anchor="middle" fill="#555" stroke="#555" stroke-width="0.05">1000</text>
<g fill="none" stroke="#1a1a1a" stroke-width="1.15">
<ellipse cx="39.2" cy="198.48" rx="28.4" ry="8.5" transform="rotate(94.5 39.2 198.48)"/>
<ellipse cx="50.2" cy="218.70" rx="14.8" ry="8.0" transform="rotate(-42.6 50.2 218.70)"/>
<polygon points="57.4,204.10 76.5,154.69 106.6,154.69 106.6,179.74 64.3,210.61"/>
</g>
<text x="39.60" y="186.55" font-size="7.1" font-weight="bold" text-anchor="middle" fill="#111" stroke="#111" stroke-width="0.5">Ap</text>
<text x="51.30" y="219.39" font-size="7.1" font-weight="bold" text-anchor="middle" fill="#111" stroke="#111" stroke-width="0.5">NB</text>
<text x="85.00" y="177.47" font-size="7.1" font-weight="bold" text-anchor="middle" fill="#111" stroke="#111" stroke-width="0.45">Bl</text>
<text x="68.00" y="147.90" font-size="8.2" font-weight="bold" text-anchor="middle" fill="#111" stroke="#111" stroke-width="0.25" textLength="56.00" lengthAdjust="spacingAndGlyphs">IL-15 100 ng/mL</text>
<path d="M37.0 269.1h.9v.9h-.9zM62.0 269.1h.9v.9h-.9zM71.0 268.9h.9v.9h-.9zM82.9 269.1h.9v.9h-.9zM93.1 269.1h.9v.9h-.9zM28.0 269.9h.9v.9h-.9zM41.0 270.1h.9v.9h-.9zM26.9 271.0h.9v.9h-.9zM59.9 270.9h.9v.9h-.9zM63.0 270.9h.9v.9h-.9zM35.1 272.0h.9v.9h-.9zM45.1 272.0h.9v.9h-.9zM55.0 273.9h.9v.9h-.9zM61.1 274.0h.9v.9h-.9zM64.1 274.0h.9v.9h-.9zM67.1 274.0h.9v.9h-.9zM86.9 274.1h.9v.9h-.9zM55.9 275.0h.9v.9h-.9zM71.1 275.0h.9v.9h-.9zM85.1 275.1h.9v.9h-.9zM89.0 275.0h.9v.9h-.9zM36.0 276.0h.9v.9h-.9zM47.9 275.9h.9v.9h-.9zM55.0 275.9h.9v.9h-.9zM59.0 275.9h.9v.9h-.9zM63.9 276.0h.9v.9h-.9zM99.9 276.1h.9v.9h-.9zM37.0 277.1h.9v.9h-.9zM43.9 276.9h.9v.9h-.9zM50.1 276.9h.9v.9h-.9zM55.9 277.0h.9v.9h-.9zM69.0 276.9h.9v.9h-.9zM93.9 277.1h.9v.9h-.9zM55.9 277.9h.9v.9h-.9zM66.9 278.0h.9v.9h-.9zM70.9 278.0h.9v.9h-.9zM72.0 277.9h.9v.9h-.9zM74.0 278.0h.9v.9h-.9zM53.1 279.0h.9v.9h-.9zM74.1 279.0h.9v.9h-.9zM92.9 278.9h.9v.9h-.9zM47.1 280.1h.9v.9h-.9zM87.0 279.9h.9v.9h-.9zM105.1 280.0h.9v.9h-.9zM64.1 281.0h.9v.9h-.9zM36.9 282.1h.9v.9h-.9zM37.9 281.9h.9v.9h-.9zM42.9 282.0h.9v.9h-.9zM76.1 282.0h.9v.9h-.9zM87.1 282.1h.9v.9h-.9zM90.1 282.0h.9v.9h-.9zM103.1 282.1h.9v.9h-.9zM38.0 282.9h.9v.9h-.9zM39.0 282.9h.9v.9h-.9zM69.0 282.9h.9v.9h-.9zM77.1 282.9h.9v.9h-.9zM102.0 283.0h.9v.9h-.9zM33.1 284.0h.9v.9h-.9zM34.1 283.9h.9v.9h-.9zM40.9 283.9h.9v.9h-.9zM59.1 284.0h.9v.9h-.9zM60.0 283.9h.9v.9h-.9zM63.1 284.1h.9v.9h-.9zM81.0 283.9h.9v.9h-.9zM83.9 283.9h.9v.9h-.9zM32.0 285.0h.9v.9h-.9zM60.0 285.0h.9v.9h-.9zM63.0 285.1h.9v.9h-.9zM81.1 285.1h.9v.9h-.9zM56.0 286.0h.9v.9h-.9zM62.1 286.1h.9v.9h-.9zM71.1 286.1h.9v.9h-.9zM71.9 285.9h.9v.9h-.9zM77.0 285.9h.9v.9h-.9zM28.1 287.1h.9v.9h-.9zM40.0 287.1h.9v.9h-.9zM60.0 287.1h.9v.9h-.9zM62.9 287.1h.9v.9h-.9zM84.1 286.9h.9v.9h-.9zM104.1 286.9h.9v.9h-.9zM42.0 288.0h.9v.9h-.9zM55.0 287.9h.9v.9h-.9zM60.9 288.1h.9v.9h-.9zM62.1 288.1h.9v.9h-.9zM58.9 289.1h.9v.9h-.9zM90.1 288.9h.9v.9h-.9zM44.9 290.0h.9v.9h-.9zM59.0 290.0h.9v.9h-.9zM79.0 290.0h.9v.9h-.9zM87.0 290.1h.9v.9h-.9zM60.9 291.0h.9v.9h-.9zM72.1 291.1h.9v.9h-.9zM105.0 292.0h.9v.9h-.9zM75.1 293.1h.9v.9h-.9zM76.1 292.9h.9v.9h-.9zM65.9 293.9h.9v.9h-.9zM52.9 295.0h.9v.9h-.9zM105.1 295.0h.9v.9h-.9zM42.9 296.1h.9v.9h-.9zM47.1 295.9h.9v.9h-.9zM64.0 296.0h.9v.9h-.9zM102.1 296.0h.9v.9h-.9zM103.9 296.9h.9v.9h-.9zM67.1 298.1h.9v.9h-.9zM101.1 297.9h.9v.9h-.9zM69.9 300.1h.9v.9h-.9zM102.9 300.1h.9v.9h-.9zM46.1 301.0h.9v.9h-.9zM102.9 301.0h.9v.9h-.9zM65.0 302.1h.9v.9h-.9zM50.9 302.9h.9v.9h-.9zM63.9 302.9h.9v.9h-.9zM57.1 303.9h.9v.9h-.9zM93.9 304.1h.9v.9h-.9zM50.0 305.1h.9v.9h-.9zM54.1 304.9h.9v.9h-.9zM93.0 305.1h.9v.9h-.9zM103.0 305.0h.9v.9h-.9zM52.1 306.1h.9v.9h-.9zM55.1 305.9h.9v.9h-.9zM84.9 306.0h.9v.9h-.9zM91.1 306.1h.9v.9h-.9zM102.1 307.0h.9v.9h-.9zM48.1 308.1h.9v.9h-.9zM89.1 307.9h.9v.9h-.9zM96.0 308.0h.9v.9h-.9zM47.0 309.9h.9v.9h-.9zM88.0 310.1h.9v.9h-.9zM86.1 311.0h.9v.9h-.9zM95.1 311.1h.9v.9h-.9zM84.0 312.1h.9v.9h-.9zM86.9 312.0h.9v.9h-.9zM97.1 312.1h.9v.9h-.9zM48.0 312.9h.9v.9h-.9zM49.9 313.1h.9v.9h-.9zM81.0 312.9h.9v.9h-.9zM87.1 312.9h.9v.9h-.9zM94.0 313.0h.9v.9h-.9zM46.9 314.0h.9v.9h-.9zM101.1 314.1h.9v.9h-.9zM104.0 314.1h.9v.9h-.9zM52.1 315.1h.9v.9h-.9zM87.0 314.9h.9v.9h-.9zM90.9 315.0h.9v.9h-.9zM97.1 315.0h.9v.9h-.9zM98.0 315.1h.9v.9h-.9zM102.0 315.1h.9v.9h-.9zM104.0 314.9h.9v.9h-.9zM76.9 317.1h.9v.9h-.9zM98.0 316.9h.9v.9h-.9zM76.0 318.0h.9v.9h-.9zM78.1 317.9h.9v.9h-.9zM79.9 318.0h.9v.9h-.9zM85.9 317.9h.9v.9h-.9zM91.9 318.1h.9v.9h-.9zM75.9 318.9h.9v.9h-.9zM78.1 319.1h.9v.9h-.9zM78.9 318.9h.9v.9h-.9zM81.9 319.0h.9v.9h-.9zM99.9 319.1h.9v.9h-.9zM102.1 319.1h.9v.9h-.9zM69.9 320.0h.9v.9h-.9zM89.9 319.9h.9v.9h-.9zM91.1 319.9h.9v.9h-.9zM92.9 320.1h.9v.9h-.9zM100.0 320.9h.9v.9h-.9zM52.0 321.9h.9v.9h-.9zM77.0 322.1h.9v.9h-.9zM85.9 321.9h.9v.9h-.9zM103.1 322.0h.9v.9h-.9zM52.1 323.1h.9v.9h-.9zM70.1 322.9h.9v.9h-.9zM51.0 324.1h.9v.9h-.9zM67.0 324.1h.9v.9h-.9zM78.1 324.1h.9v.9h-.9zM75.1 325.1h.9v.9h-.9zM44.9 326.0h.9v.9h-.9zM68.9 326.1h.9v.9h-.9zM91.1 326.0h.9v.9h-.9zM100.1 326.1h.9v.9h-.9zM89.9 326.9h.9v.9h-.9zM68.1 328.1h.9v.9h-.9zM74.0 328.1h.9v.9h-.9zM76.9 327.9h.9v.9h-.9zM105.1 328.1h.9v.9h-.9zM64.9 329.0h.9v.9h-.9zM66.9 329.1h.9v.9h-.9zM88.1 329.1h.9v.9h-.9zM96.1 329.0h.9v.9h-.9zM69.0 330.0h.9v.9h-.9zM64.0 331.1h.9v.9h-.9zM60.0 332.0h.9v.9h-.9zM60.9 332.1h.9v.9h-.9zM72.0 331.9h.9v.9h-.9zM89.1 331.9h.9v.9h-.9zM58.1 333.9h.9v.9h-.9zM62.1 334.0h.9v.9h-.9zM79.1 334.0h.9v.9h-.9zM87.1 333.9h.9v.9h-.9zM93.0 334.1h.9v.9h-.9zM101.0 334.1h.9v.9h-.9zM61.1 335.1h.9v.9h-.9zM69.0 334.9h.9v.9h-.9zM79.0 334.9h.9v.9h-.9zM101.9 335.1h.9v.9h-.9zM60.9 336.0h.9v.9h-.9zM68.1 335.9h.9v.9h-.9zM43.0 337.9h.9v.9h-.9zM57.0 338.1h.9v.9h-.9zM78.0 338.1h.9v.9h-.9zM80.1 338.0h.9v.9h-.9zM105.0 338.1h.9v.9h-.9zM41.0 338.9h.9v.9h-.9zM46.1 338.9h.9v.9h-.9zM51.9 339.1h.9v.9h-.9zM100.9 338.9h.9v.9h-.9zM58.9 340.1h.9v.9h-.9zM38.0 341.0h.9v.9h-.9zM57.0 341.0h.9v.9h-.9zM93.9 340.9h.9v.9h-.9zM35.1 342.1h.9v.9h-.9zM72.1 342.1h.9v.9h-.9zM84.0 342.0h.9v.9h-.9zM37.0 343.0h.9v.9h-.9zM38.0 342.9h.9v.9h-.9zM38.9 344.0h.9v.9h-.9zM55.1 343.9h.9v.9h-.9zM59.1 344.0h.9v.9h-.9zM73.0 343.9h.9v.9h-.9zM47.9 345.1h.9v.9h-.9zM87.9 345.0h.9v.9h-.9zM34.9 346.1h.9v.9h-.9zM55.0 346.1h.9v.9h-.9zM81.9 346.0h.9v.9h-.9zM96.9 346.1h.9v.9h-.9zM43.1 347.1h.9v.9h-.9zM45.9 347.0h.9v.9h-.9zM57.1 347.1h.9v.9h-.9zM57.9 347.0h.9v.9h-.9zM59.0 347.1h.9v.9h-.9z" fill="#d2d2d2"/>
<path d="M27.1 269.0h.9v.9h-.9zM31.1 269.0h.9v.9h-.9zM35.0 269.1h.9v.9h-.9zM40.0 269.1h.9v.9h-.9zM52.0 268.9h.9v.9h-.9zM69.0 269.0h.9v.9h-.9zM99.1 269.1h.9v.9h-.9zM30.0 270.0h.9v.9h-.9zM32.9 270.0h.9v.9h-.9zM35.0 270.0h.9v.9h-.9zM36.0 269.9h.9v.9h-.9zM42.1 270.1h.9v.9h-.9zM45.9 270.1h.9v.9h-.9zM52.0 269.9h.9v.9h-.9zM54.1 270.1h.9v.9h-.9zM56.1 269.9h.9v.9h-.9zM67.1 270.1h.9v.9h-.9zM68.0 270.1h.9v.9h-.9zM72.9 270.0h.9v.9h-.9zM85.9 269.9h.9v.9h-.9zM96.1 270.0h.9v.9h-.9zM97.0 270.1h.9v.9h-.9zM98.0 270.0h.9v.9h-.9zM101.0 269.9h.9v.9h-.9zM102.0 270.1h.9v.9h-.9zM105.1 269.9h.9v.9h-.9zM29.0 271.1h.9v.9h-.9zM33.1 271.0h.9v.9h-.9zM41.9 271.0h.9v.9h-.9zM43.0 271.0h.9v.9h-.9zM60.9 271.1h.9v.9h-.9zM66.0 271.0h.9v.9h-.9zM91.0 270.9h.9v.9h-.9zM93.9 271.0h.9v.9h-.9zM36.0 272.1h.9v.9h-.9zM38.1 272.0h.9v.9h-.9zM40.1 272.0h.9v.9h-.9zM42.9 272.1h.9v.9h-.9zM46.0 272.1h.9v.9h-.9zM59.1 272.1h.9v.9h-.9zM69.0 272.0h.9v.9h-.9zM77.9 271.9h.9v.9h-.9zM83.0 272.0h.9v.9h-.9zM86.9 272.1h.9v.9h-.9zM91.0 272.0h.9v.9h-.9zM93.9 272.1h.9v.9h-.9zM103.0 272.0h.9v.9h-.9zM27.0 273.0h.9v.9h-.9zM28.1 272.9h.9v.9h-.9zM30.0 272.9h.9v.9h-.9zM31.1 273.0h.9v.9h-.9zM32.0 273.0h.9v.9h-.9zM34.0 273.0h.9v.9h-.9zM42.1 273.0h.9v.9h-.9zM46.1 273.1h.9v.9h-.9zM47.1 273.1h.9v.9h-.9zM58.9 273.0h.9v.9h-.9zM62.1 273.1h.9v.9h-.9zM78.0 272.9h.9v.9h-.9zM87.0 273.1h.9v.9h-.9zM90.1 273.1h.9v.9h-.9zM92.9 272.9h.9v.9h-.9zM96.9 272.9h.9v.9h-.9zM100.1 273.1h.9v.9h-.9zM28.0 274.1h.9v.9h-.9zM34.0 273.9h.9v.9h-.9zM36.0 274.1h.9v.9h-.9zM41.9 273.9h.9v.9h-.9zM46.1 273.9h.9v.9h-.9zM52.9 274.0h.9v.9h-.9zM57.0 274.1h.9v.9h-.9zM62.0 273.9h.9v.9h-.9zM68.0 274.0h.9v.9h-.9zM71.0 273.9h.9v.9h-.9zM73.1 274.1h.9v.9h-.9zM82.0 274.1h.9v.9h-.9zM84.0 274.1h.9v.9h-.9zM90.1 274.1h.9v.9h-.9zM93.9 274.0h.9v.9h-.9zM99.0 273.9h.9v.9h-.9zM99.9 273.9h.9v.9h-.9zM103.9 274.0h.9v.9h-.9zM105.0 273.9h.9v.9h-.9zM31.9 274.9h.9v.9h-.9zM39.0 275.1h.9v.9h-.9zM42.0 275.0h.9v.9h-.9zM43.1 275.0h.9v.9h-.9zM43.9 275.0h.9v.9h-.9zM54.0 275.0h.9v.9h-.9zM55.1 275.0h.9v.9h-.9zM57.1 274.9h.9v.9h-.9zM61.0 275.0h.9v.9h-.9zM77.0 274.9h.9v.9h-.9zM87.9 274.9h.9v.9h-.9zM92.1 274.9h.9v.9h-.9zM94.1 275.0h.9v.9h-.9zM101.9 274.9h.9v.9h-.9zM103.9 275.1h.9v.9h-.9zM28.9 275.9h.9v.9h-.9zM38.9 276.0h.9v.9h-.9zM39.9 275.9h.9v.9h-.9zM41.0 276.0h.9v.9h-.9zM79.9 276.0h.9v.9h-.9zM81.0 276.0h.9v.9h-.9zM95.1 276.1h.9v.9h-.9zM97.9 276.0h.9v.9h-.9zM35.1 276.9h.9v.9h-.9zM51.1 277.1h.9v.9h-.9zM53.0 277.0h.9v.9h-.9zM62.0 277.1h.9v.9h-.9zM73.9 277.1h.9v.9h-.9zM79.9 276.9h.9v.9h-.9zM82.0 277.1h.9v.9h-.9zM83.0 276.9h.9v.9h-.9zM91.0 277.0h.9v.9h-.9zM98.1 277.1h.9v.9h-.9zM98.9 276.9h.9v.9h-.9zM100.1 276.9h.9v.9h-.9zM101.0 277.0h.9v.9h-.9zM103.1 277.0h.9v.9h-.9zM27.9 278.0h.9v.9h-.9zM31.1 277.9h.9v.9h-.9zM36.1 278.0h.9v.9h-.9zM43.0 278.1h.9v.9h-.9zM45.0 277.9h.9v.9h-.9zM46.1 278.0h.9v.9h-.9zM49.9 277.9h.9v.9h-.9zM55.1 278.1h.9v.9h-.9zM60.0 278.1h.9v.9h-.9zM76.0 278.1h.9v.9h-.9zM80.9 278.0h.9v.9h-.9zM81.9 278.1h.9v.9h-.9zM83.1 277.9h.9v.9h-.9zM85.9 278.1h.9v.9h-.9zM94.0 278.0h.9v.9h-.9zM100.0 277.9h.9v.9h-.9zM27.1 279.0h.9v.9h-.9zM34.0 279.0h.9v.9h-.9zM43.0 278.9h.9v.9h-.9zM44.1 278.9h.9v.9h-.9zM46.1 278.9h.9v.9h-.9zM60.9 279.0h.9v.9h-.9zM64.9 279.0h.9v.9h-.9zM65.9 278.9h.9v.9h-.9zM74.9 278.9h.9v.9h-.9zM77.9 279.1h.9v.9h-.9zM80.0 279.1h.9v.9h-.9zM83.0 279.0h.9v.9h-.9zM93.9 279.0h.9v.9h-.9zM95.0 278.9h.9v.9h-.9zM96.9 279.0h.9v.9h-.9zM99.9 278.9h.9v.9h-.9zM101.1 279.1h.9v.9h-.9zM104.1 279.1h.9v.9h-.9zM104.9 279.1h.9v.9h-.9zM36.9 279.9h.9v.9h-.9zM45.0 280.1h.9v.9h-.9zM45.9 279.9h.9v.9h-.9zM52.0 280.0h.9v.9h-.9zM68.0 280.1h.9v.9h-.9zM70.0 279.9h.9v.9h-.9zM71.0 280.0h.9v.9h-.9zM74.1 279.9h.9v.9h-.9zM83.1 280.0h.9v.9h-.9zM86.0 280.1h.9v.9h-.9zM88.0 279.9h.9v.9h-.9zM92.0 279.9h.9v.9h-.9zM101.0 280.0h.9v.9h-.9zM103.9 280.1h.9v.9h-.9zM27.9 281.1h.9v.9h-.9zM29.9 281.1h.9v.9h-.9zM33.0 281.1h.9v.9h-.9zM35.9 281.0h.9v.9h-.9zM42.0 281.0h.9v.9h-.9zM45.0 281.0h.9v.9h-.9zM48.0 280.9h.9v.9h-.9zM58.9 281.1h.9v.9h-.9zM75.0 281.1h.9v.9h-.9zM82.1 280.9h.9v.9h-.9zM96.9 281.0h.9v.9h-.9zM99.9 280.9h.9v.9h-.9zM104.9 281.1h.9v.9h-.9zM27.9 281.9h.9v.9h-.9zM29.1 282.0h.9v.9h-.9zM30.9 282.0h.9v.9h-.9zM53.1 282.1h.9v.9h-.9zM57.9 281.9h.9v.9h-.9zM72.1 282.1h.9v.9h-.9zM83.1 282.0h.9v.9h-.9zM93.0 281.9h.9v.9h-.9zM97.1 282.1h.9v.9h-.9zM100.0 282.0h.9v.9h-.9zM27.1 282.9h.9v.9h-.9zM29.0 283.1h.9v.9h-.9zM36.1 283.0h.9v.9h-.9zM39.9 283.1h.9v.9h-.9zM46.0 283.1h.9v.9h-.9zM66.1 282.9h.9v.9h-.9zM75.9 283.1h.9v.9h-.9zM81.1 283.1h.9v.9h-.9zM94.9 282.9h.9v.9h-.9zM97.1 282.9h.9v.9h-.9zM100.1 283.0h.9v.9h-.9zM29.0 283.9h.9v.9h-.9zM30.1 284.1h.9v.9h-.9zM36.0 284.0h.9v.9h-.9zM50.9 283.9h.9v.9h-.9zM51.9 284.0h.9v.9h-.9zM64.9 284.0h.9v.9h-.9zM65.9 283.9h.9v.9h-.9zM67.1 283.9h.9v.9h-.9zM73.0 283.9h.9v.9h-.9zM77.1 283.9h.9v.9h-.9zM82.0 283.9h.9v.9h-.9zM87.0 284.1h.9v.9h-.9zM96.0 283.9h.9v.9h-.9zM97.0 284.1h.9v.9h-.9zM101.0 283.9h.9v.9h-.9zM101.9 283.9h.9v.9h-.9zM104.1 284.0h.9v.9h-.9zM31.0 284.9h.9v.9h-.9zM34.0 285.1h.9v.9h-.9zM37.1 285.1h.9v.9h-.9zM42.0 284.9h.9v.9h-.9zM43.9 285.1h.9v.9h-.9zM44.9 285.0h.9v.9h-.9zM48.1 284.9h.9v.9h-.9zM59.1 285.1h.9v.9h-.9zM65.9 284.9h.9v.9h-.9zM67.9 284.9h.9v.9h-.9zM74.9 285.0h.9v.9h-.9zM77.1 285.1h.9v.9h-.9zM80.0 285.1h.9v.9h-.9zM90.9 285.1h.9v.9h-.9zM92.9 284.9h.9v.9h-.9zM96.9 284.9h.9v.9h-.9zM99.0 285.0h.9v.9h-.9zM102.1 285.1h.9v.9h-.9zM28.0 286.0h.9v.9h-.9zM29.0 286.0h.9v.9h-.9zM32.0 286.0h.9v.9h-.9zM35.9 286.1h.9v.9h-.9zM40.1 286.1h.9v.9h-.9zM45.9 286.0h.9v.9h-.9zM50.1 286.0h.9v.9h-.9zM82.0 286.0h.9v.9h-.9zM85.0 285.9h.9v.9h-.9zM86.0 286.1h.9v.9h-.9zM95.1 285.9h.9v.9h-.9zM105.0 286.1h.9v.9h-.9zM29.0 286.9h.9v.9h-.9zM29.9 286.9h.9v.9h-.9zM31.1 287.1h.9v.9h-.9zM34.0 287.0h.9v.9h-.9zM35.9 287.1h.9v.9h-.9zM41.1 287.0h.9v.9h-.9zM42.0 287.1h.9v.9h-.9zM44.0 287.1h.9v.9h-.9zM44.9 286.9h.9v.9h-.9zM55.1 286.9h.9v.9h-.9zM56.0 287.0h.9v.9h-.9zM74.0 286.9h.9v.9h-.9zM75.9 286.9h.9v.9h-.9zM82.0 287.1h.9v.9h-.9zM87.9 287.1h.9v.9h-.9zM99.0 286.9h.9v.9h-.9zM101.0 287.1h.9v.9h-.9zM26.9 288.1h.9v.9h-.9zM28.1 288.1h.9v.9h-.9zM30.1 288.1h.9v.9h-.9zM33.9 287.9h.9v.9h-.9zM35.9 288.0h.9v.9h-.9zM36.9 288.0h.9v.9h-.9zM44.1 288.1h.9v.9h-.9zM45.9 287.9h.9v.9h-.9zM47.9 288.0h.9v.9h-.9zM58.1 288.1h.9v.9h-.9zM65.0 288.1h.9v.9h-.9zM68.1 287.9h.9v.9h-.9zM71.1 288.1h.9v.9h-.9zM75.9 288.0h.9v.9h-.9zM77.9 288.0h.9v.9h-.9zM80.1 288.1h.9v.9h-.9zM86.0 287.9h.9v.9h-.9zM88.1 288.0h.9v.9h-.9zM89.9 287.9h.9v.9h-.9zM97.1 288.0h.9v.9h-.9zM98.0 287.9h.9v.9h-.9zM99.9 287.9h.9v.9h-.9zM104.0 288.0h.9v.9h-.9zM105.1 288.0h.9v.9h-.9zM32.0 288.9h.9v.9h-.9zM34.1 289.0h.9v.9h-.9zM48.0 288.9h.9v.9h-.9zM50.9 289.1h.9v.9h-.9zM66.1 288.9h.9v.9h-.9zM71.9 289.1h.9v.9h-.9zM74.1 289.0h.9v.9h-.9zM79.1 289.0h.9v.9h-.9zM81.0 289.1h.9v.9h-.9zM84.1 289.0h.9v.9h-.9zM87.0 289.1h.9v.9h-.9zM89.1 289.0h.9v.9h-.9zM91.9 289.0h.9v.9h-.9zM94.9 289.0h.9v.9h-.9zM102.1 288.9h.9v.9h-.9zM103.0 289.0h.9v.9h-.9zM35.0 290.0h.9v.9h-.9zM38.9 290.1h.9v.9h-.9zM44.0 290.1h.9v.9h-.9zM48.0 290.0h.9v.9h-.9zM52.1 290.0h.9v.9h-.9zM84.1 289.9h.9v.9h-.9zM85.1 290.1h.9v.9h-.9zM85.9 289.9h.9v.9h-.9zM90.0 290.0h.9v.9h-.9zM93.0 290.0h.9v.9h-.9zM95.9 290.0h.9v.9h-.9zM99.9 290.1h.9v.9h-.9zM100.9 290.0h.9v.9h-.9zM102.1 290.1h.9v.9h-.9zM104.1 290.0h.9v.9h-.9zM36.1 291.1h.9v.9h-.9zM38.1 290.9h.9v.9h-.9zM41.9 290.9h.9v.9h-.9zM60.1 291.0h.9v.9h-.9zM69.0 291.0h.9v.9h-.9zM75.0 291.1h.9v.9h-.9zM76.9 291.0h.9v.9h-.9zM86.1 291.1h.9v.9h-.9zM95.1 291.1h.9v.9h-.9zM98.9 291.1h.9v.9h-.9zM102.9 290.9h.9v.9h-.9zM28.1 291.9h.9v.9h-.9zM28.9 292.0h.9v.9h-.9zM32.9 291.9h.9v.9h-.9zM36.0 291.9h.9v.9h-.9zM40.9 292.1h.9v.9h-.9zM44.9 291.9h.9v.9h-.9zM46.0 292.1h.9v.9h-.9zM50.9 291.9h.9v.9h-.9zM60.9 292.0h.9v.9h-.9zM73.1 292.0h.9v.9h-.9zM73.9 292.1h.9v.9h-.9zM75.0 291.9h.9v.9h-.9zM76.1 291.9h.9v.9h-.9zM78.0 292.1h.9v.9h-.9zM79.1 292.0h.9v.9h-.9zM81.1 291.9h.9v.9h-.9zM90.0 292.0h.9v.9h-.9zM94.9 292.1h.9v.9h-.9zM98.0 291.9h.9v.9h-.9zM100.1 292.0h.9v.9h-.9zM100.9 292.0h.9v.9h-.9zM27.0 293.0h.9v.9h-.9zM51.1 292.9h.9v.9h-.9zM52.1 293.1h.9v.9h-.9zM61.0 292.9h.9v.9h-.9zM64.1 292.9h.9v.9h-.9zM67.0 292.9h.9v.9h-.9zM68.1 293.0h.9v.9h-.9zM72.9 293.0h.9v.9h-.9zM77.0 292.9h.9v.9h-.9zM79.0 293.1h.9v.9h-.9zM79.9 292.9h.9v.9h-.9zM93.0 293.0h.9v.9h-.9zM97.0 292.9h.9v.9h-.9zM99.0 293.1h.9v.9h-.9zM99.9 292.9h.9v.9h-.9zM48.9 293.9h.9v.9h-.9zM65.1 293.9h.9v.9h-.9zM69.9 293.9h.9v.9h-.9zM70.9 294.1h.9v.9h-.9zM71.9 293.9h.9v.9h-.9zM73.1 294.1h.9v.9h-.9zM76.9 294.1h.9v.9h-.9zM81.9 293.9h.9v.9h-.9zM86.1 293.9h.9v.9h-.9zM92.9 293.9h.9v.9h-.9zM104.0 293.9h.9v.9h-.9zM35.1 295.0h.9v.9h-.9zM42.0 295.1h.9v.9h-.9zM44.0 294.9h.9v.9h-.9zM46.0 295.1h.9v.9h-.9zM50.9 295.0h.9v.9h-.9zM62.1 295.1h.9v.9h-.9zM63.1 295.1h.9v.9h-.9zM71.1 295.1h.9v.9h-.9zM86.0 295.1h.9v.9h-.9zM66.1 295.9h.9v.9h-.9zM90.9 296.1h.9v.9h-.9zM95.0 295.9h.9v.9h-.9zM97.0 296.0h.9v.9h-.9zM104.9 295.9h.9v.9h-.9zM56.0 296.9h.9v.9h-.9zM67.1 296.9h.9v.9h-.9zM68.9 297.0h.9v.9h-.9zM70.9 296.9h.9v.9h-.9zM72.0 297.0h.9v.9h-.9zM90.0 297.1h.9v.9h-.9zM90.9 296.9h.9v.9h-.9zM96.9 296.9h.9v.9h-.9zM100.0 297.1h.9v.9h-.9zM46.1 298.1h.9v.9h-.9zM46.9 298.0h.9v.9h-.9zM49.1 298.1h.9v.9h-.9zM63.9 298.0h.9v.9h-.9zM72.1 298.1h.9v.9h-.9zM81.1 298.1h.9v.9h-.9zM89.9 298.0h.9v.9h-.9zM46.0 298.9h.9v.9h-.9zM52.1 299.0h.9v.9h-.9zM72.9 299.0h.9v.9h-.9zM76.0 298.9h.9v.9h-.9zM79.9 299.0h.9v.9h-.9zM88.1 299.0h.9v.9h-.9zM94.0 298.9h.9v.9h-.9zM98.9 299.0h.9v.9h-.9zM69.1 300.0h.9v.9h-.9zM73.0 299.9h.9v.9h-.9zM89.0 299.9h.9v.9h-.9zM94.9 300.1h.9v.9h-.9zM50.0 301.1h.9v.9h-.9zM64.9 301.0h.9v.9h-.9zM66.9 300.9h.9v.9h-.9zM88.1 301.1h.9v.9h-.9zM95.1 300.9h.9v.9h-.9zM96.9 301.1h.9v.9h-.9zM100.0 300.9h.9v.9h-.9zM44.9 302.1h.9v.9h-.9zM47.0 302.1h.9v.9h-.9zM51.1 302.0h.9v.9h-.9zM52.1 302.1h.9v.9h-.9zM56.0 301.9h.9v.9h-.9zM58.0 302.1h.9v.9h-.9zM60.1 302.1h.9v.9h-.9zM88.0 302.0h.9v.9h-.9zM91.0 302.1h.9v.9h-.9zM47.1 302.9h.9v.9h-.9zM55.0 303.1h.9v.9h-.9zM58.9 303.0h.9v.9h-.9zM85.9 303.1h.9v.9h-.9zM102.1 302.9h.9v.9h-.9zM45.9 303.9h.9v.9h-.9zM50.0 303.9h.9v.9h-.9zM56.0 303.9h.9v.9h-.9zM61.1 304.0h.9v.9h-.9zM61.9 303.9h.9v.9h-.9zM63.9 304.1h.9v.9h-.9zM68.0 303.9h.9v.9h-.9zM89.0 304.1h.9v.9h-.9zM102.1 303.9h.9v.9h-.9zM47.0 305.1h.9v.9h-.9zM62.0 304.9h.9v.9h-.9zM63.0 304.9h.9v.9h-.9zM67.1 304.9h.9v.9h-.9zM83.1 305.0h.9v.9h-.9zM97.1 305.0h.9v.9h-.9zM57.1 306.0h.9v.9h-.9zM59.1 306.1h.9v.9h-.9zM63.0 306.0h.9v.9h-.9zM105.0 306.0h.9v.9h-.9zM46.0 307.0h.9v.9h-.9zM49.9 307.1h.9v.9h-.9zM52.1 307.0h.9v.9h-.9zM56.0 307.1h.9v.9h-.9zM89.1 307.1h.9v.9h-.9zM97.1 307.0h.9v.9h-.9zM97.9 306.9h.9v.9h-.9zM101.1 307.0h.9v.9h-.9zM50.1 308.0h.9v.9h-.9zM87.1 308.0h.9v.9h-.9zM87.9 308.0h.9v.9h-.9zM46.0 309.0h.9v.9h-.9zM54.1 309.0h.9v.9h-.9zM56.9 309.1h.9v.9h-.9zM60.0 309.0h.9v.9h-.9zM91.0 309.0h.9v.9h-.9zM94.1 308.9h.9v.9h-.9zM99.1 309.1h.9v.9h-.9zM103.1 308.9h.9v.9h-.9zM50.1 310.1h.9v.9h-.9zM55.1 309.9h.9v.9h-.9zM89.0 310.1h.9v.9h-.9zM102.9 310.0h.9v.9h-.9zM46.1 311.0h.9v.9h-.9zM48.0 311.1h.9v.9h-.9zM54.1 311.1h.9v.9h-.9zM76.9 310.9h.9v.9h-.9zM87.1 311.0h.9v.9h-.9zM89.0 310.9h.9v.9h-.9zM82.0 312.0h.9v.9h-.9zM90.1 311.9h.9v.9h-.9zM89.1 313.1h.9v.9h-.9zM48.0 314.1h.9v.9h-.9zM50.1 314.0h.9v.9h-.9zM52.0 314.1h.9v.9h-.9zM53.0 313.9h.9v.9h-.9zM80.1 313.9h.9v.9h-.9zM81.0 314.0h.9v.9h-.9zM83.1 313.9h.9v.9h-.9zM92.0 314.0h.9v.9h-.9zM75.1 314.9h.9v.9h-.9zM78.1 314.9h.9v.9h-.9zM47.0 315.9h.9v.9h-.9zM85.1 315.9h.9v.9h-.9zM99.9 316.1h.9v.9h-.9zM103.0 316.0h.9v.9h-.9zM104.1 317.1h.9v.9h-.9zM48.9 318.1h.9v.9h-.9zM51.1 318.1h.9v.9h-.9zM52.0 318.0h.9v.9h-.9zM79.1 317.9h.9v.9h-.9zM45.9 319.1h.9v.9h-.9zM47.1 319.0h.9v.9h-.9zM48.9 319.1h.9v.9h-.9zM51.1 319.1h.9v.9h-.9zM51.9 318.9h.9v.9h-.9zM82.9 319.0h.9v.9h-.9zM103.1 319.1h.9v.9h-.9zM44.9 320.0h.9v.9h-.9zM45.9 320.0h.9v.9h-.9zM73.9 320.0h.9v.9h-.9zM88.0 320.1h.9v.9h-.9zM97.9 320.1h.9v.9h-.9zM98.9 320.0h.9v.9h-.9zM47.1 321.0h.9v.9h-.9zM49.0 321.0h.9v.9h-.9zM79.1 321.1h.9v.9h-.9zM83.1 321.0h.9v.9h-.9zM90.1 321.1h.9v.9h-.9zM44.9 322.0h.9v.9h-.9zM46.1 322.1h.9v.9h-.9zM47.0 321.9h.9v.9h-.9zM50.1 321.9h.9v.9h-.9zM50.9 322.0h.9v.9h-.9zM69.9 322.1h.9v.9h-.9zM73.1 322.1h.9v.9h-.9zM75.9 323.1h.9v.9h-.9zM95.1 323.1h.9v.9h-.9zM45.1 324.1h.9v.9h-.9zM74.9 324.1h.9v.9h-.9zM43.1 325.1h.9v.9h-.9zM46.1 325.1h.9v.9h-.9zM51.9 324.9h.9v.9h-.9zM72.1 325.0h.9v.9h-.9zM80.0 324.9h.9v.9h-.9zM44.0 325.9h.9v.9h-.9zM46.9 325.9h.9v.9h-.9zM50.0 326.0h.9v.9h-.9zM63.9 326.1h.9v.9h-.9zM64.9 326.0h.9v.9h-.9zM75.0 326.1h.9v.9h-.9zM48.0 327.0h.9v.9h-.9zM82.0 327.0h.9v.9h-.9zM44.1 328.1h.9v.9h-.9zM65.9 328.1h.9v.9h-.9zM72.1 328.1h.9v.9h-.9zM29.1 328.9h.9v.9h-.9zM47.0 329.1h.9v.9h-.9zM61.9 329.0h.9v.9h-.9zM65.9 329.0h.9v.9h-.9zM67.9 329.0h.9v.9h-.9zM72.0 329.1h.9v.9h-.9zM43.1 330.0h.9v.9h-.9zM45.0 329.9h.9v.9h-.9zM62.0 329.9h.9v.9h-.9zM59.9 331.0h.9v.9h-.9zM92.1 332.1h.9v.9h-.9zM105.1 332.0h.9v.9h-.9zM84.1 333.0h.9v.9h-.9zM98.9 333.1h.9v.9h-.9zM102.9 332.9h.9v.9h-.9zM40.9 333.9h.9v.9h-.9zM41.9 333.9h.9v.9h-.9zM55.9 334.0h.9v.9h-.9zM60.9 333.9h.9v.9h-.9zM41.1 335.1h.9v.9h-.9zM44.0 335.0h.9v.9h-.9zM45.0 335.1h.9v.9h-.9zM34.0 336.1h.9v.9h-.9zM39.9 336.1h.9v.9h-.9zM44.0 336.1h.9v.9h-.9zM53.9 336.1h.9v.9h-.9zM62.1 336.1h.9v.9h-.9zM72.1 336.1h.9v.9h-.9zM75.0 335.9h.9v.9h-.9zM100.9 336.1h.9v.9h-.9zM41.0 336.9h.9v.9h-.9zM43.9 337.0h.9v.9h-.9zM46.1 337.1h.9v.9h-.9zM52.0 337.0h.9v.9h-.9zM54.0 337.0h.9v.9h-.9zM37.0 338.1h.9v.9h-.9zM53.1 338.1h.9v.9h-.9zM54.1 338.0h.9v.9h-.9zM97.9 338.1h.9v.9h-.9zM100.9 337.9h.9v.9h-.9zM27.0 339.0h.9v.9h-.9zM38.1 339.0h.9v.9h-.9zM40.0 339.0h.9v.9h-.9zM48.1 338.9h.9v.9h-.9zM58.1 338.9h.9v.9h-.9zM91.0 339.0h.9v.9h-.9zM57.9 340.0h.9v.9h-.9zM62.0 339.9h.9v.9h-.9zM84.0 340.0h.9v.9h-.9zM98.0 340.0h.9v.9h-.9zM34.0 341.0h.9v.9h-.9zM38.9 341.1h.9v.9h-.9zM49.0 341.0h.9v.9h-.9zM52.9 341.0h.9v.9h-.9zM34.1 341.9h.9v.9h-.9zM40.0 342.0h.9v.9h-.9zM45.0 341.9h.9v.9h-.9zM50.0 341.9h.9v.9h-.9zM53.1 341.9h.9v.9h-.9zM33.0 343.0h.9v.9h-.9zM86.1 343.0h.9v.9h-.9zM90.0 342.9h.9v.9h-.9zM46.0 344.1h.9v.9h-.9zM56.0 344.1h.9v.9h-.9zM74.9 343.9h.9v.9h-.9zM34.9 345.1h.9v.9h-.9zM36.1 345.0h.9v.9h-.9zM37.0 344.9h.9v.9h-.9zM37.9 344.9h.9v.9h-.9zM40.0 345.0h.9v.9h-.9zM41.0 345.1h.9v.9h-.9zM45.1 344.9h.9v.9h-.9zM46.0 345.0h.9v.9h-.9zM47.1 345.1h.9v.9h-.9zM101.1 345.0h.9v.9h-.9zM104.9 344.9h.9v.9h-.9zM33.0 346.0h.9v.9h-.9zM34.1 346.1h.9v.9h-.9zM36.0 345.9h.9v.9h-.9zM40.0 346.0h.9v.9h-.9zM46.0 346.1h.9v.9h-.9zM52.0 345.9h.9v.9h-.9zM60.1 346.1h.9v.9h-.9zM36.0 347.1h.9v.9h-.9zM47.0 347.1h.9v.9h-.9zM66.1 347.0h.9v.9h-.9zM73.1 347.1h.9v.9h-.9z" fill="#bbbbbb"/>
<path d="M40.9 269.1h.9v.9h-.9zM44.9 269.1h.9v.9h-.9zM46.1 269.1h.9v.9h-.9zM47.9 268.9h.9v.9h-.9zM54.0 269.1h.9v.9h-.9zM63.0 268.9h.9v.9h-.9zM95.9 268.9h.9v.9h-.9zM100.0 269.0h.9v.9h-.9zM102.0 269.0h.9v.9h-.9zM27.1 270.1h.9v.9h-.9zM32.1 270.0h.9v.9h-.9zM34.0 270.1h.9v.9h-.9zM40.0 269.9h.9v.9h-.9zM43.1 270.1h.9v.9h-.9zM48.0 270.1h.9v.9h-.9zM50.9 270.0h.9v.9h-.9zM60.1 270.1h.9v.9h-.9zM61.1 270.0h.9v.9h-.9zM63.1 270.1h.9v.9h-.9zM77.9 270.1h.9v.9h-.9zM82.1 270.0h.9v.9h-.9zM89.0 270.0h.9v.9h-.9zM90.1 270.0h.9v.9h-.9zM93.1 270.0h.9v.9h-.9zM95.1 270.1h.9v.9h-.9zM100.0 269.9h.9v.9h-.9zM102.9 270.1h.9v.9h-.9zM104.1 270.1h.9v.9h-.9zM27.9 271.0h.9v.9h-.9zM30.1 271.1h.9v.9h-.9zM31.1 271.1h.9v.9h-.9zM34.9 270.9h.9v.9h-.9zM38.1 271.0h.9v.9h-.9zM38.9 270.9h.9v.9h-.9zM46.1 271.1h.9v.9h-.9zM51.0 270.9h.9v.9h-.9zM81.0 271.1h.9v.9h-.9zM84.1 270.9h.9v.9h-.9zM84.9 270.9h.9v.9h-.9zM88.9 271.1h.9v.9h-.9zM95.0 271.0h.9v.9h-.9zM98.9 271.1h.9v.9h-.9zM102.1 271.1h.9v.9h-.9zM105.0 270.9h.9v.9h-.9zM36.9 272.1h.9v.9h-.9zM54.9 272.1h.9v.9h-.9zM76.0 271.9h.9v.9h-.9zM94.9 272.0h.9v.9h-.9zM95.9 271.9h.9v.9h-.9zM97.0 272.0h.9v.9h-.9zM98.9 272.0h.9v.9h-.9zM101.0 272.0h.9v.9h-.9zM103.9 272.0h.9v.9h-.9zM28.9 272.9h.9v.9h-.9zM33.1 273.1h.9v.9h-.9zM35.0 272.9h.9v.9h-.9zM38.0 273.1h.9v.9h-.9zM40.1 272.9h.9v.9h-.9zM41.0 273.0h.9v.9h-.9zM71.1 272.9h.9v.9h-.9zM80.1 273.0h.9v.9h-.9zM81.1 272.9h.9v.9h-.9zM86.1 272.9h.9v.9h-.9zM95.9 273.1h.9v.9h-.9zM101.0 273.1h.9v.9h-.9zM102.9 273.0h.9v.9h-.9zM40.1 274.1h.9v.9h-.9zM42.9 274.0h.9v.9h-.9zM52.0 274.0h.9v.9h-.9zM59.1 274.0h.9v.9h-.9zM79.9 274.0h.9v.9h-.9zM96.0 274.1h.9v.9h-.9zM36.0 275.0h.9v.9h-.9zM41.1 275.0h.9v.9h-.9zM57.9 274.9h.9v.9h-.9zM75.0 274.9h.9v.9h-.9zM80.9 274.9h.9v.9h-.9zM97.9 275.1h.9v.9h-.9zM98.9 274.9h.9v.9h-.9zM101.0 274.9h.9v.9h-.9zM26.9 276.1h.9v.9h-.9zM30.1 275.9h.9v.9h-.9zM31.9 276.1h.9v.9h-.9zM35.0 276.1h.9v.9h-.9zM37.0 276.1h.9v.9h-.9zM41.9 276.0h.9v.9h-.9zM42.9 276.1h.9v.9h-.9zM43.9 275.9h.9v.9h-.9zM46.0 275.9h.9v.9h-.9zM49.9 276.0h.9v.9h-.9zM62.0 275.9h.9v.9h-.9zM76.9 276.0h.9v.9h-.9zM82.1 276.1h.9v.9h-.9zM88.1 276.1h.9v.9h-.9zM91.9 276.1h.9v.9h-.9zM95.9 276.0h.9v.9h-.9zM96.9 276.1h.9v.9h-.9zM99.0 275.9h.9v.9h-.9zM101.1 276.0h.9v.9h-.9zM104.9 276.0h.9v.9h-.9zM28.1 277.0h.9v.9h-.9zM30.1 277.0h.9v.9h-.9zM31.9 276.9h.9v.9h-.9zM32.9 277.0h.9v.9h-.9zM34.1 277.0h.9v.9h-.9zM36.1 277.0h.9v.9h-.9zM38.9 277.1h.9v.9h-.9zM40.1 277.1h.9v.9h-.9zM40.9 277.0h.9v.9h-.9zM42.0 277.1h.9v.9h-.9zM42.9 277.1h.9v.9h-.9zM49.1 276.9h.9v.9h-.9zM67.1 277.0h.9v.9h-.9zM72.9 276.9h.9v.9h-.9zM78.9 277.1h.9v.9h-.9zM83.9 277.0h.9v.9h-.9zM89.0 277.1h.9v.9h-.9zM91.9 277.1h.9v.9h-.9zM103.9 277.0h.9v.9h-.9zM105.1 276.9h.9v.9h-.9zM33.1 278.1h.9v.9h-.9zM35.1 278.1h.9v.9h-.9zM38.9 277.9h.9v.9h-.9zM39.9 278.0h.9v.9h-.9zM41.1 278.0h.9v.9h-.9zM62.0 278.1h.9v.9h-.9zM79.1 277.9h.9v.9h-.9zM88.0 278.0h.9v.9h-.9zM91.1 278.1h.9v.9h-.9zM96.9 277.9h.9v.9h-.9zM97.9 278.1h.9v.9h-.9zM104.0 278.1h.9v.9h-.9zM31.1 278.9h.9v.9h-.9zM32.9 279.1h.9v.9h-.9zM35.9 278.9h.9v.9h-.9zM39.0 279.0h.9v.9h-.9zM40.0 279.0h.9v.9h-.9zM50.0 279.1h.9v.9h-.9zM54.0 279.0h.9v.9h-.9zM58.0 279.0h.9v.9h-.9zM67.9 279.0h.9v.9h-.9zM77.1 278.9h.9v.9h-.9zM80.9 279.1h.9v.9h-.9zM84.0 278.9h.9v.9h-.9zM87.1 279.1h.9v.9h-.9zM88.9 279.0h.9v.9h-.9zM91.1 278.9h.9v.9h-.9zM97.9 279.1h.9v.9h-.9zM30.1 280.1h.9v.9h-.9zM35.0 280.1h.9v.9h-.9zM37.9 279.9h.9v.9h-.9zM40.9 280.0h.9v.9h-.9zM44.0 279.9h.9v.9h-.9zM49.0 280.1h.9v.9h-.9zM72.1 279.9h.9v.9h-.9zM79.9 280.1h.9v.9h-.9zM81.9 280.1h.9v.9h-.9zM84.0 280.0h.9v.9h-.9zM85.0 279.9h.9v.9h-.9zM88.9 280.1h.9v.9h-.9zM91.0 280.1h.9v.9h-.9zM97.0 280.0h.9v.9h-.9zM99.1 280.1h.9v.9h-.9zM99.9 279.9h.9v.9h-.9zM102.0 280.0h.9v.9h-.9zM27.0 281.0h.9v.9h-.9zM29.1 280.9h.9v.9h-.9zM34.1 281.0h.9v.9h-.9zM38.0 280.9h.9v.9h-.9zM42.9 280.9h.9v.9h-.9zM72.1 281.0h.9v.9h-.9zM75.9 281.1h.9v.9h-.9zM88.1 281.1h.9v.9h-.9zM93.0 281.0h.9v.9h-.9zM95.9 281.1h.9v.9h-.9zM98.1 280.9h.9v.9h-.9zM100.9 281.0h.9v.9h-.9zM102.0 281.1h.9v.9h-.9zM102.9 281.0h.9v.9h-.9zM104.0 281.0h.9v.9h-.9zM27.1 281.9h.9v.9h-.9zM32.9 281.9h.9v.9h-.9zM34.1 282.0h.9v.9h-.9zM35.1 282.1h.9v.9h-.9zM35.9 281.9h.9v.9h-.9zM41.1 282.1h.9v.9h-.9zM42.0 282.1h.9v.9h-.9zM49.0 281.9h.9v.9h-.9zM56.0 282.0h.9v.9h-.9zM77.1 281.9h.9v.9h-.9zM81.0 282.1h.9v.9h-.9zM82.1 282.1h.9v.9h-.9zM84.9 282.1h.9v.9h-.9zM86.0 282.0h.9v.9h-.9zM91.9 281.9h.9v.9h-.9zM94.9 281.9h.9v.9h-.9zM95.9 282.0h.9v.9h-.9zM98.1 282.1h.9v.9h-.9zM102.1 281.9h.9v.9h-.9zM105.1 282.0h.9v.9h-.9zM30.0 283.1h.9v.9h-.9zM32.0 283.1h.9v.9h-.9zM32.9 283.1h.9v.9h-.9zM34.9 283.1h.9v.9h-.9zM42.0 282.9h.9v.9h-.9zM43.9 283.0h.9v.9h-.9zM53.9 282.9h.9v.9h-.9zM75.0 283.1h.9v.9h-.9zM87.9 283.1h.9v.9h-.9zM89.1 283.0h.9v.9h-.9zM91.0 283.0h.9v.9h-.9zM92.0 283.0h.9v.9h-.9zM92.9 283.0h.9v.9h-.9zM94.1 283.0h.9v.9h-.9zM96.1 282.9h.9v.9h-.9zM98.1 283.1h.9v.9h-.9zM99.1 282.9h.9v.9h-.9zM101.1 283.1h.9v.9h-.9zM103.0 283.1h.9v.9h-.9zM104.1 283.1h.9v.9h-.9zM104.9 283.1h.9v.9h-.9zM28.1 284.1h.9v.9h-.9zM30.9 284.1h.9v.9h-.9zM32.1 284.0h.9v.9h-.9zM35.1 283.9h.9v.9h-.9zM37.1 284.1h.9v.9h-.9zM38.1 284.1h.9v.9h-.9zM45.1 284.0h.9v.9h-.9zM47.0 283.9h.9v.9h-.9zM55.0 284.1h.9v.9h-.9zM69.1 284.1h.9v.9h-.9zM74.9 283.9h.9v.9h-.9zM76.0 283.9h.9v.9h-.9zM77.9 284.1h.9v.9h-.9zM80.1 284.0h.9v.9h-.9zM85.1 283.9h.9v.9h-.9zM88.0 284.0h.9v.9h-.9zM90.0 284.1h.9v.9h-.9zM91.1 284.1h.9v.9h-.9zM91.9 284.0h.9v.9h-.9zM93.0 283.9h.9v.9h-.9zM97.9 284.0h.9v.9h-.9zM100.0 284.0h.9v.9h-.9zM105.0 284.1h.9v.9h-.9zM26.9 285.0h.9v.9h-.9zM28.0 285.1h.9v.9h-.9zM29.0 285.1h.9v.9h-.9zM30.1 285.0h.9v.9h-.9zM32.9 285.1h.9v.9h-.9zM36.1 285.0h.9v.9h-.9zM38.0 285.1h.9v.9h-.9zM40.9 284.9h.9v.9h-.9zM47.1 284.9h.9v.9h-.9zM49.0 285.1h.9v.9h-.9zM51.1 285.1h.9v.9h-.9zM67.0 285.0h.9v.9h-.9zM71.1 285.1h.9v.9h-.9zM72.9 285.1h.9v.9h-.9zM74.0 285.0h.9v.9h-.9zM78.1 284.9h.9v.9h-.9zM82.1 285.0h.9v.9h-.9zM84.0 285.0h.9v.9h-.9zM84.9 284.9h.9v.9h-.9zM86.0 285.0h.9v.9h-.9zM86.9 284.9h.9v.9h-.9zM90.0 285.1h.9v.9h-.9zM96.1 284.9h.9v.9h-.9zM100.0 285.1h.9v.9h-.9zM104.0 284.9h.9v.9h-.9zM105.0 285.0h.9v.9h-.9zM30.1 286.0h.9v.9h-.9zM31.1 285.9h.9v.9h-.9zM33.0 286.1h.9v.9h-.9zM34.1 285.9h.9v.9h-.9zM35.1 286.1h.9v.9h-.9zM38.0 286.0h.9v.9h-.9zM39.0 286.1h.9v.9h-.9zM42.0 286.0h.9v.9h-.9zM44.9 285.9h.9v.9h-.9zM46.9 285.9h.9v.9h-.9zM51.1 286.1h.9v.9h-.9zM52.1 286.1h.9v.9h-.9zM55.0 286.0h.9v.9h-.9zM58.0 286.1h.9v.9h-.9zM67.9 286.0h.9v.9h-.9zM69.1 286.0h.9v.9h-.9zM73.1 286.0h.9v.9h-.9zM74.9 286.0h.9v.9h-.9zM80.0 285.9h.9v.9h-.9zM81.0 285.9h.9v.9h-.9zM83.1 286.1h.9v.9h-.9zM84.0 286.1h.9v.9h-.9zM86.9 286.0h.9v.9h-.9zM87.9 285.9h.9v.9h-.9zM88.9 286.1h.9v.9h-.9zM90.1 285.9h.9v.9h-.9zM91.1 286.0h.9v.9h-.9zM92.0 286.0h.9v.9h-.9zM92.9 286.1h.9v.9h-.9zM94.0 286.0h.9v.9h-.9zM97.9 286.1h.9v.9h-.9zM99.1 286.0h.9v.9h-.9zM100.9 285.9h.9v.9h-.9zM101.9 286.0h.9v.9h-.9zM103.0 286.1h.9v.9h-.9zM32.0 286.9h.9v.9h-.9zM37.1 287.0h.9v.9h-.9zM39.0 287.1h.9v.9h-.9zM46.1 286.9h.9v.9h-.9zM49.9 287.0h.9v.9h-.9zM72.1 286.9h.9v.9h-.9zM78.1 287.0h.9v.9h-.9zM80.0 287.0h.9v.9h-.9zM83.0 287.1h.9v.9h-.9zM86.0 287.1h.9v.9h-.9zM86.9 286.9h.9v.9h-.9zM90.1 287.0h.9v.9h-.9zM91.9 286.9h.9v.9h-.9zM96.1 286.9h.9v.9h-.9zM96.9 287.1h.9v.9h-.9zM100.0 286.9h.9v.9h-.9zM102.1 287.1h.9v.9h-.9zM103.0 286.9h.9v.9h-.9zM105.1 287.0h.9v.9h-.9zM29.1 288.1h.9v.9h-.9zM31.9 287.9h.9v.9h-.9zM34.9 288.0h.9v.9h-.9zM38.1 287.9h.9v.9h-.9zM39.1 288.0h.9v.9h-.9zM39.9 287.9h.9v.9h-.9zM47.0 288.0h.9v.9h-.9zM50.1 287.9h.9v.9h-.9zM50.9 287.9h.9v.9h-.9zM60.0 288.1h.9v.9h-.9zM74.1 287.9h.9v.9h-.9zM74.9 288.0h.9v.9h-.9zM84.1 287.9h.9v.9h-.9zM87.1 287.9h.9v.9h-.9zM89.0 287.9h.9v.9h-.9zM91.1 288.1h.9v.9h-.9zM91.9 288.1h.9v.9h-.9zM93.1 288.1h.9v.9h-.9zM94.1 288.0h.9v.9h-.9zM95.9 288.0h.9v.9h-.9zM99.0 287.9h.9v.9h-.9zM100.9 288.0h.9v.9h-.9zM102.9 287.9h.9v.9h-.9zM26.9 289.0h.9v.9h-.9zM30.0 288.9h.9v.9h-.9zM31.1 288.9h.9v.9h-.9zM34.9 289.1h.9v.9h-.9zM35.9 288.9h.9v.9h-.9zM38.9 288.9h.9v.9h-.9zM41.1 288.9h.9v.9h-.9zM42.0 289.0h.9v.9h-.9zM43.0 289.1h.9v.9h-.9zM45.1 288.9h.9v.9h-.9zM45.9 289.0h.9v.9h-.9zM48.9 288.9h.9v.9h-.9zM52.0 289.1h.9v.9h-.9zM68.9 289.1h.9v.9h-.9zM82.0 288.9h.9v.9h-.9zM85.0 289.0h.9v.9h-.9zM90.9 289.1h.9v.9h-.9zM97.0 289.0h.9v.9h-.9zM97.9 289.0h.9v.9h-.9zM99.0 289.0h.9v.9h-.9zM104.9 289.0h.9v.9h-.9zM29.0 290.0h.9v.9h-.9zM31.1 290.1h.9v.9h-.9zM32.0 289.9h.9v.9h-.9zM33.1 290.1h.9v.9h-.9zM35.9 289.9h.9v.9h-.9zM39.9 290.0h.9v.9h-.9zM41.0 290.1h.9v.9h-.9zM42.0 290.0h.9v.9h-.9zM42.9 289.9h.9v.9h-.9zM47.0 290.0h.9v.9h-.9zM51.1 290.1h.9v.9h-.9zM61.1 289.9h.9v.9h-.9zM64.0 290.0h.9v.9h-.9zM66.1 289.9h.9v.9h-.9zM72.1 289.9h.9v.9h-.9zM72.9 289.9h.9v.9h-.9zM76.1 290.1h.9v.9h-.9zM77.1 290.0h.9v.9h-.9zM79.9 290.1h.9v.9h-.9zM81.1 290.0h.9v.9h-.9zM82.0 290.1h.9v.9h-.9zM83.1 290.1h.9v.9h-.9zM87.9 290.0h.9v.9h-.9zM88.9 290.1h.9v.9h-.9zM92.0 290.1h.9v.9h-.9zM94.0 290.0h.9v.9h-.9zM97.0 290.1h.9v.9h-.9zM99.1 289.9h.9v.9h-.9zM103.0 290.0h.9v.9h-.9zM105.0 290.0h.9v.9h-.9zM26.9 291.0h.9v.9h-.9zM31.9 290.9h.9v.9h-.9zM32.9 290.9h.9v.9h-.9zM35.0 291.0h.9v.9h-.9zM40.1 291.1h.9v.9h-.9zM44.0 291.0h.9v.9h-.9zM45.9 290.9h.9v.9h-.9zM47.0 291.0h.9v.9h-.9zM53.1 290.9h.9v.9h-.9zM58.1 291.1h.9v.9h-.9zM63.1 291.1h.9v.9h-.9zM67.1 291.0h.9v.9h-.9zM67.9 290.9h.9v.9h-.9zM73.0 290.9h.9v.9h-.9zM77.9 291.1h.9v.9h-.9zM79.9 290.9h.9v.9h-.9zM90.0 291.1h.9v.9h-.9zM92.0 291.0h.9v.9h-.9zM93.1 291.0h.9v.9h-.9zM94.0 291.0h.9v.9h-.9zM97.1 290.9h.9v.9h-.9zM101.1 290.9h.9v.9h-.9zM104.1 290.9h.9v.9h-.9zM104.9 290.9h.9v.9h-.9zM26.9 291.9h.9v.9h-.9zM31.0 291.9h.9v.9h-.9zM34.1 291.9h.9v.9h-.9zM35.0 291.9h.9v.9h-.9zM37.0 292.1h.9v.9h-.9zM38.1 292.0h.9v.9h-.9zM42.1 292.0h.9v.9h-.9zM44.0 291.9h.9v.9h-.9zM47.0 291.9h.9v.9h-.9zM48.9 292.1h.9v.9h-.9zM58.0 292.1h.9v.9h-.9zM63.9 292.0h.9v.9h-.9zM66.1 292.0h.9v.9h-.9zM68.0 292.1h.9v.9h-.9zM70.1 292.1h.9v.9h-.9zM72.0 292.1h.9v.9h-.9zM77.0 292.1h.9v.9h-.9zM81.9 291.9h.9v.9h-.9zM83.0 292.0h.9v.9h-.9zM84.0 291.9h.9v.9h-.9zM85.1 292.0h.9v.9h-.9zM85.9 292.0h.9v.9h-.9zM87.0 292.0h.9v.9h-.9zM87.9 292.1h.9v.9h-.9zM91.9 291.9h.9v.9h-.9zM93.1 292.1h.9v.9h-.9zM94.0 292.0h.9v.9h-.9zM96.1 292.1h.9v.9h-.9zM96.9 291.9h.9v.9h-.9zM99.0 292.1h.9v.9h-.9zM101.9 292.0h.9v.9h-.9zM103.0 292.0h.9v.9h-.9zM103.9 292.1h.9v.9h-.9zM28.0 293.1h.9v.9h-.9zM28.9 293.0h.9v.9h-.9zM30.1 293.0h.9v.9h-.9zM32.9 292.9h.9v.9h-.9zM39.1 293.1h.9v.9h-.9zM39.9 293.1h.9v.9h-.9zM40.9 292.9h.9v.9h-.9zM44.0 293.0h.9v.9h-.9zM48.0 292.9h.9v.9h-.9zM49.0 293.1h.9v.9h-.9zM49.9 293.1h.9v.9h-.9zM54.1 293.1h.9v.9h-.9zM62.0 293.1h.9v.9h-.9zM63.0 293.0h.9v.9h-.9zM73.9 293.1h.9v.9h-.9zM78.0 293.0h.9v.9h-.9zM82.0 293.0h.9v.9h-.9zM83.0 293.1h.9v.9h-.9zM85.1 292.9h.9v.9h-.9zM86.0 293.1h.9v.9h-.9zM89.1 293.1h.9v.9h-.9zM89.9 293.0h.9v.9h-.9zM92.1 293.0h.9v.9h-.9zM98.1 293.0h.9v.9h-.9zM102.1 293.1h.9v.9h-.9zM102.9 293.0h.9v.9h-.9zM104.1 293.0h.9v.9h-.9zM104.9 293.1h.9v.9h-.9zM28.9 294.1h.9v.9h-.9zM32.1 293.9h.9v.9h-.9zM33.9 294.1h.9v.9h-.9zM35.1 294.0h.9v.9h-.9zM38.1 294.0h.9v.9h-.9zM42.9 294.0h.9v.9h-.9zM44.0 294.0h.9v.9h-.9zM45.1 293.9h.9v.9h-.9zM46.0 294.1h.9v.9h-.9zM54.0 293.9h.9v.9h-.9zM58.9 294.1h.9v.9h-.9zM60.0 294.1h.9v.9h-.9zM62.0 294.0h.9v.9h-.9zM75.0 294.1h.9v.9h-.9zM76.0 294.0h.9v.9h-.9zM78.1 294.0h.9v.9h-.9zM78.9 293.9h.9v.9h-.9zM80.9 294.0h.9v.9h-.9zM84.0 294.0h.9v.9h-.9zM88.9 294.0h.9v.9h-.9zM91.1 293.9h.9v.9h-.9zM92.1 294.1h.9v.9h-.9zM94.1 294.0h.9v.9h-.9zM95.0 294.1h.9v.9h-.9zM98.1 294.1h.9v.9h-.9zM99.9 293.9h.9v.9h-.9zM101.1 294.1h.9v.9h-.9zM102.1 294.0h.9v.9h-.9zM102.9 294.1h.9v.9h-.9zM105.0 294.0h.9v.9h-.9zM28.1 294.9h.9v.9h-.9zM31.0 295.0h.9v.9h-.9zM34.0 294.9h.9v.9h-.9zM43.0 294.9h.9v.9h-.9zM44.9 295.0h.9v.9h-.9zM48.1 295.0h.9v.9h-.9zM54.9 294.9h.9v.9h-.9zM55.9 295.1h.9v.9h-.9zM69.1 294.9h.9v.9h-.9zM69.9 294.9h.9v.9h-.9zM72.0 295.0h.9v.9h-.9zM73.9 294.9h.9v.9h-.9zM75.1 295.0h.9v.9h-.9zM77.1 295.1h.9v.9h-.9zM80.1 295.0h.9v.9h-.9zM87.1 294.9h.9v.9h-.9zM87.9 294.9h.9v.9h-.9zM89.1 294.9h.9v.9h-.9zM90.9 295.0h.9v.9h-.9zM92.1 294.9h.9v.9h-.9zM93.0 294.9h.9v.9h-.9zM94.1 294.9h.9v.9h-.9zM95.9 295.0h.9v.9h-.9zM99.1 294.9h.9v.9h-.9zM100.0 295.1h.9v.9h-.9zM100.9 295.0h.9v.9h-.9zM28.0 296.0h.9v.9h-.9zM31.0 295.9h.9v.9h-.9zM45.0 295.9h.9v.9h-.9zM46.1 295.9h.9v.9h-.9zM47.9 295.9h.9v.9h-.9zM54.9 296.0h.9v.9h-.9zM58.1 295.9h.9v.9h-.9zM65.0 295.9h.9v.9h-.9zM67.0 296.1h.9v.9h-.9zM69.1 296.1h.9v.9h-.9zM69.9 295.9h.9v.9h-.9zM72.1 296.0h.9v.9h-.9zM73.9 295.9h.9v.9h-.9zM76.1 295.9h.9v.9h-.9zM79.1 296.0h.9v.9h-.9zM85.0 296.0h.9v.9h-.9zM86.1 295.9h.9v.9h-.9zM89.0 296.1h.9v.9h-.9zM90.1 296.0h.9v.9h-.9zM93.9 296.0h.9v.9h-.9zM95.9 295.9h.9v.9h-.9zM97.9 296.1h.9v.9h-.9zM101.0 296.1h.9v.9h-.9zM29.9 296.9h.9v.9h-.9zM43.9 296.9h.9v.9h-.9zM44.9 297.1h.9v.9h-.9zM45.9 296.9h.9v.9h-.9zM63.1 297.1h.9v.9h-.9zM65.9 297.1h.9v.9h-.9zM74.1 297.0h.9v.9h-.9zM76.0 297.0h.9v.9h-.9zM77.1 296.9h.9v.9h-.9zM78.0 297.0h.9v.9h-.9zM79.1 296.9h.9v.9h-.9zM83.1 296.9h.9v.9h-.9zM84.9 296.9h.9v.9h-.9zM89.0 297.1h.9v.9h-.9zM93.0 297.0h.9v.9h-.9zM95.1 297.0h.9v.9h-.9zM96.0 296.9h.9v.9h-.9zM98.1 297.0h.9v.9h-.9zM27.0 298.1h.9v.9h-.9zM29.1 298.0h.9v.9h-.9zM29.9 298.1h.9v.9h-.9zM41.9 298.0h.9v.9h-.9zM51.1 298.1h.9v.9h-.9zM55.0 298.0h.9v.9h-.9zM63.1 298.1h.9v.9h-.9zM66.1 298.0h.9v.9h-.9zM68.0 298.1h.9v.9h-.9zM70.9 298.0h.9v.9h-.9zM73.1 298.1h.9v.9h-.9zM74.0 298.0h.9v.9h-.9zM75.1 298.0h.9v.9h-.9zM75.9 298.1h.9v.9h-.9zM82.0 298.0h.9v.9h-.9zM85.0 298.1h.9v.9h-.9zM85.9 298.1h.9v.9h-.9zM92.0 297.9h.9v.9h-.9zM93.1 298.0h.9v.9h-.9zM93.9 297.9h.9v.9h-.9zM94.9 298.1h.9v.9h-.9zM96.1 298.1h.9v.9h-.9zM98.0 298.1h.9v.9h-.9zM98.9 298.0h.9v.9h-.9zM100.0 298.0h.9v.9h-.9zM27.9 299.0h.9v.9h-.9zM39.1 299.0h.9v.9h-.9zM47.0 299.1h.9v.9h-.9zM56.0 299.0h.9v.9h-.9zM57.1 299.1h.9v.9h-.9zM57.9 299.0h.9v.9h-.9zM61.1 299.1h.9v.9h-.9zM65.9 298.9h.9v.9h-.9zM71.0 299.1h.9v.9h-.9zM72.0 299.1h.9v.9h-.9zM82.0 299.0h.9v.9h-.9zM85.9 298.9h.9v.9h-.9zM86.9 299.1h.9v.9h-.9zM89.1 299.0h.9v.9h-.9zM95.0 299.1h.9v.9h-.9zM96.1 299.1h.9v.9h-.9zM97.9 299.1h.9v.9h-.9zM28.0 300.0h.9v.9h-.9zM43.9 300.0h.9v.9h-.9zM46.0 300.0h.9v.9h-.9zM48.0 299.9h.9v.9h-.9zM50.9 300.0h.9v.9h-.9zM61.1 300.1h.9v.9h-.9zM68.1 300.0h.9v.9h-.9zM71.0 300.0h.9v.9h-.9zM80.9 299.9h.9v.9h-.9zM83.1 300.0h.9v.9h-.9zM87.1 299.9h.9v.9h-.9zM88.1 299.9h.9v.9h-.9zM91.0 299.9h.9v.9h-.9zM97.1 300.1h.9v.9h-.9zM101.0 299.9h.9v.9h-.9zM34.9 300.9h.9v.9h-.9zM46.9 300.9h.9v.9h-.9zM48.1 301.0h.9v.9h-.9zM54.9 301.0h.9v.9h-.9zM55.9 301.0h.9v.9h-.9zM63.0 301.1h.9v.9h-.9zM64.0 301.0h.9v.9h-.9zM66.1 301.1h.9v.9h-.9zM67.9 301.0h.9v.9h-.9zM69.0 301.1h.9v.9h-.9zM71.1 301.1h.9v.9h-.9zM76.0 301.1h.9v.9h-.9zM81.1 301.1h.9v.9h-.9zM84.9 301.0h.9v.9h-.9zM88.9 300.9h.9v.9h-.9zM89.9 301.0h.9v.9h-.9zM91.0 300.9h.9v.9h-.9zM94.1 301.0h.9v.9h-.9zM26.9 301.9h.9v.9h-.9zM34.1 301.9h.9v.9h-.9zM46.1 302.0h.9v.9h-.9zM49.0 302.0h.9v.9h-.9zM49.9 302.0h.9v.9h-.9zM53.1 302.1h.9v.9h-.9zM54.9 302.0h.9v.9h-.9zM57.1 301.9h.9v.9h-.9zM63.9 301.9h.9v.9h-.9zM65.9 302.0h.9v.9h-.9zM67.0 302.1h.9v.9h-.9zM68.1 302.0h.9v.9h-.9zM69.1 302.1h.9v.9h-.9zM70.1 301.9h.9v.9h-.9zM70.9 302.0h.9v.9h-.9zM72.0 302.0h.9v.9h-.9zM73.0 301.9h.9v.9h-.9zM77.9 302.0h.9v.9h-.9zM80.1 302.0h.9v.9h-.9zM84.1 302.0h.9v.9h-.9zM89.9 302.1h.9v.9h-.9zM92.1 301.9h.9v.9h-.9zM93.9 302.1h.9v.9h-.9zM99.0 302.1h.9v.9h-.9zM28.9 302.9h.9v.9h-.9zM42.9 302.9h.9v.9h-.9zM44.0 303.1h.9v.9h-.9zM44.9 303.0h.9v.9h-.9zM46.1 303.0h.9v.9h-.9zM51.9 302.9h.9v.9h-.9zM55.9 302.9h.9v.9h-.9zM58.0 303.1h.9v.9h-.9zM61.1 303.0h.9v.9h-.9zM62.9 303.1h.9v.9h-.9zM65.1 303.1h.9v.9h-.9zM66.1 302.9h.9v.9h-.9zM69.0 302.9h.9v.9h-.9zM70.0 302.9h.9v.9h-.9zM73.1 302.9h.9v.9h-.9zM77.0 302.9h.9v.9h-.9zM84.1 303.1h.9v.9h-.9zM88.1 303.1h.9v.9h-.9zM89.0 303.0h.9v.9h-.9zM92.1 303.1h.9v.9h-.9zM93.0 303.0h.9v.9h-.9zM103.0 303.1h.9v.9h-.9zM27.0 304.1h.9v.9h-.9zM28.9 304.0h.9v.9h-.9zM33.1 303.9h.9v.9h-.9zM47.1 304.1h.9v.9h-.9zM47.9 303.9h.9v.9h-.9zM53.9 304.0h.9v.9h-.9zM62.9 303.9h.9v.9h-.9zM67.1 303.9h.9v.9h-.9zM74.0 304.1h.9v.9h-.9zM79.9 303.9h.9v.9h-.9zM80.9 304.0h.9v.9h-.9zM82.1 303.9h.9v.9h-.9zM87.9 304.0h.9v.9h-.9zM91.0 304.0h.9v.9h-.9zM92.1 304.0h.9v.9h-.9zM30.0 305.0h.9v.9h-.9zM45.1 304.9h.9v.9h-.9zM56.0 305.0h.9v.9h-.9zM57.1 305.0h.9v.9h-.9zM60.9 304.9h.9v.9h-.9zM66.0 304.9h.9v.9h-.9zM68.1 304.9h.9v.9h-.9zM73.9 305.1h.9v.9h-.9zM76.9 305.0h.9v.9h-.9zM87.0 305.0h.9v.9h-.9zM88.9 305.0h.9v.9h-.9zM90.9 305.0h.9v.9h-.9zM46.0 306.0h.9v.9h-.9zM47.1 306.0h.9v.9h-.9zM48.0 305.9h.9v.9h-.9zM48.9 306.1h.9v.9h-.9zM49.9 306.0h.9v.9h-.9zM53.0 305.9h.9v.9h-.9zM61.0 306.1h.9v.9h-.9zM61.9 306.0h.9v.9h-.9zM66.1 305.9h.9v.9h-.9zM67.0 305.9h.9v.9h-.9zM84.1 305.9h.9v.9h-.9zM87.9 305.9h.9v.9h-.9zM89.0 305.9h.9v.9h-.9zM89.9 306.1h.9v.9h-.9zM92.1 305.9h.9v.9h-.9zM26.9 306.9h.9v.9h-.9zM28.1 307.1h.9v.9h-.9zM44.9 306.9h.9v.9h-.9zM58.9 307.0h.9v.9h-.9zM60.0 307.1h.9v.9h-.9zM61.1 306.9h.9v.9h-.9zM62.9 307.0h.9v.9h-.9zM67.1 306.9h.9v.9h-.9zM87.1 306.9h.9v.9h-.9zM88.1 307.0h.9v.9h-.9zM29.1 308.0h.9v.9h-.9zM55.9 307.9h.9v.9h-.9zM59.1 308.0h.9v.9h-.9zM62.9 308.1h.9v.9h-.9zM82.9 307.9h.9v.9h-.9zM90.0 307.9h.9v.9h-.9zM44.1 309.1h.9v.9h-.9zM49.1 309.1h.9v.9h-.9zM55.0 309.1h.9v.9h-.9zM55.9 308.9h.9v.9h-.9zM62.0 308.9h.9v.9h-.9zM77.9 309.1h.9v.9h-.9zM81.1 309.1h.9v.9h-.9zM82.9 309.0h.9v.9h-.9zM88.1 309.0h.9v.9h-.9zM97.1 309.1h.9v.9h-.9zM47.9 309.9h.9v.9h-.9zM49.1 310.0h.9v.9h-.9zM52.9 309.9h.9v.9h-.9zM57.1 310.0h.9v.9h-.9zM58.0 310.1h.9v.9h-.9zM59.1 310.1h.9v.9h-.9zM62.9 310.0h.9v.9h-.9zM84.1 310.1h.9v.9h-.9zM94.0 310.1h.9v.9h-.9zM43.1 310.9h.9v.9h-.9zM45.1 311.1h.9v.9h-.9zM46.9 311.0h.9v.9h-.9zM49.0 310.9h.9v.9h-.9zM52.1 311.0h.9v.9h-.9zM54.9 311.0h.9v.9h-.9zM56.0 311.1h.9v.9h-.9zM59.1 311.0h.9v.9h-.9zM79.0 311.0h.9v.9h-.9zM81.1 310.9h.9v.9h-.9zM82.1 311.0h.9v.9h-.9zM83.1 311.1h.9v.9h-.9zM103.1 311.1h.9v.9h-.9zM27.9 312.1h.9v.9h-.9zM45.9 312.0h.9v.9h-.9zM47.0 311.9h.9v.9h-.9zM49.0 311.9h.9v.9h-.9zM52.9 312.0h.9v.9h-.9zM53.9 312.1h.9v.9h-.9zM58.9 312.0h.9v.9h-.9zM45.0 313.1h.9v.9h-.9zM52.1 313.0h.9v.9h-.9zM55.1 313.0h.9v.9h-.9zM56.0 313.1h.9v.9h-.9zM57.1 313.1h.9v.9h-.9zM57.9 312.9h.9v.9h-.9zM83.9 313.0h.9v.9h-.9zM45.1 314.0h.9v.9h-.9zM49.0 314.1h.9v.9h-.9zM50.9 314.0h.9v.9h-.9zM74.0 314.0h.9v.9h-.9zM77.0 313.9h.9v.9h-.9zM27.0 314.9h.9v.9h-.9zM45.0 314.9h.9v.9h-.9zM46.1 314.9h.9v.9h-.9zM47.9 315.0h.9v.9h-.9zM49.0 315.0h.9v.9h-.9zM54.0 314.9h.9v.9h-.9zM55.0 315.0h.9v.9h-.9zM86.1 314.9h.9v.9h-.9zM89.9 314.9h.9v.9h-.9zM45.1 316.0h.9v.9h-.9zM46.0 315.9h.9v.9h-.9zM47.9 316.1h.9v.9h-.9zM49.9 316.0h.9v.9h-.9zM53.1 316.0h.9v.9h-.9zM74.1 316.0h.9v.9h-.9zM27.0 317.1h.9v.9h-.9zM45.0 316.9h.9v.9h-.9zM48.1 317.0h.9v.9h-.9zM50.9 317.0h.9v.9h-.9zM52.0 316.9h.9v.9h-.9zM72.1 316.9h.9v.9h-.9zM79.0 317.1h.9v.9h-.9zM86.0 316.9h.9v.9h-.9zM27.1 318.1h.9v.9h-.9zM45.1 318.0h.9v.9h-.9zM48.0 318.0h.9v.9h-.9zM50.0 318.0h.9v.9h-.9zM73.0 317.9h.9v.9h-.9zM77.0 318.1h.9v.9h-.9zM94.1 317.9h.9v.9h-.9zM43.9 319.0h.9v.9h-.9zM50.0 318.9h.9v.9h-.9zM71.9 319.0h.9v.9h-.9zM86.1 319.1h.9v.9h-.9zM46.9 320.1h.9v.9h-.9zM50.1 320.1h.9v.9h-.9zM69.1 319.9h.9v.9h-.9zM72.9 319.9h.9v.9h-.9zM77.9 320.0h.9v.9h-.9zM44.0 321.0h.9v.9h-.9zM48.1 321.0h.9v.9h-.9zM50.0 321.1h.9v.9h-.9zM51.1 321.0h.9v.9h-.9zM68.1 321.0h.9v.9h-.9zM92.1 321.1h.9v.9h-.9zM44.1 322.1h.9v.9h-.9zM48.0 322.1h.9v.9h-.9zM49.0 322.1h.9v.9h-.9zM52.9 322.1h.9v.9h-.9zM26.9 322.9h.9v.9h-.9zM47.0 323.1h.9v.9h-.9zM48.9 323.0h.9v.9h-.9zM50.1 323.0h.9v.9h-.9zM96.1 322.9h.9v.9h-.9zM41.9 323.9h.9v.9h-.9zM44.0 324.0h.9v.9h-.9zM48.9 323.9h.9v.9h-.9zM52.1 323.9h.9v.9h-.9zM52.9 323.9h.9v.9h-.9zM45.1 325.1h.9v.9h-.9zM47.1 325.1h.9v.9h-.9zM48.0 324.9h.9v.9h-.9zM48.9 325.1h.9v.9h-.9zM50.1 325.0h.9v.9h-.9zM51.1 324.9h.9v.9h-.9zM41.9 326.0h.9v.9h-.9zM43.0 326.1h.9v.9h-.9zM46.0 325.9h.9v.9h-.9zM47.9 325.9h.9v.9h-.9zM63.0 326.1h.9v.9h-.9zM40.0 327.0h.9v.9h-.9zM43.9 326.9h.9v.9h-.9zM47.0 327.1h.9v.9h-.9zM49.1 327.1h.9v.9h-.9zM70.1 327.1h.9v.9h-.9zM42.9 328.0h.9v.9h-.9zM45.1 328.1h.9v.9h-.9zM45.9 328.0h.9v.9h-.9zM62.1 328.0h.9v.9h-.9zM41.9 328.9h.9v.9h-.9zM43.1 328.9h.9v.9h-.9zM44.9 329.0h.9v.9h-.9zM45.9 328.9h.9v.9h-.9zM47.9 328.9h.9v.9h-.9zM60.9 328.9h.9v.9h-.9zM44.1 330.1h.9v.9h-.9zM46.9 329.9h.9v.9h-.9zM59.9 330.0h.9v.9h-.9zM36.9 330.9h.9v.9h-.9zM41.9 330.9h.9v.9h-.9zM43.9 331.1h.9v.9h-.9zM45.1 331.1h.9v.9h-.9zM61.1 331.1h.9v.9h-.9zM62.1 330.9h.9v.9h-.9zM81.0 330.9h.9v.9h-.9zM101.9 331.1h.9v.9h-.9zM42.1 332.0h.9v.9h-.9zM43.0 332.1h.9v.9h-.9zM102.9 331.9h.9v.9h-.9zM41.1 333.1h.9v.9h-.9zM43.0 333.0h.9v.9h-.9zM44.0 333.1h.9v.9h-.9zM45.1 332.9h.9v.9h-.9zM58.1 333.0h.9v.9h-.9zM59.0 333.0h.9v.9h-.9zM59.9 333.0h.9v.9h-.9zM26.9 334.1h.9v.9h-.9zM55.0 334.0h.9v.9h-.9zM57.1 333.9h.9v.9h-.9zM58.9 334.1h.9v.9h-.9zM35.1 334.9h.9v.9h-.9zM36.9 335.0h.9v.9h-.9zM38.1 335.1h.9v.9h-.9zM45.9 334.9h.9v.9h-.9zM57.0 334.9h.9v.9h-.9zM59.1 334.9h.9v.9h-.9zM36.9 335.9h.9v.9h-.9zM38.9 335.9h.9v.9h-.9zM42.0 335.9h.9v.9h-.9zM47.0 335.9h.9v.9h-.9zM52.9 335.9h.9v.9h-.9zM55.1 335.9h.9v.9h-.9zM58.0 335.9h.9v.9h-.9zM77.9 336.1h.9v.9h-.9zM37.0 337.0h.9v.9h-.9zM42.1 337.0h.9v.9h-.9zM46.9 336.9h.9v.9h-.9zM48.1 337.0h.9v.9h-.9zM50.1 336.9h.9v.9h-.9zM51.1 337.0h.9v.9h-.9zM55.1 337.0h.9v.9h-.9zM67.1 337.0h.9v.9h-.9zM96.0 336.9h.9v.9h-.9zM38.1 338.0h.9v.9h-.9zM39.0 338.0h.9v.9h-.9zM40.1 338.1h.9v.9h-.9zM44.1 337.9h.9v.9h-.9zM45.1 338.0h.9v.9h-.9zM46.0 337.9h.9v.9h-.9zM46.9 337.9h.9v.9h-.9zM48.1 337.9h.9v.9h-.9zM48.9 338.1h.9v.9h-.9zM49.9 338.1h.9v.9h-.9zM51.0 338.0h.9v.9h-.9zM52.0 338.1h.9v.9h-.9zM39.0 339.1h.9v.9h-.9zM43.9 339.0h.9v.9h-.9zM47.0 339.1h.9v.9h-.9zM49.1 339.1h.9v.9h-.9zM51.1 339.1h.9v.9h-.9zM53.1 338.9h.9v.9h-.9zM54.9 338.9h.9v.9h-.9zM35.9 340.1h.9v.9h-.9zM39.1 340.0h.9v.9h-.9zM40.1 340.0h.9v.9h-.9zM44.1 340.1h.9v.9h-.9zM48.1 340.1h.9v.9h-.9zM50.0 339.9h.9v.9h-.9zM55.1 340.1h.9v.9h-.9zM57.1 339.9h.9v.9h-.9zM67.9 340.1h.9v.9h-.9zM90.0 340.1h.9v.9h-.9zM37.1 341.1h.9v.9h-.9zM40.0 341.1h.9v.9h-.9zM41.1 341.0h.9v.9h-.9zM42.1 341.1h.9v.9h-.9zM45.0 341.1h.9v.9h-.9zM50.0 341.0h.9v.9h-.9zM50.9 340.9h.9v.9h-.9zM60.9 341.1h.9v.9h-.9zM102.9 341.1h.9v.9h-.9zM37.1 342.0h.9v.9h-.9zM37.9 342.0h.9v.9h-.9zM39.0 341.9h.9v.9h-.9zM40.9 342.0h.9v.9h-.9zM54.1 341.9h.9v.9h-.9zM55.1 342.1h.9v.9h-.9zM27.9 343.0h.9v.9h-.9zM36.0 343.1h.9v.9h-.9zM39.0 343.0h.9v.9h-.9zM40.1 342.9h.9v.9h-.9zM47.9 343.1h.9v.9h-.9zM51.9 343.1h.9v.9h-.9zM28.1 344.0h.9v.9h-.9zM29.1 344.1h.9v.9h-.9zM33.9 344.1h.9v.9h-.9zM35.1 343.9h.9v.9h-.9zM36.1 343.9h.9v.9h-.9zM38.1 344.0h.9v.9h-.9zM47.9 344.1h.9v.9h-.9zM32.0 345.0h.9v.9h-.9zM34.1 345.0h.9v.9h-.9zM38.9 345.1h.9v.9h-.9zM44.1 344.9h.9v.9h-.9zM51.0 344.9h.9v.9h-.9zM60.0 345.1h.9v.9h-.9zM30.1 345.9h.9v.9h-.9zM30.9 345.9h.9v.9h-.9zM37.1 345.9h.9v.9h-.9zM39.1 346.1h.9v.9h-.9zM44.9 346.0h.9v.9h-.9zM49.0 346.1h.9v.9h-.9zM26.9 347.0h.9v.9h-.9zM32.1 347.1h.9v.9h-.9zM34.9 347.1h.9v.9h-.9zM36.9 347.1h.9v.9h-.9zM37.9 346.9h.9v.9h-.9zM42.1 346.9h.9v.9h-.9zM54.0 346.9h.9v.9h-.9zM82.1 347.0h.9v.9h-.9z" fill="#a4a4a4"/>
<path d="M34.1 269.0h.9v.9h-.9zM36.9 269.9h.9v.9h-.9zM94.1 270.1h.9v.9h-.9zM99.1 269.9h.9v.9h-.9zM33.9 271.0h.9v.9h-.9zM76.0 271.1h.9v.9h-.9zM79.1 271.0h.9v.9h-.9zM92.1 271.0h.9v.9h-.9zM104.1 271.0h.9v.9h-.9zM27.0 272.0h.9v.9h-.9zM27.9 272.1h.9v.9h-.9zM85.1 271.9h.9v.9h-.9zM88.9 272.1h.9v.9h-.9zM99.9 272.1h.9v.9h-.9zM38.9 273.1h.9v.9h-.9zM44.9 273.0h.9v.9h-.9zM82.1 273.1h.9v.9h-.9zM85.1 273.1h.9v.9h-.9zM98.1 272.9h.9v.9h-.9zM33.0 274.1h.9v.9h-.9zM38.0 274.0h.9v.9h-.9zM88.0 274.0h.9v.9h-.9zM92.0 274.0h.9v.9h-.9zM100.9 274.1h.9v.9h-.9zM29.9 274.9h.9v.9h-.9zM34.1 275.1h.9v.9h-.9zM47.9 275.0h.9v.9h-.9zM74.1 275.1h.9v.9h-.9zM87.0 275.0h.9v.9h-.9zM91.0 275.0h.9v.9h-.9zM93.0 275.1h.9v.9h-.9zM28.0 276.1h.9v.9h-.9zM85.0 275.9h.9v.9h-.9zM93.1 275.9h.9v.9h-.9zM29.1 276.9h.9v.9h-.9zM54.0 276.9h.9v.9h-.9zM87.1 277.1h.9v.9h-.9zM92.9 277.0h.9v.9h-.9zM37.0 278.1h.9v.9h-.9zM47.0 277.9h.9v.9h-.9zM91.9 278.0h.9v.9h-.9zM99.1 277.9h.9v.9h-.9zM36.9 279.0h.9v.9h-.9zM82.0 279.0h.9v.9h-.9zM85.1 279.1h.9v.9h-.9zM88.0 279.0h.9v.9h-.9zM99.1 278.9h.9v.9h-.9zM101.9 278.9h.9v.9h-.9zM40.1 280.0h.9v.9h-.9zM81.1 280.0h.9v.9h-.9zM92.9 280.1h.9v.9h-.9zM95.0 279.9h.9v.9h-.9zM34.9 281.0h.9v.9h-.9zM37.1 281.1h.9v.9h-.9zM39.9 281.1h.9v.9h-.9zM85.1 280.9h.9v.9h-.9zM30.1 282.0h.9v.9h-.9zM88.1 282.1h.9v.9h-.9zM91.1 282.0h.9v.9h-.9zM98.9 282.0h.9v.9h-.9zM101.1 281.9h.9v.9h-.9zM28.0 283.0h.9v.9h-.9zM41.1 283.0h.9v.9h-.9zM54.9 283.0h.9v.9h-.9zM72.9 283.0h.9v.9h-.9zM79.0 282.9h.9v.9h-.9zM82.1 283.1h.9v.9h-.9zM83.1 283.0h.9v.9h-.9zM90.0 283.0h.9v.9h-.9zM44.0 284.0h.9v.9h-.9zM46.0 284.1h.9v.9h-.9zM71.0 284.1h.9v.9h-.9zM79.0 284.0h.9v.9h-.9zM88.9 284.1h.9v.9h-.9zM95.0 283.9h.9v.9h-.9zM98.9 283.9h.9v.9h-.9zM102.9 284.1h.9v.9h-.9zM35.1 284.9h.9v.9h-.9zM38.9 285.1h.9v.9h-.9zM87.9 285.1h.9v.9h-.9zM94.0 285.1h.9v.9h-.9zM101.1 285.1h.9v.9h-.9zM103.0 285.0h.9v.9h-.9zM27.0 286.0h.9v.9h-.9zM43.1 286.1h.9v.9h-.9zM96.1 286.0h.9v.9h-.9zM97.1 286.0h.9v.9h-.9zM100.1 285.9h.9v.9h-.9zM104.0 285.9h.9v.9h-.9zM38.1 286.9h.9v.9h-.9zM89.1 286.9h.9v.9h-.9zM91.1 287.0h.9v.9h-.9zM93.1 286.9h.9v.9h-.9zM94.9 287.1h.9v.9h-.9zM33.1 288.0h.9v.9h-.9zM41.1 288.1h.9v.9h-.9zM56.0 288.1h.9v.9h-.9zM72.0 288.0h.9v.9h-.9zM77.1 288.1h.9v.9h-.9zM82.9 288.1h.9v.9h-.9zM28.0 288.9h.9v.9h-.9zM28.9 289.0h.9v.9h-.9zM33.1 289.0h.9v.9h-.9zM37.1 289.1h.9v.9h-.9zM38.1 289.0h.9v.9h-.9zM46.9 288.9h.9v.9h-.9zM70.1 289.0h.9v.9h-.9zM75.9 289.0h.9v.9h-.9zM80.0 289.1h.9v.9h-.9zM82.9 288.9h.9v.9h-.9zM86.1 289.1h.9v.9h-.9zM88.0 289.0h.9v.9h-.9zM92.9 288.9h.9v.9h-.9zM94.1 289.1h.9v.9h-.9zM95.9 289.1h.9v.9h-.9zM99.9 289.1h.9v.9h-.9zM100.9 289.1h.9v.9h-.9zM30.1 289.9h.9v.9h-.9zM37.1 289.9h.9v.9h-.9zM70.0 289.9h.9v.9h-.9zM75.1 290.0h.9v.9h-.9zM95.0 289.9h.9v.9h-.9zM98.0 290.0h.9v.9h-.9zM28.1 291.1h.9v.9h-.9zM30.1 290.9h.9v.9h-.9zM34.1 291.1h.9v.9h-.9zM36.9 290.9h.9v.9h-.9zM39.1 290.9h.9v.9h-.9zM41.1 291.0h.9v.9h-.9zM42.9 291.0h.9v.9h-.9zM44.9 290.9h.9v.9h-.9zM79.1 291.0h.9v.9h-.9zM81.9 291.1h.9v.9h-.9zM82.9 290.9h.9v.9h-.9zM84.1 291.1h.9v.9h-.9zM84.9 290.9h.9v.9h-.9zM87.1 291.1h.9v.9h-.9zM89.0 291.1h.9v.9h-.9zM91.0 291.0h.9v.9h-.9zM95.9 291.0h.9v.9h-.9zM97.9 291.1h.9v.9h-.9zM30.0 292.0h.9v.9h-.9zM31.9 292.0h.9v.9h-.9zM39.1 291.9h.9v.9h-.9zM53.0 292.1h.9v.9h-.9zM54.1 292.0h.9v.9h-.9zM79.9 291.9h.9v.9h-.9zM31.1 293.1h.9v.9h-.9zM32.0 293.0h.9v.9h-.9zM34.9 292.9h.9v.9h-.9zM36.0 293.1h.9v.9h-.9zM42.9 293.0h.9v.9h-.9zM44.9 292.9h.9v.9h-.9zM57.1 292.9h.9v.9h-.9zM58.0 292.9h.9v.9h-.9zM66.1 292.9h.9v.9h-.9zM71.1 292.9h.9v.9h-.9zM81.1 293.0h.9v.9h-.9zM84.0 292.9h.9v.9h-.9zM90.9 292.9h.9v.9h-.9zM96.1 293.1h.9v.9h-.9zM100.9 292.9h.9v.9h-.9zM28.0 294.1h.9v.9h-.9zM30.0 293.9h.9v.9h-.9zM33.0 294.0h.9v.9h-.9zM36.1 294.1h.9v.9h-.9zM37.1 293.9h.9v.9h-.9zM39.9 294.1h.9v.9h-.9zM41.0 294.0h.9v.9h-.9zM46.9 294.0h.9v.9h-.9zM67.9 293.9h.9v.9h-.9zM79.9 293.9h.9v.9h-.9zM85.1 293.9h.9v.9h-.9zM87.1 293.9h.9v.9h-.9zM88.1 294.1h.9v.9h-.9zM90.1 294.1h.9v.9h-.9zM98.9 294.1h.9v.9h-.9zM27.0 294.9h.9v.9h-.9zM29.0 294.9h.9v.9h-.9zM30.1 294.9h.9v.9h-.9zM31.9 294.9h.9v.9h-.9zM33.1 295.0h.9v.9h-.9zM35.9 294.9h.9v.9h-.9zM37.1 295.0h.9v.9h-.9zM38.0 295.0h.9v.9h-.9zM38.9 295.1h.9v.9h-.9zM40.0 295.0h.9v.9h-.9zM41.1 295.0h.9v.9h-.9zM65.9 295.0h.9v.9h-.9zM67.9 295.0h.9v.9h-.9zM76.1 295.0h.9v.9h-.9zM77.9 295.0h.9v.9h-.9zM78.9 295.1h.9v.9h-.9zM83.0 294.9h.9v.9h-.9zM83.9 295.0h.9v.9h-.9zM84.9 295.0h.9v.9h-.9zM89.9 295.1h.9v.9h-.9zM95.1 294.9h.9v.9h-.9zM97.1 295.1h.9v.9h-.9zM98.0 294.9h.9v.9h-.9zM101.9 295.1h.9v.9h-.9zM26.9 296.1h.9v.9h-.9zM32.1 296.0h.9v.9h-.9zM32.9 295.9h.9v.9h-.9zM34.0 296.0h.9v.9h-.9zM37.9 296.1h.9v.9h-.9zM38.9 296.0h.9v.9h-.9zM41.0 295.9h.9v.9h-.9zM42.0 296.1h.9v.9h-.9zM51.1 296.1h.9v.9h-.9zM54.1 296.0h.9v.9h-.9zM61.9 296.0h.9v.9h-.9zM74.9 296.0h.9v.9h-.9zM77.0 295.9h.9v.9h-.9zM78.1 296.1h.9v.9h-.9zM79.9 295.9h.9v.9h-.9zM80.9 295.9h.9v.9h-.9zM82.0 296.0h.9v.9h-.9zM82.9 296.0h.9v.9h-.9zM83.9 296.1h.9v.9h-.9zM87.1 295.9h.9v.9h-.9zM93.0 296.0h.9v.9h-.9zM99.1 296.0h.9v.9h-.9zM100.0 296.0h.9v.9h-.9zM27.0 296.9h.9v.9h-.9zM27.9 296.9h.9v.9h-.9zM28.9 297.0h.9v.9h-.9zM30.9 296.9h.9v.9h-.9zM32.9 297.0h.9v.9h-.9zM34.1 297.1h.9v.9h-.9zM36.1 297.1h.9v.9h-.9zM39.9 297.1h.9v.9h-.9zM41.0 297.1h.9v.9h-.9zM42.1 297.0h.9v.9h-.9zM43.0 297.1h.9v.9h-.9zM48.0 297.1h.9v.9h-.9zM49.0 296.9h.9v.9h-.9zM50.1 297.0h.9v.9h-.9zM69.9 297.0h.9v.9h-.9zM72.9 297.0h.9v.9h-.9zM74.9 297.1h.9v.9h-.9zM80.0 296.9h.9v.9h-.9zM80.9 296.9h.9v.9h-.9zM86.1 296.9h.9v.9h-.9zM87.0 297.0h.9v.9h-.9zM87.9 296.9h.9v.9h-.9zM92.1 296.9h.9v.9h-.9zM94.0 296.9h.9v.9h-.9zM99.1 296.9h.9v.9h-.9zM102.1 297.0h.9v.9h-.9zM27.9 297.9h.9v.9h-.9zM30.9 297.9h.9v.9h-.9zM32.0 298.1h.9v.9h-.9zM32.9 298.0h.9v.9h-.9zM38.1 298.0h.9v.9h-.9zM42.9 298.0h.9v.9h-.9zM43.9 297.9h.9v.9h-.9zM47.9 298.0h.9v.9h-.9zM69.1 298.0h.9v.9h-.9zM69.9 297.9h.9v.9h-.9zM77.0 298.0h.9v.9h-.9zM78.0 298.0h.9v.9h-.9zM79.0 298.0h.9v.9h-.9zM80.0 298.1h.9v.9h-.9zM82.9 298.1h.9v.9h-.9zM84.1 298.1h.9v.9h-.9zM87.0 297.9h.9v.9h-.9zM88.0 298.1h.9v.9h-.9zM89.1 298.0h.9v.9h-.9zM91.0 298.0h.9v.9h-.9zM97.0 298.0h.9v.9h-.9zM31.0 299.0h.9v.9h-.9zM44.1 298.9h.9v.9h-.9zM45.0 298.9h.9v.9h-.9zM63.0 299.0h.9v.9h-.9zM66.9 299.1h.9v.9h-.9zM68.9 298.9h.9v.9h-.9zM70.1 298.9h.9v.9h-.9zM74.0 299.1h.9v.9h-.9zM75.0 299.1h.9v.9h-.9zM78.9 299.0h.9v.9h-.9zM80.9 299.1h.9v.9h-.9zM83.0 298.9h.9v.9h-.9zM84.0 299.1h.9v.9h-.9zM84.9 298.9h.9v.9h-.9zM90.1 299.1h.9v.9h-.9zM92.9 298.9h.9v.9h-.9zM97.1 299.0h.9v.9h-.9zM27.0 299.9h.9v.9h-.9zM31.0 300.1h.9v.9h-.9zM32.0 299.9h.9v.9h-.9zM33.0 300.1h.9v.9h-.9zM33.9 300.0h.9v.9h-.9zM38.0 300.0h.9v.9h-.9zM41.9 300.0h.9v.9h-.9zM45.1 299.9h.9v.9h-.9zM65.0 300.0h.9v.9h-.9zM66.1 300.0h.9v.9h-.9zM74.0 299.9h.9v.9h-.9zM76.1 299.9h.9v.9h-.9zM78.0 300.1h.9v.9h-.9zM81.9 299.9h.9v.9h-.9zM84.1 299.9h.9v.9h-.9zM85.0 300.1h.9v.9h-.9zM89.9 300.0h.9v.9h-.9zM91.9 300.0h.9v.9h-.9zM94.0 300.0h.9v.9h-.9zM27.0 301.1h.9v.9h-.9zM28.0 300.9h.9v.9h-.9zM30.9 301.1h.9v.9h-.9zM35.9 301.1h.9v.9h-.9zM43.0 301.0h.9v.9h-.9zM45.0 301.1h.9v.9h-.9zM49.0 300.9h.9v.9h-.9zM70.0 300.9h.9v.9h-.9zM72.0 301.0h.9v.9h-.9zM72.9 300.9h.9v.9h-.9zM73.9 301.0h.9v.9h-.9zM74.9 300.9h.9v.9h-.9zM77.1 301.1h.9v.9h-.9zM78.0 301.1h.9v.9h-.9zM79.9 301.0h.9v.9h-.9zM82.1 300.9h.9v.9h-.9zM82.9 301.0h.9v.9h-.9zM91.9 301.0h.9v.9h-.9zM92.9 300.9h.9v.9h-.9zM28.0 302.1h.9v.9h-.9zM28.9 301.9h.9v.9h-.9zM35.0 301.9h.9v.9h-.9zM36.1 302.1h.9v.9h-.9zM36.9 302.0h.9v.9h-.9zM38.0 302.0h.9v.9h-.9zM40.9 302.0h.9v.9h-.9zM44.0 301.9h.9v.9h-.9zM62.1 301.9h.9v.9h-.9zM75.1 302.0h.9v.9h-.9zM76.0 302.1h.9v.9h-.9zM81.0 302.0h.9v.9h-.9zM82.9 302.0h.9v.9h-.9zM85.1 301.9h.9v.9h-.9zM86.0 301.9h.9v.9h-.9zM93.1 302.0h.9v.9h-.9zM95.1 302.0h.9v.9h-.9zM30.0 302.9h.9v.9h-.9zM32.0 302.9h.9v.9h-.9zM66.9 303.1h.9v.9h-.9zM68.1 303.1h.9v.9h-.9zM71.1 302.9h.9v.9h-.9zM72.0 302.9h.9v.9h-.9zM75.0 303.1h.9v.9h-.9zM80.9 302.9h.9v.9h-.9zM83.0 302.9h.9v.9h-.9zM84.9 302.9h.9v.9h-.9zM87.1 303.0h.9v.9h-.9zM90.1 303.1h.9v.9h-.9zM98.0 302.9h.9v.9h-.9zM27.9 304.1h.9v.9h-.9zM30.1 304.0h.9v.9h-.9zM31.0 304.1h.9v.9h-.9zM33.9 304.1h.9v.9h-.9zM35.0 304.0h.9v.9h-.9zM43.9 304.1h.9v.9h-.9zM45.1 304.0h.9v.9h-.9zM65.9 304.0h.9v.9h-.9zM70.1 303.9h.9v.9h-.9zM73.0 304.0h.9v.9h-.9zM77.1 304.1h.9v.9h-.9zM78.1 303.9h.9v.9h-.9zM79.1 304.1h.9v.9h-.9zM82.9 304.1h.9v.9h-.9zM90.0 304.0h.9v.9h-.9zM27.0 305.0h.9v.9h-.9zM28.0 305.0h.9v.9h-.9zM31.1 305.0h.9v.9h-.9zM35.0 305.1h.9v.9h-.9zM57.9 304.9h.9v.9h-.9zM63.9 305.1h.9v.9h-.9zM64.9 305.1h.9v.9h-.9zM69.1 304.9h.9v.9h-.9zM70.0 305.1h.9v.9h-.9zM71.1 304.9h.9v.9h-.9zM72.1 305.1h.9v.9h-.9zM73.1 305.1h.9v.9h-.9zM75.0 305.1h.9v.9h-.9zM78.1 305.0h.9v.9h-.9zM79.9 305.0h.9v.9h-.9zM80.9 304.9h.9v.9h-.9zM82.0 305.0h.9v.9h-.9zM84.1 304.9h.9v.9h-.9zM84.9 304.9h.9v.9h-.9zM88.1 305.1h.9v.9h-.9zM89.9 305.1h.9v.9h-.9zM27.1 306.1h.9v.9h-.9zM28.1 305.9h.9v.9h-.9zM28.9 306.0h.9v.9h-.9zM30.0 306.0h.9v.9h-.9zM33.1 306.1h.9v.9h-.9zM34.1 306.0h.9v.9h-.9zM45.0 306.0h.9v.9h-.9zM64.0 306.1h.9v.9h-.9zM65.0 306.1h.9v.9h-.9zM67.9 306.1h.9v.9h-.9zM69.0 305.9h.9v.9h-.9zM70.1 306.1h.9v.9h-.9zM72.1 305.9h.9v.9h-.9zM73.0 305.9h.9v.9h-.9zM77.1 306.0h.9v.9h-.9zM78.1 306.1h.9v.9h-.9zM80.1 305.9h.9v.9h-.9zM82.1 306.1h.9v.9h-.9zM83.1 306.0h.9v.9h-.9zM85.9 306.1h.9v.9h-.9zM87.0 306.1h.9v.9h-.9zM29.1 307.1h.9v.9h-.9zM30.1 307.0h.9v.9h-.9zM42.9 306.9h.9v.9h-.9zM44.1 307.1h.9v.9h-.9zM50.9 307.1h.9v.9h-.9zM54.9 307.1h.9v.9h-.9zM62.1 307.1h.9v.9h-.9zM64.0 307.1h.9v.9h-.9zM67.9 307.0h.9v.9h-.9zM70.1 307.0h.9v.9h-.9zM71.1 306.9h.9v.9h-.9zM74.9 307.1h.9v.9h-.9zM79.9 306.9h.9v.9h-.9zM81.1 307.1h.9v.9h-.9zM82.1 307.1h.9v.9h-.9zM82.9 306.9h.9v.9h-.9zM86.0 307.1h.9v.9h-.9zM27.0 307.9h.9v.9h-.9zM28.1 308.0h.9v.9h-.9zM30.0 307.9h.9v.9h-.9zM35.9 308.0h.9v.9h-.9zM44.1 308.0h.9v.9h-.9zM44.9 308.0h.9v.9h-.9zM46.1 308.0h.9v.9h-.9zM49.1 308.0h.9v.9h-.9zM54.0 308.1h.9v.9h-.9zM54.9 308.0h.9v.9h-.9zM57.1 307.9h.9v.9h-.9zM57.9 307.9h.9v.9h-.9zM60.0 308.0h.9v.9h-.9zM61.1 308.0h.9v.9h-.9zM62.1 307.9h.9v.9h-.9zM64.9 308.0h.9v.9h-.9zM66.0 307.9h.9v.9h-.9zM71.1 308.1h.9v.9h-.9zM74.9 307.9h.9v.9h-.9zM85.0 308.1h.9v.9h-.9zM85.9 307.9h.9v.9h-.9zM26.9 308.9h.9v.9h-.9zM42.9 309.1h.9v.9h-.9zM58.0 308.9h.9v.9h-.9zM59.0 309.0h.9v.9h-.9zM60.9 309.1h.9v.9h-.9zM63.1 309.1h.9v.9h-.9zM63.9 309.1h.9v.9h-.9zM65.9 308.9h.9v.9h-.9zM67.1 309.1h.9v.9h-.9zM72.0 309.1h.9v.9h-.9zM75.1 309.0h.9v.9h-.9zM76.0 309.0h.9v.9h-.9zM77.0 309.1h.9v.9h-.9zM80.0 309.1h.9v.9h-.9zM81.9 308.9h.9v.9h-.9zM84.1 308.9h.9v.9h-.9zM85.1 309.0h.9v.9h-.9zM27.1 310.1h.9v.9h-.9zM29.9 309.9h.9v.9h-.9zM31.0 309.9h.9v.9h-.9zM44.9 310.0h.9v.9h-.9zM63.9 310.0h.9v.9h-.9zM66.9 310.1h.9v.9h-.9zM68.0 310.0h.9v.9h-.9zM68.9 310.0h.9v.9h-.9zM73.9 309.9h.9v.9h-.9zM76.1 309.9h.9v.9h-.9zM76.9 310.0h.9v.9h-.9zM77.9 310.1h.9v.9h-.9zM79.1 309.9h.9v.9h-.9zM80.0 309.9h.9v.9h-.9zM80.9 310.0h.9v.9h-.9zM82.9 309.9h.9v.9h-.9zM31.1 311.0h.9v.9h-.9zM31.9 311.1h.9v.9h-.9zM43.9 310.9h.9v.9h-.9zM53.0 311.0h.9v.9h-.9zM56.9 311.1h.9v.9h-.9zM57.9 311.0h.9v.9h-.9zM59.9 311.0h.9v.9h-.9zM70.0 311.1h.9v.9h-.9zM74.0 310.9h.9v.9h-.9zM74.9 310.9h.9v.9h-.9zM77.9 311.1h.9v.9h-.9zM30.9 311.9h.9v.9h-.9zM43.1 312.0h.9v.9h-.9zM50.0 312.1h.9v.9h-.9zM55.9 311.9h.9v.9h-.9zM56.9 311.9h.9v.9h-.9zM58.1 312.0h.9v.9h-.9zM60.0 311.9h.9v.9h-.9zM68.0 311.9h.9v.9h-.9zM75.0 312.1h.9v.9h-.9zM75.9 312.0h.9v.9h-.9zM78.0 311.9h.9v.9h-.9zM80.9 311.9h.9v.9h-.9zM82.9 312.1h.9v.9h-.9zM41.9 313.1h.9v.9h-.9zM46.1 313.1h.9v.9h-.9zM54.1 313.1h.9v.9h-.9zM69.0 313.0h.9v.9h-.9zM72.0 313.0h.9v.9h-.9zM73.9 313.0h.9v.9h-.9zM75.1 313.1h.9v.9h-.9zM77.0 313.0h.9v.9h-.9zM79.1 313.0h.9v.9h-.9zM79.9 313.1h.9v.9h-.9zM26.9 314.0h.9v.9h-.9zM27.9 314.1h.9v.9h-.9zM30.9 313.9h.9v.9h-.9zM42.9 314.1h.9v.9h-.9zM43.9 313.9h.9v.9h-.9zM55.1 314.0h.9v.9h-.9zM57.0 313.9h.9v.9h-.9zM58.1 313.9h.9v.9h-.9zM74.9 314.1h.9v.9h-.9zM78.0 314.1h.9v.9h-.9zM27.9 314.9h.9v.9h-.9zM43.9 314.9h.9v.9h-.9zM50.1 314.9h.9v.9h-.9zM52.9 315.1h.9v.9h-.9zM56.9 315.1h.9v.9h-.9zM58.1 315.0h.9v.9h-.9zM68.9 315.0h.9v.9h-.9zM73.1 315.1h.9v.9h-.9zM73.9 315.0h.9v.9h-.9zM76.0 315.1h.9v.9h-.9zM77.1 314.9h.9v.9h-.9zM26.9 316.0h.9v.9h-.9zM43.9 316.1h.9v.9h-.9zM52.1 316.1h.9v.9h-.9zM54.1 316.1h.9v.9h-.9zM54.9 316.1h.9v.9h-.9zM66.9 316.1h.9v.9h-.9zM76.0 316.0h.9v.9h-.9zM27.9 316.9h.9v.9h-.9zM31.1 316.9h.9v.9h-.9zM42.9 317.0h.9v.9h-.9zM44.1 317.1h.9v.9h-.9zM53.0 317.0h.9v.9h-.9zM54.1 316.9h.9v.9h-.9zM55.1 317.1h.9v.9h-.9zM71.0 317.1h.9v.9h-.9zM73.1 317.1h.9v.9h-.9zM74.1 317.1h.9v.9h-.9zM27.9 318.1h.9v.9h-.9zM30.1 318.0h.9v.9h-.9zM44.1 318.1h.9v.9h-.9zM53.0 317.9h.9v.9h-.9zM67.0 317.9h.9v.9h-.9zM68.9 318.0h.9v.9h-.9zM69.9 318.0h.9v.9h-.9zM71.0 318.0h.9v.9h-.9zM71.9 318.0h.9v.9h-.9zM26.9 318.9h.9v.9h-.9zM43.0 319.0h.9v.9h-.9zM44.9 319.1h.9v.9h-.9zM53.0 319.1h.9v.9h-.9zM67.9 318.9h.9v.9h-.9zM69.0 318.9h.9v.9h-.9zM71.1 318.9h.9v.9h-.9zM27.0 320.0h.9v.9h-.9zM27.9 319.9h.9v.9h-.9zM29.1 319.9h.9v.9h-.9zM40.1 320.0h.9v.9h-.9zM42.9 320.0h.9v.9h-.9zM44.0 319.9h.9v.9h-.9zM49.1 319.9h.9v.9h-.9zM52.0 320.1h.9v.9h-.9zM28.0 320.9h.9v.9h-.9zM28.9 320.9h.9v.9h-.9zM34.9 321.0h.9v.9h-.9zM45.0 321.1h.9v.9h-.9zM45.9 321.0h.9v.9h-.9zM52.9 320.9h.9v.9h-.9zM54.1 321.1h.9v.9h-.9zM65.1 321.1h.9v.9h-.9zM69.1 320.9h.9v.9h-.9zM28.0 322.1h.9v.9h-.9zM30.0 322.0h.9v.9h-.9zM40.9 322.0h.9v.9h-.9zM66.1 322.1h.9v.9h-.9zM67.1 321.9h.9v.9h-.9zM32.0 323.0h.9v.9h-.9zM35.0 323.1h.9v.9h-.9zM42.9 322.9h.9v.9h-.9zM44.1 322.9h.9v.9h-.9zM45.0 323.1h.9v.9h-.9zM53.0 322.9h.9v.9h-.9zM65.9 323.1h.9v.9h-.9zM29.0 324.1h.9v.9h-.9zM30.1 323.9h.9v.9h-.9zM31.0 323.9h.9v.9h-.9zM41.0 324.1h.9v.9h-.9zM43.0 324.0h.9v.9h-.9zM45.9 324.1h.9v.9h-.9zM54.1 323.9h.9v.9h-.9zM61.9 324.1h.9v.9h-.9zM65.0 323.9h.9v.9h-.9zM27.1 324.9h.9v.9h-.9zM28.1 324.9h.9v.9h-.9zM35.0 324.9h.9v.9h-.9zM39.0 324.9h.9v.9h-.9zM40.1 325.1h.9v.9h-.9zM41.0 325.1h.9v.9h-.9zM42.0 324.9h.9v.9h-.9zM53.0 324.9h.9v.9h-.9zM63.0 324.9h.9v.9h-.9zM28.1 326.1h.9v.9h-.9zM28.9 325.9h.9v.9h-.9zM30.1 326.1h.9v.9h-.9zM34.0 325.9h.9v.9h-.9zM39.0 326.1h.9v.9h-.9zM48.9 326.1h.9v.9h-.9zM53.0 325.9h.9v.9h-.9zM53.9 326.0h.9v.9h-.9zM100.9 325.9h.9v.9h-.9zM27.0 326.9h.9v.9h-.9zM29.0 326.9h.9v.9h-.9zM32.1 326.9h.9v.9h-.9zM41.0 326.9h.9v.9h-.9zM42.0 327.1h.9v.9h-.9zM43.0 327.0h.9v.9h-.9zM45.0 326.9h.9v.9h-.9zM46.0 327.1h.9v.9h-.9zM52.9 327.1h.9v.9h-.9zM62.1 326.9h.9v.9h-.9zM27.0 328.1h.9v.9h-.9zM28.9 328.1h.9v.9h-.9zM29.9 328.0h.9v.9h-.9zM31.0 328.0h.9v.9h-.9zM32.1 327.9h.9v.9h-.9zM33.9 328.0h.9v.9h-.9zM38.0 327.9h.9v.9h-.9zM40.1 327.9h.9v.9h-.9zM46.9 328.0h.9v.9h-.9zM47.9 328.0h.9v.9h-.9zM49.0 327.9h.9v.9h-.9zM51.1 327.9h.9v.9h-.9zM27.1 328.9h.9v.9h-.9zM27.9 329.0h.9v.9h-.9zM30.9 329.0h.9v.9h-.9zM33.1 328.9h.9v.9h-.9zM36.0 328.9h.9v.9h-.9zM40.1 329.1h.9v.9h-.9zM41.0 328.9h.9v.9h-.9zM44.1 329.1h.9v.9h-.9zM49.1 329.1h.9v.9h-.9zM50.9 329.1h.9v.9h-.9zM56.9 328.9h.9v.9h-.9zM59.9 328.9h.9v.9h-.9zM27.0 329.9h.9v.9h-.9zM34.9 330.1h.9v.9h-.9zM40.0 330.1h.9v.9h-.9zM40.9 329.9h.9v.9h-.9zM42.0 330.0h.9v.9h-.9zM45.9 330.0h.9v.9h-.9zM48.1 330.0h.9v.9h-.9zM49.1 330.0h.9v.9h-.9zM58.0 330.0h.9v.9h-.9zM59.1 329.9h.9v.9h-.9zM26.9 330.9h.9v.9h-.9zM27.9 331.1h.9v.9h-.9zM28.9 331.0h.9v.9h-.9zM30.1 331.1h.9v.9h-.9zM33.9 331.1h.9v.9h-.9zM35.1 330.9h.9v.9h-.9zM38.1 331.0h.9v.9h-.9zM39.1 331.0h.9v.9h-.9zM43.0 330.9h.9v.9h-.9zM47.1 331.0h.9v.9h-.9zM48.0 331.0h.9v.9h-.9zM56.9 330.9h.9v.9h-.9zM59.0 331.1h.9v.9h-.9zM26.9 332.1h.9v.9h-.9zM30.0 331.9h.9v.9h-.9zM33.9 331.9h.9v.9h-.9zM37.0 332.1h.9v.9h-.9zM38.9 332.1h.9v.9h-.9zM40.0 332.0h.9v.9h-.9zM40.9 331.9h.9v.9h-.9zM44.9 332.0h.9v.9h-.9zM56.1 332.0h.9v.9h-.9zM56.9 332.0h.9v.9h-.9zM58.1 331.9h.9v.9h-.9zM101.1 331.9h.9v.9h-.9zM27.0 333.1h.9v.9h-.9zM27.9 333.1h.9v.9h-.9zM28.9 333.1h.9v.9h-.9zM38.0 333.1h.9v.9h-.9zM39.0 333.0h.9v.9h-.9zM40.1 332.9h.9v.9h-.9zM45.9 333.1h.9v.9h-.9zM48.0 332.9h.9v.9h-.9zM50.1 333.1h.9v.9h-.9zM57.0 332.9h.9v.9h-.9zM28.0 333.9h.9v.9h-.9zM34.0 333.9h.9v.9h-.9zM35.0 334.1h.9v.9h-.9zM37.0 334.1h.9v.9h-.9zM38.9 334.0h.9v.9h-.9zM43.0 334.1h.9v.9h-.9zM44.1 333.9h.9v.9h-.9zM45.0 333.9h.9v.9h-.9zM46.0 333.9h.9v.9h-.9zM48.1 334.1h.9v.9h-.9zM49.9 334.1h.9v.9h-.9zM51.9 333.9h.9v.9h-.9zM54.0 334.1h.9v.9h-.9zM27.1 335.1h.9v.9h-.9zM28.0 335.0h.9v.9h-.9zM30.1 335.1h.9v.9h-.9zM39.0 334.9h.9v.9h-.9zM42.1 335.1h.9v.9h-.9zM43.0 335.0h.9v.9h-.9zM48.1 335.1h.9v.9h-.9zM48.9 334.9h.9v.9h-.9zM54.1 335.1h.9v.9h-.9zM54.9 335.0h.9v.9h-.9zM28.1 336.0h.9v.9h-.9zM28.9 336.1h.9v.9h-.9zM29.9 336.1h.9v.9h-.9zM31.9 336.1h.9v.9h-.9zM34.9 335.9h.9v.9h-.9zM38.1 336.1h.9v.9h-.9zM41.0 335.9h.9v.9h-.9zM43.0 336.0h.9v.9h-.9zM45.1 335.9h.9v.9h-.9zM46.1 336.1h.9v.9h-.9zM49.9 336.0h.9v.9h-.9zM52.1 336.1h.9v.9h-.9zM27.0 337.1h.9v.9h-.9zM31.1 337.0h.9v.9h-.9zM32.9 337.0h.9v.9h-.9zM34.0 336.9h.9v.9h-.9zM35.0 337.0h.9v.9h-.9zM38.9 337.0h.9v.9h-.9zM40.0 336.9h.9v.9h-.9zM43.1 336.9h.9v.9h-.9zM44.9 337.1h.9v.9h-.9zM53.0 337.0h.9v.9h-.9zM59.0 337.0h.9v.9h-.9zM26.9 338.1h.9v.9h-.9zM31.0 338.1h.9v.9h-.9zM32.0 337.9h.9v.9h-.9zM33.0 338.0h.9v.9h-.9zM34.0 338.1h.9v.9h-.9zM35.1 338.1h.9v.9h-.9zM36.0 338.1h.9v.9h-.9zM42.1 338.1h.9v.9h-.9zM59.0 338.0h.9v.9h-.9zM28.1 339.1h.9v.9h-.9zM29.1 339.1h.9v.9h-.9zM33.0 339.0h.9v.9h-.9zM34.9 339.0h.9v.9h-.9zM37.0 339.1h.9v.9h-.9zM27.1 340.0h.9v.9h-.9zM28.9 339.9h.9v.9h-.9zM29.9 340.0h.9v.9h-.9zM31.9 340.1h.9v.9h-.9zM33.0 340.0h.9v.9h-.9zM35.0 339.9h.9v.9h-.9zM37.9 340.1h.9v.9h-.9zM45.1 339.9h.9v.9h-.9zM49.1 339.9h.9v.9h-.9zM52.1 340.1h.9v.9h-.9zM27.1 341.1h.9v.9h-.9zM27.9 341.1h.9v.9h-.9zM29.0 341.0h.9v.9h-.9zM30.0 341.0h.9v.9h-.9zM31.1 340.9h.9v.9h-.9zM32.0 340.9h.9v.9h-.9zM32.9 341.0h.9v.9h-.9zM35.9 341.0h.9v.9h-.9zM47.9 341.0h.9v.9h-.9zM26.9 342.0h.9v.9h-.9zM29.9 342.0h.9v.9h-.9zM33.0 341.9h.9v.9h-.9zM35.9 341.9h.9v.9h-.9zM48.0 342.1h.9v.9h-.9zM26.9 343.1h.9v.9h-.9zM29.0 343.0h.9v.9h-.9zM30.1 342.9h.9v.9h-.9zM31.1 342.9h.9v.9h-.9zM42.1 343.1h.9v.9h-.9zM43.1 343.0h.9v.9h-.9zM43.9 342.9h.9v.9h-.9zM30.1 343.9h.9v.9h-.9zM30.9 344.0h.9v.9h-.9zM32.9 343.9h.9v.9h-.9zM37.1 344.0h.9v.9h-.9zM40.0 343.9h.9v.9h-.9zM26.9 344.9h.9v.9h-.9zM27.9 345.1h.9v.9h-.9zM29.0 345.0h.9v.9h-.9zM33.1 345.0h.9v.9h-.9zM26.9 346.0h.9v.9h-.9zM28.1 346.0h.9v.9h-.9zM29.1 346.1h.9v.9h-.9zM31.9 346.0h.9v.9h-.9zM41.0 345.9h.9v.9h-.9zM42.9 346.0h.9v.9h-.9zM27.9 347.1h.9v.9h-.9zM30.0 347.0h.9v.9h-.9zM31.0 347.1h.9v.9h-.9zM32.9 347.1h.9v.9h-.9zM34.0 347.1h.9v.9h-.9zM39.0 346.9h.9v.9h-.9zM40.9 346.9h.9v.9h-.9z" fill="#888888"/>
<path d="M45.1 276.9h.9v.9h-.9zM93.9 281.9h.9v.9h-.9zM44.1 288.9h.9v.9h-.9zM27.0 290.0h.9v.9h-.9zM28.1 289.9h.9v.9h-.9zM40.1 291.9h.9v.9h-.9zM38.1 293.1h.9v.9h-.9zM88.0 292.9h.9v.9h-.9zM94.9 293.1h.9v.9h-.9zM29.1 295.9h.9v.9h-.9zM36.0 296.0h.9v.9h-.9zM40.0 296.0h.9v.9h-.9zM92.1 296.0h.9v.9h-.9zM31.9 297.1h.9v.9h-.9zM35.1 297.1h.9v.9h-.9zM38.1 297.1h.9v.9h-.9zM38.9 297.0h.9v.9h-.9zM83.9 297.0h.9v.9h-.9zM101.1 296.9h.9v.9h-.9zM34.9 298.1h.9v.9h-.9zM36.0 297.9h.9v.9h-.9zM36.9 298.1h.9v.9h-.9zM39.1 297.9h.9v.9h-.9zM40.1 298.1h.9v.9h-.9zM41.0 298.1h.9v.9h-.9zM27.0 299.0h.9v.9h-.9zM29.9 298.9h.9v.9h-.9zM32.0 299.0h.9v.9h-.9zM33.0 299.1h.9v.9h-.9zM34.0 299.0h.9v.9h-.9zM34.9 299.1h.9v.9h-.9zM36.0 299.1h.9v.9h-.9zM36.9 299.1h.9v.9h-.9zM37.9 298.9h.9v.9h-.9zM39.9 298.9h.9v.9h-.9zM40.9 299.1h.9v.9h-.9zM42.1 299.0h.9v.9h-.9zM77.9 298.9h.9v.9h-.9zM28.9 300.0h.9v.9h-.9zM30.0 299.9h.9v.9h-.9zM36.1 300.0h.9v.9h-.9zM37.1 300.0h.9v.9h-.9zM39.9 300.1h.9v.9h-.9zM42.9 300.1h.9v.9h-.9zM80.0 299.9h.9v.9h-.9zM86.1 300.0h.9v.9h-.9zM92.9 299.9h.9v.9h-.9zM29.0 300.9h.9v.9h-.9zM33.1 300.9h.9v.9h-.9zM33.9 301.0h.9v.9h-.9zM37.0 301.0h.9v.9h-.9zM38.0 301.0h.9v.9h-.9zM39.0 301.0h.9v.9h-.9zM41.0 301.0h.9v.9h-.9zM44.0 301.0h.9v.9h-.9zM79.1 301.0h.9v.9h-.9zM84.1 301.0h.9v.9h-.9zM31.0 301.9h.9v.9h-.9zM31.9 302.0h.9v.9h-.9zM33.0 302.0h.9v.9h-.9zM40.0 302.0h.9v.9h-.9zM42.1 301.9h.9v.9h-.9zM73.9 302.1h.9v.9h-.9zM76.9 302.0h.9v.9h-.9zM78.9 301.9h.9v.9h-.9zM81.9 301.9h.9v.9h-.9zM86.9 302.0h.9v.9h-.9zM88.9 301.9h.9v.9h-.9zM27.1 302.9h.9v.9h-.9zM28.1 302.9h.9v.9h-.9zM31.1 303.1h.9v.9h-.9zM34.0 302.9h.9v.9h-.9zM35.1 302.9h.9v.9h-.9zM35.9 302.9h.9v.9h-.9zM36.9 303.0h.9v.9h-.9zM38.0 302.9h.9v.9h-.9zM39.1 303.0h.9v.9h-.9zM41.1 303.0h.9v.9h-.9zM42.0 303.0h.9v.9h-.9zM74.0 302.9h.9v.9h-.9zM76.1 303.1h.9v.9h-.9zM78.0 302.9h.9v.9h-.9zM79.1 303.0h.9v.9h-.9zM82.0 302.9h.9v.9h-.9zM35.9 304.0h.9v.9h-.9zM37.1 303.9h.9v.9h-.9zM38.0 304.1h.9v.9h-.9zM39.1 304.1h.9v.9h-.9zM40.9 303.9h.9v.9h-.9zM41.9 304.1h.9v.9h-.9zM43.0 304.1h.9v.9h-.9zM70.9 304.1h.9v.9h-.9zM71.9 304.0h.9v.9h-.9zM75.9 303.9h.9v.9h-.9zM85.1 304.0h.9v.9h-.9zM85.9 303.9h.9v.9h-.9zM29.0 304.9h.9v.9h-.9zM32.0 305.1h.9v.9h-.9zM33.0 305.1h.9v.9h-.9zM34.0 304.9h.9v.9h-.9zM35.9 305.1h.9v.9h-.9zM39.0 304.9h.9v.9h-.9zM40.0 305.0h.9v.9h-.9zM42.0 305.1h.9v.9h-.9zM42.9 305.0h.9v.9h-.9zM51.0 305.0h.9v.9h-.9zM76.0 304.9h.9v.9h-.9zM78.9 305.0h.9v.9h-.9zM31.0 306.1h.9v.9h-.9zM35.0 306.1h.9v.9h-.9zM43.0 306.1h.9v.9h-.9zM44.0 306.0h.9v.9h-.9zM71.0 306.0h.9v.9h-.9zM73.9 306.1h.9v.9h-.9zM75.1 306.0h.9v.9h-.9zM75.9 305.9h.9v.9h-.9zM81.0 306.0h.9v.9h-.9zM31.1 307.1h.9v.9h-.9zM32.1 307.1h.9v.9h-.9zM32.9 307.0h.9v.9h-.9zM34.1 307.0h.9v.9h-.9zM40.0 306.9h.9v.9h-.9zM42.1 307.1h.9v.9h-.9zM64.9 306.9h.9v.9h-.9zM66.0 306.9h.9v.9h-.9zM69.0 307.0h.9v.9h-.9zM71.9 307.0h.9v.9h-.9zM72.9 306.9h.9v.9h-.9zM76.0 306.9h.9v.9h-.9zM76.9 307.1h.9v.9h-.9zM78.9 307.0h.9v.9h-.9zM84.1 307.0h.9v.9h-.9zM84.9 307.0h.9v.9h-.9zM31.0 308.1h.9v.9h-.9zM32.1 308.0h.9v.9h-.9zM33.0 307.9h.9v.9h-.9zM34.1 308.1h.9v.9h-.9zM34.9 308.0h.9v.9h-.9zM39.0 308.0h.9v.9h-.9zM41.0 308.0h.9v.9h-.9zM42.9 308.0h.9v.9h-.9zM64.0 308.1h.9v.9h-.9zM67.1 308.0h.9v.9h-.9zM69.1 308.1h.9v.9h-.9zM70.0 308.1h.9v.9h-.9zM71.9 308.0h.9v.9h-.9zM73.0 308.0h.9v.9h-.9zM73.9 308.0h.9v.9h-.9zM76.0 308.1h.9v.9h-.9zM77.1 308.0h.9v.9h-.9zM78.0 307.9h.9v.9h-.9zM79.1 307.9h.9v.9h-.9zM79.9 308.0h.9v.9h-.9zM81.0 308.0h.9v.9h-.9zM84.1 307.9h.9v.9h-.9zM28.0 308.9h.9v.9h-.9zM32.0 309.0h.9v.9h-.9zM35.9 309.0h.9v.9h-.9zM39.1 308.9h.9v.9h-.9zM42.0 309.0h.9v.9h-.9zM65.0 309.0h.9v.9h-.9zM69.0 308.9h.9v.9h-.9zM70.1 309.1h.9v.9h-.9zM72.9 309.0h.9v.9h-.9zM74.0 308.9h.9v.9h-.9zM27.9 309.9h.9v.9h-.9zM32.0 310.0h.9v.9h-.9zM33.1 310.0h.9v.9h-.9zM34.0 309.9h.9v.9h-.9zM35.0 310.0h.9v.9h-.9zM43.1 309.9h.9v.9h-.9zM45.9 310.0h.9v.9h-.9zM60.1 310.1h.9v.9h-.9zM61.1 309.9h.9v.9h-.9zM61.9 309.9h.9v.9h-.9zM65.1 309.9h.9v.9h-.9zM66.1 310.0h.9v.9h-.9zM69.9 310.1h.9v.9h-.9zM72.0 309.9h.9v.9h-.9zM72.9 309.9h.9v.9h-.9zM74.9 310.0h.9v.9h-.9zM82.1 309.9h.9v.9h-.9zM28.9 310.9h.9v.9h-.9zM30.1 310.9h.9v.9h-.9zM34.1 311.1h.9v.9h-.9zM42.1 311.1h.9v.9h-.9zM60.9 311.0h.9v.9h-.9zM62.0 311.1h.9v.9h-.9zM63.1 311.0h.9v.9h-.9zM63.9 311.1h.9v.9h-.9zM65.9 311.1h.9v.9h-.9zM67.0 311.0h.9v.9h-.9zM68.1 311.0h.9v.9h-.9zM71.0 310.9h.9v.9h-.9zM71.9 310.9h.9v.9h-.9zM72.9 311.1h.9v.9h-.9zM75.9 311.0h.9v.9h-.9zM80.0 311.0h.9v.9h-.9zM27.1 311.9h.9v.9h-.9zM29.0 312.1h.9v.9h-.9zM30.1 312.0h.9v.9h-.9zM32.1 312.0h.9v.9h-.9zM33.1 311.9h.9v.9h-.9zM35.0 311.9h.9v.9h-.9zM35.9 311.9h.9v.9h-.9zM39.9 311.9h.9v.9h-.9zM41.0 311.9h.9v.9h-.9zM42.1 311.9h.9v.9h-.9zM43.9 312.0h.9v.9h-.9zM45.0 311.9h.9v.9h-.9zM60.9 312.0h.9v.9h-.9zM62.0 311.9h.9v.9h-.9zM62.9 312.0h.9v.9h-.9zM63.9 311.9h.9v.9h-.9zM65.1 312.0h.9v.9h-.9zM66.1 311.9h.9v.9h-.9zM67.1 312.0h.9v.9h-.9zM68.9 312.0h.9v.9h-.9zM72.0 311.9h.9v.9h-.9zM73.1 311.9h.9v.9h-.9zM77.1 312.0h.9v.9h-.9zM78.9 312.1h.9v.9h-.9zM80.1 312.1h.9v.9h-.9zM27.1 313.1h.9v.9h-.9zM28.9 313.0h.9v.9h-.9zM29.9 312.9h.9v.9h-.9zM31.1 312.9h.9v.9h-.9zM33.0 313.0h.9v.9h-.9zM34.0 313.1h.9v.9h-.9zM36.1 312.9h.9v.9h-.9zM43.1 313.1h.9v.9h-.9zM60.0 313.1h.9v.9h-.9zM62.0 313.1h.9v.9h-.9zM62.9 313.0h.9v.9h-.9zM65.0 313.1h.9v.9h-.9zM65.9 313.0h.9v.9h-.9zM67.1 313.0h.9v.9h-.9zM71.0 312.9h.9v.9h-.9zM72.9 313.0h.9v.9h-.9zM75.9 313.1h.9v.9h-.9zM30.0 314.1h.9v.9h-.9zM32.9 314.1h.9v.9h-.9zM34.0 313.9h.9v.9h-.9zM41.1 314.0h.9v.9h-.9zM56.1 314.1h.9v.9h-.9zM59.1 314.0h.9v.9h-.9zM62.0 313.9h.9v.9h-.9zM63.0 313.9h.9v.9h-.9zM64.1 314.1h.9v.9h-.9zM65.0 314.1h.9v.9h-.9zM67.1 314.1h.9v.9h-.9zM68.1 314.0h.9v.9h-.9zM68.9 314.0h.9v.9h-.9zM72.1 313.9h.9v.9h-.9zM73.0 314.1h.9v.9h-.9zM76.0 314.0h.9v.9h-.9zM79.0 314.1h.9v.9h-.9zM29.1 314.9h.9v.9h-.9zM31.9 315.1h.9v.9h-.9zM33.9 315.0h.9v.9h-.9zM36.0 315.1h.9v.9h-.9zM39.0 315.1h.9v.9h-.9zM39.9 315.0h.9v.9h-.9zM42.1 315.1h.9v.9h-.9zM43.0 315.0h.9v.9h-.9zM56.1 314.9h.9v.9h-.9zM58.9 315.1h.9v.9h-.9zM65.0 315.1h.9v.9h-.9zM66.0 314.9h.9v.9h-.9zM67.0 315.1h.9v.9h-.9zM70.1 315.0h.9v.9h-.9zM27.9 316.1h.9v.9h-.9zM33.0 316.0h.9v.9h-.9zM34.9 316.1h.9v.9h-.9zM40.9 316.1h.9v.9h-.9zM42.0 316.0h.9v.9h-.9zM43.0 316.0h.9v.9h-.9zM60.9 316.0h.9v.9h-.9zM65.1 316.1h.9v.9h-.9zM68.0 316.1h.9v.9h-.9zM69.1 316.1h.9v.9h-.9zM70.0 316.1h.9v.9h-.9zM71.1 316.0h.9v.9h-.9zM71.9 316.0h.9v.9h-.9zM74.9 316.0h.9v.9h-.9zM30.0 316.9h.9v.9h-.9zM33.0 316.9h.9v.9h-.9zM33.9 316.9h.9v.9h-.9zM39.9 317.1h.9v.9h-.9zM41.1 316.9h.9v.9h-.9zM41.9 317.0h.9v.9h-.9zM56.1 316.9h.9v.9h-.9zM57.0 317.1h.9v.9h-.9zM63.0 317.1h.9v.9h-.9zM65.1 317.0h.9v.9h-.9zM69.1 317.0h.9v.9h-.9zM70.0 317.1h.9v.9h-.9zM29.1 317.9h.9v.9h-.9zM32.1 318.1h.9v.9h-.9zM33.1 318.1h.9v.9h-.9zM40.0 317.9h.9v.9h-.9zM40.9 317.9h.9v.9h-.9zM42.9 317.9h.9v.9h-.9zM54.0 318.0h.9v.9h-.9zM60.1 317.9h.9v.9h-.9zM61.9 318.1h.9v.9h-.9zM62.9 317.9h.9v.9h-.9zM64.0 318.1h.9v.9h-.9zM66.1 318.1h.9v.9h-.9zM68.0 318.0h.9v.9h-.9zM29.0 318.9h.9v.9h-.9zM30.0 318.9h.9v.9h-.9zM30.9 318.9h.9v.9h-.9zM32.1 319.1h.9v.9h-.9zM34.1 319.1h.9v.9h-.9zM41.9 319.1h.9v.9h-.9zM54.1 319.0h.9v.9h-.9zM54.9 319.0h.9v.9h-.9zM65.0 319.0h.9v.9h-.9zM66.0 319.0h.9v.9h-.9zM67.1 319.1h.9v.9h-.9zM70.0 319.1h.9v.9h-.9zM30.0 320.1h.9v.9h-.9zM31.0 320.1h.9v.9h-.9zM33.9 320.1h.9v.9h-.9zM36.9 320.0h.9v.9h-.9zM41.9 320.0h.9v.9h-.9zM54.1 319.9h.9v.9h-.9zM54.9 320.1h.9v.9h-.9zM56.0 320.0h.9v.9h-.9zM57.0 319.9h.9v.9h-.9zM58.9 319.9h.9v.9h-.9zM68.1 319.9h.9v.9h-.9zM30.9 320.9h.9v.9h-.9zM33.1 321.1h.9v.9h-.9zM34.1 321.0h.9v.9h-.9zM37.1 321.1h.9v.9h-.9zM37.9 321.1h.9v.9h-.9zM39.1 321.1h.9v.9h-.9zM40.1 320.9h.9v.9h-.9zM40.9 321.0h.9v.9h-.9zM42.1 320.9h.9v.9h-.9zM43.0 321.1h.9v.9h-.9zM63.9 321.0h.9v.9h-.9zM67.0 321.0h.9v.9h-.9zM28.9 322.1h.9v.9h-.9zM30.9 322.0h.9v.9h-.9zM32.0 321.9h.9v.9h-.9zM33.1 322.0h.9v.9h-.9zM33.9 322.0h.9v.9h-.9zM53.9 322.0h.9v.9h-.9zM60.1 321.9h.9v.9h-.9zM60.9 322.1h.9v.9h-.9zM62.0 321.9h.9v.9h-.9zM64.1 322.1h.9v.9h-.9zM65.1 321.9h.9v.9h-.9zM67.9 322.1h.9v.9h-.9zM28.1 323.0h.9v.9h-.9zM28.9 323.0h.9v.9h-.9zM29.9 323.0h.9v.9h-.9zM33.9 323.1h.9v.9h-.9zM40.1 322.9h.9v.9h-.9zM41.9 323.0h.9v.9h-.9zM58.9 323.1h.9v.9h-.9zM63.1 322.9h.9v.9h-.9zM63.9 323.1h.9v.9h-.9zM65.0 323.1h.9v.9h-.9zM27.0 324.0h.9v.9h-.9zM27.9 324.0h.9v.9h-.9zM32.9 324.1h.9v.9h-.9zM33.9 324.1h.9v.9h-.9zM35.1 323.9h.9v.9h-.9zM37.0 324.0h.9v.9h-.9zM39.9 323.9h.9v.9h-.9zM54.9 324.1h.9v.9h-.9zM63.0 323.9h.9v.9h-.9zM63.9 324.1h.9v.9h-.9zM29.1 325.1h.9v.9h-.9zM29.9 325.0h.9v.9h-.9zM31.0 325.0h.9v.9h-.9zM32.1 325.0h.9v.9h-.9zM32.9 324.9h.9v.9h-.9zM34.1 325.1h.9v.9h-.9zM37.0 324.9h.9v.9h-.9zM37.9 325.0h.9v.9h-.9zM54.1 325.0h.9v.9h-.9zM55.1 325.0h.9v.9h-.9zM55.9 325.0h.9v.9h-.9zM62.0 325.0h.9v.9h-.9zM26.9 326.1h.9v.9h-.9zM31.1 325.9h.9v.9h-.9zM32.1 326.1h.9v.9h-.9zM33.0 325.9h.9v.9h-.9zM35.1 325.9h.9v.9h-.9zM35.9 326.0h.9v.9h-.9zM37.0 326.0h.9v.9h-.9zM40.1 325.9h.9v.9h-.9zM41.1 326.0h.9v.9h-.9zM51.1 325.9h.9v.9h-.9zM52.0 325.9h.9v.9h-.9zM55.9 325.9h.9v.9h-.9zM61.0 325.9h.9v.9h-.9zM62.0 326.0h.9v.9h-.9zM28.0 326.9h.9v.9h-.9zM29.9 327.1h.9v.9h-.9zM31.1 326.9h.9v.9h-.9zM32.9 327.1h.9v.9h-.9zM34.0 326.9h.9v.9h-.9zM35.1 327.0h.9v.9h-.9zM37.0 327.0h.9v.9h-.9zM38.1 326.9h.9v.9h-.9zM39.1 327.1h.9v.9h-.9zM50.0 327.1h.9v.9h-.9zM52.1 326.9h.9v.9h-.9zM54.0 327.1h.9v.9h-.9zM59.9 327.1h.9v.9h-.9zM61.0 327.0h.9v.9h-.9zM28.0 328.1h.9v.9h-.9zM35.1 327.9h.9v.9h-.9zM36.1 328.1h.9v.9h-.9zM37.0 328.0h.9v.9h-.9zM39.1 328.0h.9v.9h-.9zM40.9 328.0h.9v.9h-.9zM49.9 328.0h.9v.9h-.9zM51.9 328.0h.9v.9h-.9zM57.1 328.1h.9v.9h-.9zM59.1 328.0h.9v.9h-.9zM60.1 327.9h.9v.9h-.9zM60.9 327.9h.9v.9h-.9zM34.0 328.9h.9v.9h-.9zM34.9 329.1h.9v.9h-.9zM37.1 328.9h.9v.9h-.9zM37.9 329.1h.9v.9h-.9zM39.1 328.9h.9v.9h-.9zM50.0 328.9h.9v.9h-.9zM55.0 328.9h.9v.9h-.9zM58.0 328.9h.9v.9h-.9zM58.9 328.9h.9v.9h-.9zM27.9 329.9h.9v.9h-.9zM28.9 329.9h.9v.9h-.9zM30.1 330.1h.9v.9h-.9zM31.0 330.1h.9v.9h-.9zM32.1 330.0h.9v.9h-.9zM32.9 329.9h.9v.9h-.9zM36.0 329.9h.9v.9h-.9zM37.1 330.0h.9v.9h-.9zM38.0 329.9h.9v.9h-.9zM39.0 330.1h.9v.9h-.9zM56.1 330.0h.9v.9h-.9zM57.1 329.9h.9v.9h-.9zM61.0 330.0h.9v.9h-.9zM32.9 330.9h.9v.9h-.9zM36.1 331.1h.9v.9h-.9zM40.1 331.0h.9v.9h-.9zM41.0 331.0h.9v.9h-.9zM45.9 331.1h.9v.9h-.9zM48.9 331.0h.9v.9h-.9zM51.9 330.9h.9v.9h-.9zM56.1 331.1h.9v.9h-.9zM58.1 331.1h.9v.9h-.9zM28.0 331.9h.9v.9h-.9zM29.1 332.1h.9v.9h-.9zM31.0 332.1h.9v.9h-.9zM31.9 332.0h.9v.9h-.9zM35.0 332.1h.9v.9h-.9zM35.9 332.0h.9v.9h-.9zM38.1 332.0h.9v.9h-.9zM44.0 332.0h.9v.9h-.9zM48.1 332.0h.9v.9h-.9zM55.0 331.9h.9v.9h-.9zM30.0 332.9h.9v.9h-.9zM33.1 333.0h.9v.9h-.9zM33.9 333.0h.9v.9h-.9zM34.9 333.0h.9v.9h-.9zM36.0 332.9h.9v.9h-.9zM37.1 332.9h.9v.9h-.9zM46.9 332.9h.9v.9h-.9zM52.0 333.1h.9v.9h-.9zM54.0 333.0h.9v.9h-.9zM55.1 333.1h.9v.9h-.9zM28.9 334.1h.9v.9h-.9zM30.1 334.0h.9v.9h-.9zM30.9 333.9h.9v.9h-.9zM32.0 333.9h.9v.9h-.9zM33.0 334.1h.9v.9h-.9zM36.0 334.0h.9v.9h-.9zM38.0 334.0h.9v.9h-.9zM40.1 333.9h.9v.9h-.9zM47.0 334.0h.9v.9h-.9zM49.1 334.1h.9v.9h-.9zM51.1 334.1h.9v.9h-.9zM52.9 334.0h.9v.9h-.9zM31.0 335.0h.9v.9h-.9zM33.1 335.1h.9v.9h-.9zM35.9 335.1h.9v.9h-.9zM51.0 335.1h.9v.9h-.9zM52.1 334.9h.9v.9h-.9zM52.9 334.9h.9v.9h-.9zM26.9 336.0h.9v.9h-.9zM30.9 336.1h.9v.9h-.9zM33.1 335.9h.9v.9h-.9zM36.0 335.9h.9v.9h-.9zM51.0 335.9h.9v.9h-.9zM28.1 337.0h.9v.9h-.9zM29.1 336.9h.9v.9h-.9zM30.0 337.1h.9v.9h-.9zM32.1 336.9h.9v.9h-.9zM35.9 337.0h.9v.9h-.9zM37.9 337.0h.9v.9h-.9zM29.1 338.0h.9v.9h-.9zM30.1 338.1h.9v.9h-.9zM31.0 338.9h.9v.9h-.9zM32.1 339.0h.9v.9h-.9zM33.9 339.0h.9v.9h-.9zM35.9 338.9h.9v.9h-.9zM28.1 340.1h.9v.9h-.9zM30.9 339.9h.9v.9h-.9zM33.9 340.1h.9v.9h-.9zM31.0 341.9h.9v.9h-.9zM34.0 343.0h.9v.9h-.9zM35.1 343.1h.9v.9h-.9zM27.1 343.9h.9v.9h-.9zM30.0 345.0h.9v.9h-.9zM31.1 344.9h.9v.9h-.9zM29.1 346.9h.9v.9h-.9z" fill="#666666"/>
<path d="M37.1 296.0h.9v.9h-.9zM37.1 296.9h.9v.9h-.9zM41.0 299.9h.9v.9h-.9zM30.1 301.1h.9v.9h-.9zM40.0 301.1h.9v.9h-.9zM38.9 301.9h.9v.9h-.9zM39.9 304.0h.9v.9h-.9zM38.1 304.9h.9v.9h-.9zM40.9 305.1h.9v.9h-.9zM36.0 306.1h.9v.9h-.9zM38.1 306.0h.9v.9h-.9zM39.1 306.1h.9v.9h-.9zM79.0 306.0h.9v.9h-.9zM35.0 307.0h.9v.9h-.9zM36.9 307.1h.9v.9h-.9zM37.9 307.0h.9v.9h-.9zM38.9 306.9h.9v.9h-.9zM41.0 307.1h.9v.9h-.9zM37.0 308.0h.9v.9h-.9zM38.1 308.0h.9v.9h-.9zM40.0 308.0h.9v.9h-.9zM42.0 308.0h.9v.9h-.9zM28.9 309.0h.9v.9h-.9zM33.0 309.1h.9v.9h-.9zM35.0 308.9h.9v.9h-.9zM36.9 309.0h.9v.9h-.9zM38.0 309.1h.9v.9h-.9zM39.9 308.9h.9v.9h-.9zM41.0 309.1h.9v.9h-.9zM71.0 309.0h.9v.9h-.9zM28.9 310.1h.9v.9h-.9zM35.9 309.9h.9v.9h-.9zM37.1 309.9h.9v.9h-.9zM38.1 309.9h.9v.9h-.9zM39.1 309.9h.9v.9h-.9zM39.9 309.9h.9v.9h-.9zM41.0 310.0h.9v.9h-.9zM42.1 310.0h.9v.9h-.9zM44.1 310.1h.9v.9h-.9zM71.1 310.1h.9v.9h-.9zM28.1 310.9h.9v.9h-.9zM33.1 311.0h.9v.9h-.9zM35.1 311.1h.9v.9h-.9zM35.9 311.1h.9v.9h-.9zM37.0 310.9h.9v.9h-.9zM37.9 310.9h.9v.9h-.9zM38.9 311.1h.9v.9h-.9zM40.0 311.1h.9v.9h-.9zM41.1 311.0h.9v.9h-.9zM65.1 311.0h.9v.9h-.9zM34.1 311.9h.9v.9h-.9zM37.0 311.9h.9v.9h-.9zM38.0 312.1h.9v.9h-.9zM39.1 312.0h.9v.9h-.9zM70.1 311.9h.9v.9h-.9zM70.9 311.9h.9v.9h-.9zM28.1 312.9h.9v.9h-.9zM31.9 313.0h.9v.9h-.9zM35.0 312.9h.9v.9h-.9zM36.9 313.0h.9v.9h-.9zM38.9 313.0h.9v.9h-.9zM41.0 313.1h.9v.9h-.9zM61.0 313.1h.9v.9h-.9zM67.9 313.0h.9v.9h-.9zM70.0 313.0h.9v.9h-.9zM35.0 313.9h.9v.9h-.9zM38.0 314.0h.9v.9h-.9zM39.1 314.1h.9v.9h-.9zM40.0 313.9h.9v.9h-.9zM41.9 314.1h.9v.9h-.9zM60.9 314.0h.9v.9h-.9zM66.0 314.1h.9v.9h-.9zM71.1 313.9h.9v.9h-.9zM33.1 315.0h.9v.9h-.9zM37.0 315.1h.9v.9h-.9zM38.0 315.0h.9v.9h-.9zM40.9 315.1h.9v.9h-.9zM60.0 315.1h.9v.9h-.9zM61.0 314.9h.9v.9h-.9zM61.9 315.1h.9v.9h-.9zM63.0 315.1h.9v.9h-.9zM64.0 314.9h.9v.9h-.9zM68.1 315.0h.9v.9h-.9zM30.1 316.0h.9v.9h-.9zM31.0 316.1h.9v.9h-.9zM32.1 316.1h.9v.9h-.9zM33.9 316.1h.9v.9h-.9zM37.0 315.9h.9v.9h-.9zM38.1 315.9h.9v.9h-.9zM38.9 316.1h.9v.9h-.9zM40.0 316.0h.9v.9h-.9zM60.1 316.1h.9v.9h-.9zM62.1 315.9h.9v.9h-.9zM63.0 316.1h.9v.9h-.9zM63.9 316.0h.9v.9h-.9zM66.0 315.9h.9v.9h-.9zM32.0 317.1h.9v.9h-.9zM35.1 316.9h.9v.9h-.9zM35.9 317.0h.9v.9h-.9zM37.9 317.1h.9v.9h-.9zM58.0 317.1h.9v.9h-.9zM59.1 317.1h.9v.9h-.9zM60.1 317.0h.9v.9h-.9zM64.1 317.0h.9v.9h-.9zM66.1 317.0h.9v.9h-.9zM66.9 316.9h.9v.9h-.9zM31.1 318.0h.9v.9h-.9zM33.9 318.0h.9v.9h-.9zM36.1 317.9h.9v.9h-.9zM37.0 318.1h.9v.9h-.9zM38.0 318.1h.9v.9h-.9zM39.1 317.9h.9v.9h-.9zM42.1 318.1h.9v.9h-.9zM55.0 318.0h.9v.9h-.9zM56.1 318.1h.9v.9h-.9zM57.1 318.0h.9v.9h-.9zM58.0 318.0h.9v.9h-.9zM59.1 318.1h.9v.9h-.9zM61.1 317.9h.9v.9h-.9zM65.1 318.0h.9v.9h-.9zM33.0 319.1h.9v.9h-.9zM34.9 319.0h.9v.9h-.9zM36.0 319.0h.9v.9h-.9zM37.0 319.0h.9v.9h-.9zM37.9 319.0h.9v.9h-.9zM39.1 319.0h.9v.9h-.9zM40.1 318.9h.9v.9h-.9zM55.9 319.1h.9v.9h-.9zM57.1 318.9h.9v.9h-.9zM58.0 318.9h.9v.9h-.9zM58.9 319.0h.9v.9h-.9zM60.0 319.0h.9v.9h-.9zM60.9 319.1h.9v.9h-.9zM62.1 319.1h.9v.9h-.9zM63.0 318.9h.9v.9h-.9zM64.1 319.1h.9v.9h-.9zM31.9 319.9h.9v.9h-.9zM33.0 319.9h.9v.9h-.9zM35.0 319.9h.9v.9h-.9zM36.0 320.1h.9v.9h-.9zM38.0 320.1h.9v.9h-.9zM38.9 320.1h.9v.9h-.9zM58.1 320.0h.9v.9h-.9zM59.9 319.9h.9v.9h-.9zM60.9 320.0h.9v.9h-.9zM61.9 320.0h.9v.9h-.9zM62.9 320.0h.9v.9h-.9zM64.0 319.9h.9v.9h-.9zM32.1 320.9h.9v.9h-.9zM55.0 321.1h.9v.9h-.9zM56.1 321.1h.9v.9h-.9zM57.0 321.1h.9v.9h-.9zM58.1 320.9h.9v.9h-.9zM59.0 321.0h.9v.9h-.9zM59.9 320.9h.9v.9h-.9zM61.1 320.9h.9v.9h-.9zM61.9 320.9h.9v.9h-.9zM62.9 320.9h.9v.9h-.9zM66.0 321.1h.9v.9h-.9zM35.1 322.1h.9v.9h-.9zM36.9 322.0h.9v.9h-.9zM37.9 322.0h.9v.9h-.9zM38.9 322.0h.9v.9h-.9zM40.0 322.1h.9v.9h-.9zM56.1 322.1h.9v.9h-.9zM57.0 321.9h.9v.9h-.9zM57.9 322.0h.9v.9h-.9zM59.1 322.0h.9v.9h-.9zM62.9 321.9h.9v.9h-.9zM31.1 323.1h.9v.9h-.9zM33.1 323.1h.9v.9h-.9zM36.0 322.9h.9v.9h-.9zM36.9 323.1h.9v.9h-.9zM37.9 323.0h.9v.9h-.9zM38.9 322.9h.9v.9h-.9zM40.9 323.0h.9v.9h-.9zM55.1 322.9h.9v.9h-.9zM56.1 323.0h.9v.9h-.9zM56.9 323.1h.9v.9h-.9zM58.0 322.9h.9v.9h-.9zM59.9 322.9h.9v.9h-.9zM60.9 323.1h.9v.9h-.9zM62.1 323.0h.9v.9h-.9zM32.0 324.0h.9v.9h-.9zM36.0 324.1h.9v.9h-.9zM37.9 324.1h.9v.9h-.9zM39.1 324.0h.9v.9h-.9zM56.0 324.0h.9v.9h-.9zM57.0 324.1h.9v.9h-.9zM58.1 324.1h.9v.9h-.9zM59.1 324.1h.9v.9h-.9zM60.9 324.1h.9v.9h-.9zM36.0 325.1h.9v.9h-.9zM57.0 324.9h.9v.9h-.9zM58.1 325.1h.9v.9h-.9zM58.9 325.0h.9v.9h-.9zM60.0 325.1h.9v.9h-.9zM61.0 324.9h.9v.9h-.9zM38.1 325.9h.9v.9h-.9zM55.0 325.9h.9v.9h-.9zM56.9 325.9h.9v.9h-.9zM57.9 326.1h.9v.9h-.9zM59.0 326.1h.9v.9h-.9zM35.9 327.1h.9v.9h-.9zM54.9 327.0h.9v.9h-.9zM55.9 326.9h.9v.9h-.9zM56.9 327.1h.9v.9h-.9zM58.0 327.1h.9v.9h-.9zM59.1 327.1h.9v.9h-.9zM32.9 327.9h.9v.9h-.9zM54.1 327.9h.9v.9h-.9zM54.9 328.0h.9v.9h-.9zM55.9 327.9h.9v.9h-.9zM58.0 327.9h.9v.9h-.9zM32.0 329.0h.9v.9h-.9zM52.1 329.0h.9v.9h-.9zM53.0 329.0h.9v.9h-.9zM53.9 329.0h.9v.9h-.9zM55.9 329.1h.9v.9h-.9zM34.0 329.9h.9v.9h-.9zM51.1 330.0h.9v.9h-.9zM52.1 329.9h.9v.9h-.9zM53.1 330.1h.9v.9h-.9zM53.9 329.9h.9v.9h-.9zM54.9 330.1h.9v.9h-.9zM49.9 330.9h.9v.9h-.9zM51.1 331.0h.9v.9h-.9zM52.9 331.1h.9v.9h-.9zM54.0 330.9h.9v.9h-.9zM54.9 331.0h.9v.9h-.9zM33.0 331.9h.9v.9h-.9zM50.1 332.1h.9v.9h-.9zM51.0 332.1h.9v.9h-.9zM52.0 332.1h.9v.9h-.9zM52.9 332.1h.9v.9h-.9zM54.1 331.9h.9v.9h-.9zM49.1 333.1h.9v.9h-.9zM51.1 332.9h.9v.9h-.9zM53.0 333.0h.9v.9h-.9z" fill="#444444"/>
<rect x="26.4" y="269.5" width="80.0" height="78.90" fill="none" stroke="#a0a0a0" stroke-width="0.7"/>
<line x1="26.4" y1="348.60" x2="106.4" y2="348.60" stroke="#8c8c8c" stroke-width="0.8"/>
<line x1="26.299999999999997" y1="269.5" x2="26.299999999999997" y2="348.40" stroke="#9a9a9a" stroke-width="0.8"/>
<path d="M27.00 348.40v1.1M30.82 348.40v1.1M34.64 348.40v1.1M38.46 348.40v1.1M42.28 348.40v1.1M46.10 348.40v1.1M49.92 348.40v1.1M53.74 348.40v1.1M57.56 348.40v1.1M61.38 348.40v1.1M65.20 348.40v1.1M69.02 348.40v1.1M72.84 348.40v1.1M76.66 348.40v1.1M80.48 348.40v1.1M84.30 348.40v1.1M88.12 348.40v1.1M91.94 348.40v1.1M95.76 348.40v1.1M99.58 348.40v1.1M103.40 348.40v1.1M25.30 348.40h1.1M25.30 344.50h1.1M25.30 340.61h1.1M25.30 336.71h1.1M25.30 332.82h1.1M25.30 328.92h1.1M25.30 325.03h1.1M25.30 321.13h1.1M25.30 317.24h1.1M25.30 313.34h1.1M25.30 309.45h1.1M25.30 305.56h1.1M25.30 301.66h1.1M25.30 297.76h1.1M25.30 293.87h1.1M25.30 289.98h1.1M25.30 286.08h1.1M25.30 282.19h1.1M25.30 278.29h1.1M25.30 274.39h1.1M25.30 270.50h1.1" stroke="#888" stroke-width="0.6"/>
<line x1="24.799999999999997" y1="348.40" x2="26.4" y2="348.40" stroke="#999" stroke-width="0.6"/>
<text x="23.20" y="350.00" font-size="4.4" text-anchor="end" fill="#555" stroke="#555" stroke-width="0.05">0</text>
<line x1="27.00" y1="348.4" x2="27.00" y2="350.0" stroke="#999" stroke-width="0.6"/>
<text x="27.00" y="355.20" font-size="4.4" text-anchor="middle" fill="#555" stroke="#555" stroke-width="0.05">0</text>
<line x1="24.799999999999997" y1="332.82" x2="26.4" y2="332.82" stroke="#999" stroke-width="0.6"/>
<text x="23.20" y="334.42" font-size="4.4" text-anchor="end" fill="#555" stroke="#555" stroke-width="0.05">200</text>
<line x1="42.28" y1="348.4" x2="42.28" y2="350.0" stroke="#999" stroke-width="0.6"/>
<text x="42.28" y="355.20" font-size="4.4" text-anchor="middle" fill="#555" stroke="#555" stroke-width="0.05">200</text>
<line x1="24.799999999999997" y1="317.24" x2="26.4" y2="317.24" stroke="#999" stroke-width="0.6"/>
<text x="23.20" y="318.84" font-size="4.4" text-anchor="end" fill="#555" stroke="#555" stroke-width="0.05">400</text>
<line x1="57.56" y1="348.4" x2="57.56" y2="350.0" stroke="#999" stroke-width="0.6"/>
<text x="57.56" y="355.20" font-size="4.4" text-anchor="middle" fill="#555" stroke="#555" stroke-width="0.05">400</text>
<line x1="24.799999999999997" y1="301.66" x2="26.4" y2="301.66" stroke="#999" stroke-width="0.6"/>
<text x="23.20" y="303.26" font-size="4.4" text-anchor="end" fill="#555" stroke="#555" stroke-width="0.05">600</text>
<line x1="72.84" y1="348.4" x2="72.84" y2="350.0" stroke="#999" stroke-width="0.6"/>
<text x="72.84" y="355.20" font-size="4.4" text-anchor="middle" fill="#555" stroke="#555" stroke-width="0.05">600</text>
<line x1="24.799999999999997" y1="286.08" x2="26.4" y2="286.08" stroke="#999" stroke-width="0.6"/>
<text x="23.20" y="287.68" font-size="4.4" text-anchor="end" fill="#555" stroke="#555" stroke-width="0.05">800</text>
<line x1="88.12" y1="348.4" x2="88.12" y2="350.0" stroke="#999" stroke-width="0.6"/>
<text x="88.12" y="355.20" font-size="4.4" text-anchor="middle" fill="#555" stroke="#555" stroke-width="0.05">800</text>
<line x1="24.799999999999997" y1="270.50" x2="26.4" y2="270.50" stroke="#999" stroke-width="0.6"/>
<text x="23.20" y="272.10" font-size="4.4" text-anchor="end" fill="#555" stroke="#555" stroke-width="0.05">1000</text>
<line x1="103.40" y1="348.4" x2="103.40" y2="350.0" stroke="#999" stroke-width="0.6"/>
<text x="103.40" y="355.20" font-size="4.4" text-anchor="middle" fill="#555" stroke="#555" stroke-width="0.05">1000</text>
<g fill="none" stroke="#1a1a1a" stroke-width="1.15">
<ellipse cx="39.2" cy="313.53" rx="28.4" ry="8.5" transform="rotate(94.5 39.2 313.53)"/>
<ellipse cx="50.2" cy="333.54" rx="14.8" ry="8.0" transform="rotate(-42.6 50.2 333.54)"/>
<polygon points="57.4,319.09 76.5,270.18 106.6,270.18 106.6,294.98 64.3,325.54"/>
</g>
<text x="39.60" y="301.72" font-size="7.1" font-weight="bold" text-anchor="middle" fill="#111" stroke="#111" stroke-width="0.5">Ap</text>
<text x="51.30" y="334.23" font-size="7.1" font-weight="bold" text-anchor="middle" fill="#111" stroke="#111" stroke-width="0.5">NB</text>
<text x="85.00" y="292.73" font-size="7.1" font-weight="bold" text-anchor="middle" fill="#111" stroke="#111" stroke-width="0.45">Bl</text>
<text x="63.50" y="263.60" font-size="8.2" font-weight="bold" text-anchor="middle" fill="#111" stroke="#111" stroke-width="0.25" textLength="30.70" lengthAdjust="spacingAndGlyphs">Anti-CD3</text>
<text x="51.40" y="363.60" font-size="4.3" fill="#555" stroke="#555" stroke-width="0.1">FSC-H</text>
<text x="123.70" y="11.50" font-size="13.9" font-weight="bold" stroke="#000" stroke-width="0.45">B</text>
<text x="256.80" y="19.90" font-size="10.7" font-weight="bold" text-anchor="middle" fill="#111">Healthy subjects</text>
<text x="432.50" y="19.90" font-size="10.7" font-weight="bold" text-anchor="middle" fill="#111">IM subjects</text>
<text x="132.30" y="120.80" font-size="8.2" font-weight="bold" fill="#111" stroke="#111" stroke-width="0.25" textLength="52.50" lengthAdjust="spacingAndGlyphs" transform="rotate(-90 132.30 120.80)">% cell survival</text>
<text x="132.30" y="246.30" font-size="8.2" font-weight="bold" fill="#111" stroke="#111" stroke-width="0.25" textLength="54.50" lengthAdjust="spacingAndGlyphs" transform="rotate(-90 132.30 246.30)">% cell survival</text>
<line x1="162.40" y1="128.44" x2="514.65" y2="128.44" stroke="#747474" stroke-width="1.2"/>
<line x1="162.40" y1="105.68" x2="514.65" y2="105.68" stroke="#747474" stroke-width="1.2"/>
<line x1="162.40" y1="82.92" x2="514.65" y2="82.92" stroke="#747474" stroke-width="1.2"/>
<line x1="162.40" y1="60.16" x2="514.65" y2="60.16" stroke="#747474" stroke-width="1.2"/>
<line x1="162.40" y1="37.40" x2="487.90" y2="37.40" stroke="#747474" stroke-width="1.2"/>
<line x1="164.60" y1="37.40" x2="164.60" y2="159.50" stroke="#bdbdbd" stroke-width="1.2"/>
<line x1="184.05" y1="151.20" x2="184.05" y2="159.50" stroke="#b0b0b0" stroke-width="1.1"/>
<line x1="203.50" y1="151.20" x2="203.50" y2="159.50" stroke="#b0b0b0" stroke-width="1.1"/>
<line x1="222.95" y1="151.20" x2="222.95" y2="159.50" stroke="#b0b0b0" stroke-width="1.1"/>
<line x1="242.40" y1="151.20" x2="242.40" y2="159.50" stroke="#b0b0b0" stroke-width="1.1"/>
<line x1="261.85" y1="151.20" x2="261.85" y2="159.50" stroke="#b0b0b0" stroke-width="1.1"/>
<line x1="281.30" y1="151.20" x2="281.30" y2="159.50" stroke="#b0b0b0" stroke-width="1.1"/>
<line x1="300.75" y1="151.20" x2="300.75" y2="159.50" stroke="#b0b0b0" stroke-width="1.1"/>
<line x1="320.20" y1="151.20" x2="320.20" y2="159.50" stroke="#b0b0b0" stroke-width="1.1"/>
<line x1="339.65" y1="151.20" x2="339.65" y2="159.50" stroke="#b0b0b0" stroke-width="1.1"/>
<line x1="359.05" y1="151.20" x2="359.05" y2="159.50" stroke="#b0b0b0" stroke-width="1.1"/>
<line x1="378.50" y1="151.20" x2="378.50" y2="159.50" stroke="#b0b0b0" stroke-width="1.1"/>
<line x1="397.95" y1="151.20" x2="397.95" y2="159.50" stroke="#b0b0b0" stroke-width="1.1"/>
<line x1="417.40" y1="151.20" x2="417.40" y2="159.50" stroke="#b0b0b0" stroke-width="1.1"/>
<line x1="436.85" y1="151.20" x2="436.85" y2="159.50" stroke="#b0b0b0" stroke-width="1.1"/>
<line x1="456.30" y1="151.20" x2="456.30" y2="159.50" stroke="#b0b0b0" stroke-width="1.1"/>
<line x1="475.75" y1="151.20" x2="475.75" y2="159.50" stroke="#b0b0b0" stroke-width="1.1"/>
<line x1="495.20" y1="151.20" x2="495.20" y2="159.50" stroke="#b0b0b0" stroke-width="1.1"/>
<line x1="514.65" y1="151.20" x2="514.65" y2="159.50" stroke="#b0b0b0" stroke-width="1.1"/>
<line x1="162.40" y1="151.20" x2="514.65" y2="151.20" stroke="#8a8a8a" stroke-width="1"/>
<text x="157.30" y="153.50" font-size="6.6" text-anchor="end" fill="#111" stroke="#111" stroke-width="0.15">0,00</text>
<text x="157.30" y="130.74" font-size="6.6" text-anchor="end" fill="#111" stroke="#111" stroke-width="0.15">20,00</text>
<text x="157.30" y="107.98" font-size="6.6" text-anchor="end" fill="#111" stroke="#111" stroke-width="0.15">40,00</text>
<text x="157.30" y="85.22" font-size="6.6" text-anchor="end" fill="#111" stroke="#111" stroke-width="0.15">60,00</text>
<text x="157.30" y="62.46" font-size="6.6" text-anchor="end" fill="#111" stroke="#111" stroke-width="0.15">80,00</text>
<text x="157.30" y="39.70" font-size="6.6" text-anchor="end" fill="#111" stroke="#111" stroke-width="0.15">100,00</text>
<rect x="170.80" y="85.54" width="7.60" height="65.66" fill="#474747"/>
<path d="M174.60 83.26V87.81M173.00 83.26h3.2M173.00 87.81h3.2" stroke="#111" stroke-width="0.9" fill="none"/>
<rect x="190.25" y="73.36" width="7.60" height="77.84" fill="#474747"/>
<path d="M194.05 68.81V77.91M192.45 68.81h3.2M192.45 77.91h3.2" stroke="#111" stroke-width="0.9" fill="none"/>
<rect x="209.70" y="72.11" width="7.60" height="79.09" fill="#474747"/>
<path d="M213.50 69.26V74.95M211.90 69.26h3.2M211.90 74.95h3.2" stroke="#111" stroke-width="0.9" fill="none"/>
<rect x="229.15" y="59.25" width="7.60" height="91.95" fill="#474747"/>
<path d="M232.95 54.13V64.37M231.35 54.13h3.2M231.35 64.37h3.2" stroke="#111" stroke-width="0.9" fill="none"/>
<rect x="248.60" y="65.51" width="7.60" height="85.69" fill="#474747"/>
<path d="M252.40 64.94V66.08M250.80 64.94h3.2M250.80 66.08h3.2" stroke="#111" stroke-width="0.9" fill="none"/>
<rect x="268.05" y="58.68" width="7.60" height="92.52" fill="#474747"/>
<path d="M271.85 57.77V59.59M270.25 57.77h3.2M270.25 59.59h3.2" stroke="#111" stroke-width="0.9" fill="none"/>
<rect x="287.50" y="105.91" width="7.60" height="45.29" fill="#474747"/>
<path d="M291.30 102.49V109.32M289.70 102.49h3.2M289.70 109.32h3.2" stroke="#111" stroke-width="0.9" fill="none"/>
<rect x="306.95" y="72.11" width="7.60" height="79.09" fill="#474747"/>
<path d="M310.75 69.26V74.95M309.15 69.26h3.2M309.15 74.95h3.2" stroke="#111" stroke-width="0.9" fill="none"/>
<rect x="326.40" y="98.17" width="7.60" height="53.03" fill="#474747"/>
<path d="M330.20 95.55V100.79M328.60 95.55h3.2M328.60 100.79h3.2" stroke="#111" stroke-width="0.9" fill="none"/>
<rect x="345.70" y="81.44" width="7.60" height="69.76" fill="#474747"/>
<path d="M349.50 78.94V83.94M347.90 78.94h3.2M347.90 83.94h3.2" stroke="#111" stroke-width="0.9" fill="none"/>
<rect x="365.15" y="67.78" width="7.60" height="83.42" fill="#474747"/>
<path d="M368.95 65.51V70.06M367.35 65.51h3.2M367.35 70.06h3.2" stroke="#111" stroke-width="0.9" fill="none"/>
<rect x="384.60" y="69.15" width="7.60" height="82.05" fill="#474747"/>
<path d="M388.40 67.10V71.20M386.80 67.10h3.2M386.80 71.20h3.2" stroke="#111" stroke-width="0.9" fill="none"/>
<rect x="404.05" y="65.17" width="7.60" height="86.03" fill="#474747"/>
<path d="M407.85 60.62V69.72M406.25 60.62h3.2M406.25 69.72h3.2" stroke="#111" stroke-width="0.9" fill="none"/>
<rect x="423.50" y="68.35" width="7.60" height="82.85" fill="#474747"/>
<path d="M427.30 64.26V72.45M425.70 64.26h3.2M425.70 72.45h3.2" stroke="#111" stroke-width="0.9" fill="none"/>
<rect x="442.95" y="71.54" width="7.60" height="79.66" fill="#474747"/>
<path d="M446.75 62.44V80.64M445.15 62.44h3.2M445.15 80.64h3.2" stroke="#111" stroke-width="0.9" fill="none"/>
<rect x="462.40" y="110.80" width="7.60" height="40.40" fill="#474747"/>
<path d="M466.20 107.16V114.44M464.60 107.16h3.2M464.60 114.44h3.2" stroke="#111" stroke-width="0.9" fill="none"/>
<rect x="481.85" y="83.83" width="7.60" height="67.37" fill="#474747"/>
<path d="M485.65 78.37V89.29M484.05 78.37h3.2M484.05 89.29h3.2" stroke="#111" stroke-width="0.9" fill="none"/>
<rect x="501.30" y="97.71" width="7.60" height="53.49" fill="#474747"/>
<path d="M505.10 95.21V100.22M503.50 95.21h3.2M503.50 100.22h3.2" stroke="#111" stroke-width="0.9" fill="none"/>
<rect x="487.9" y="36.6" width="29.80" height="19.10" fill="#2b2b2b"/>
<text x="502.80" y="49.80" font-size="9.8" font-weight="bold" text-anchor="middle" fill="#fff" stroke="#fff" stroke-width="0.3" textLength="17.40" lengthAdjust="spacingAndGlyphs">D10</text>
<line x1="163.00" y1="253.02" x2="510.60" y2="253.02" stroke="#747474" stroke-width="1.2"/>
<line x1="163.00" y1="231.84" x2="510.60" y2="231.84" stroke="#747474" stroke-width="1.2"/>
<line x1="163.00" y1="210.66" x2="510.60" y2="210.66" stroke="#747474" stroke-width="1.2"/>
<line x1="163.00" y1="189.48" x2="510.60" y2="189.48" stroke="#747474" stroke-width="1.2"/>
<line x1="163.00" y1="168.30" x2="488.30" y2="168.30" stroke="#747474" stroke-width="1.2"/>
<line x1="165.20" y1="168.30" x2="165.20" y2="278.50" stroke="#bdbdbd" stroke-width="1.2"/>
<line x1="184.35" y1="274.20" x2="184.35" y2="278.50" stroke="#b0b0b0" stroke-width="1.1"/>
<line x1="203.50" y1="274.20" x2="203.50" y2="278.50" stroke="#b0b0b0" stroke-width="1.1"/>
<line x1="222.65" y1="274.20" x2="222.65" y2="278.50" stroke="#b0b0b0" stroke-width="1.1"/>
<line x1="241.80" y1="274.20" x2="241.80" y2="278.50" stroke="#b0b0b0" stroke-width="1.1"/>
<line x1="260.95" y1="274.20" x2="260.95" y2="278.50" stroke="#b0b0b0" stroke-width="1.1"/>
<line x1="280.10" y1="274.20" x2="280.10" y2="278.50" stroke="#b0b0b0" stroke-width="1.1"/>
<line x1="299.25" y1="274.20" x2="299.25" y2="278.50" stroke="#b0b0b0" stroke-width="1.1"/>
<line x1="318.40" y1="274.20" x2="318.40" y2="278.50" stroke="#b0b0b0" stroke-width="1.1"/>
<line x1="337.55" y1="274.20" x2="337.55" y2="278.50" stroke="#b0b0b0" stroke-width="1.1"/>
<line x1="357.00" y1="274.20" x2="357.00" y2="278.50" stroke="#b0b0b0" stroke-width="1.1"/>
<line x1="376.20" y1="274.20" x2="376.20" y2="278.50" stroke="#b0b0b0" stroke-width="1.1"/>
<line x1="395.40" y1="274.20" x2="395.40" y2="278.50" stroke="#b0b0b0" stroke-width="1.1"/>
<line x1="414.60" y1="274.20" x2="414.60" y2="278.50" stroke="#b0b0b0" stroke-width="1.1"/>
<line x1="433.80" y1="274.20" x2="433.80" y2="278.50" stroke="#b0b0b0" stroke-width="1.1"/>
<line x1="453.00" y1="274.20" x2="453.00" y2="278.50" stroke="#b0b0b0" stroke-width="1.1"/>
<line x1="472.20" y1="274.20" x2="472.20" y2="278.50" stroke="#b0b0b0" stroke-width="1.1"/>
<line x1="491.40" y1="274.20" x2="491.40" y2="278.50" stroke="#b0b0b0" stroke-width="1.1"/>
<line x1="510.60" y1="274.20" x2="510.60" y2="278.50" stroke="#b0b0b0" stroke-width="1.1"/>
<line x1="163.00" y1="274.20" x2="510.60" y2="274.20" stroke="#8a8a8a" stroke-width="1"/>
<text x="157.30" y="276.50" font-size="6.6" text-anchor="end" fill="#111" stroke="#111" stroke-width="0.15">0,00</text>
<text x="157.30" y="255.32" font-size="6.6" text-anchor="end" fill="#111" stroke="#111" stroke-width="0.15">20,00</text>
<text x="157.30" y="234.14" font-size="6.6" text-anchor="end" fill="#111" stroke="#111" stroke-width="0.15">40,00</text>
<text x="157.30" y="212.96" font-size="6.6" text-anchor="end" fill="#111" stroke="#111" stroke-width="0.15">60,00</text>
<text x="157.30" y="191.78" font-size="6.6" text-anchor="end" fill="#111" stroke="#111" stroke-width="0.15">80,00</text>
<text x="157.30" y="170.60" font-size="6.6" text-anchor="end" fill="#111" stroke="#111" stroke-width="0.15">100,00</text>
<rect x="171.60" y="229.51" width="7.60" height="44.69" fill="#474747"/>
<path d="M175.40 219.98V239.04M173.80 219.98h3.2M173.80 239.04h3.2" stroke="#111" stroke-width="0.9" fill="none"/>
<rect x="190.75" y="199.22" width="7.60" height="74.98" fill="#474747"/>
<path d="M194.55 194.99V203.46M192.95 194.99h3.2M192.95 203.46h3.2" stroke="#111" stroke-width="0.9" fill="none"/>
<rect x="209.90" y="203.99" width="7.60" height="70.21" fill="#474747"/>
<path d="M213.70 196.58V211.40M212.10 196.58h3.2M212.10 211.40h3.2" stroke="#111" stroke-width="0.9" fill="none"/>
<rect x="229.05" y="195.41" width="7.60" height="78.79" fill="#474747"/>
<path d="M232.85 185.46V205.37M231.25 185.46h3.2M231.25 205.37h3.2" stroke="#111" stroke-width="0.9" fill="none"/>
<rect x="248.20" y="181.86" width="7.60" height="92.34" fill="#474747"/>
<path d="M252.00 179.74V183.97M250.40 179.74h3.2M250.40 183.97h3.2" stroke="#111" stroke-width="0.9" fill="none"/>
<rect x="267.35" y="205.89" width="7.60" height="68.31" fill="#474747"/>
<path d="M271.15 197.74V214.05M269.55 197.74h3.2M269.55 214.05h3.2" stroke="#111" stroke-width="0.9" fill="none"/>
<rect x="286.50" y="255.99" width="7.60" height="18.21" fill="#474747"/>
<path d="M290.30 250.69V261.28M288.70 250.69h3.2M288.70 261.28h3.2" stroke="#111" stroke-width="0.9" fill="none"/>
<rect x="305.65" y="202.93" width="7.60" height="71.27" fill="#474747"/>
<path d="M309.45 199.75V206.11M307.85 199.75h3.2M307.85 206.11h3.2" stroke="#111" stroke-width="0.9" fill="none"/>
<rect x="324.80" y="221.67" width="7.60" height="52.53" fill="#474747"/>
<path d="M328.60 214.79V228.56M327.00 214.79h3.2M327.00 228.56h3.2" stroke="#111" stroke-width="0.9" fill="none"/>
<rect x="344.10" y="236.08" width="7.50" height="38.12" fill="#474747"/>
<path d="M347.85 229.72V242.43M346.25 229.72h3.2M346.25 242.43h3.2" stroke="#111" stroke-width="0.9" fill="none"/>
<rect x="363.30" y="210.13" width="7.50" height="64.07" fill="#474747"/>
<path d="M367.05 205.89V214.37M365.45 205.89h3.2M365.45 214.37h3.2" stroke="#111" stroke-width="0.9" fill="none"/>
<rect x="382.50" y="200.28" width="7.50" height="73.92" fill="#474747"/>
<path d="M386.25 195.73V204.84M384.65 195.73h3.2M384.65 204.84h3.2" stroke="#111" stroke-width="0.9" fill="none"/>
<rect x="401.70" y="207.91" width="7.50" height="66.29" fill="#474747"/>
<path d="M405.45 203.67V212.14M403.85 203.67h3.2M403.85 212.14h3.2" stroke="#111" stroke-width="0.9" fill="none"/>
<rect x="420.90" y="189.80" width="7.50" height="84.40" fill="#474747"/>
<path d="M424.65 181.64V197.95M423.05 181.64h3.2M423.05 197.95h3.2" stroke="#111" stroke-width="0.9" fill="none"/>
<rect x="440.10" y="202.93" width="7.50" height="71.27" fill="#474747"/>
<path d="M443.85 196.89V208.97M442.25 196.89h3.2M442.25 208.97h3.2" stroke="#111" stroke-width="0.9" fill="none"/>
<rect x="459.30" y="257.47" width="7.50" height="16.73" fill="#474747"/>
<path d="M463.05 247.94V267.00M461.45 247.94h3.2M461.45 267.00h3.2" stroke="#111" stroke-width="0.9" fill="none"/>
<rect x="478.50" y="219.34" width="7.50" height="54.86" fill="#474747"/>
<path d="M482.25 214.47V224.22M480.65 214.47h3.2M480.65 224.22h3.2" stroke="#111" stroke-width="0.9" fill="none"/>
<rect x="497.70" y="234.17" width="7.50" height="40.03" fill="#474747"/>
<path d="M501.45 223.26V245.08M499.85 223.26h3.2M499.85 245.08h3.2" stroke="#111" stroke-width="0.9" fill="none"/>
<rect x="488.3" y="167.8" width="29.30" height="18.50" fill="#2b2b2b"/>
<text x="502.95" y="180.40" font-size="9.8" font-weight="bold" text-anchor="middle" fill="#fff" stroke="#fff" stroke-width="0.3" textLength="17.40" lengthAdjust="spacingAndGlyphs">D15</text>
<path d="M170.80 183.70Q170.80 181.30 172.60 181.30H182.75Q184.35 181.30 184.35 178.30Q184.35 181.30 185.95 181.30H196.10Q197.90 181.30 197.90 183.70" stroke="#111" stroke-width="1.3" fill="none"/>
<path d="M184.35 171.00L184.35 176.20M182.10 172.30L186.60 174.90M186.60 172.30L182.10 174.90" stroke="#111" stroke-width="1.0" fill="none"/>
<path d="M284.40 183.70Q284.40 181.30 286.20 181.30H295.60Q297.20 181.30 297.20 178.30Q297.20 181.30 298.80 181.30H308.20Q310.00 181.30 310.00 183.70" stroke="#111" stroke-width="1.3" fill="none"/>
<path d="M297.20 171.00L297.20 176.20M294.95 172.30L299.45 174.90M299.45 172.30L294.95 174.90" stroke="#111" stroke-width="1.0" fill="none"/>
<path d="M341.90 183.70Q341.90 181.30 343.70 181.30H353.80Q355.40 181.30 355.40 178.30Q355.40 181.30 357.00 181.30H367.10Q368.90 181.30 368.90 183.70" stroke="#111" stroke-width="1.3" fill="none"/>
<path d="M355.40 171.00L355.40 176.20M353.15 172.30L357.65 174.90M357.65 172.30L353.15 174.90" stroke="#111" stroke-width="1.0" fill="none"/>
<path d="M455.50 183.70Q455.50 181.30 457.30 181.30H467.40Q469.00 181.30 469.00 178.30Q469.00 181.30 470.60 181.30H480.70Q482.50 181.30 482.50 183.70" stroke="#111" stroke-width="1.3" fill="none"/>
<path d="M469.00 171.00L469.00 176.20M466.75 172.30L471.25 174.90M471.25 172.30L466.75 174.90" stroke="#111" stroke-width="1.0" fill="none"/>
<line x1="338.85" y1="17" x2="338.85" y2="369" stroke="#000" stroke-width="1.75"/>
<text x="172.17" y="284.30" font-size="6.8" font-weight="bold" fill="#111" stroke="#111" stroke-width="0.25" textLength="32.60" lengthAdjust="spacingAndGlyphs" transform="rotate(90 172.17 284.30)">Untreated</text>
<text x="267.92" y="284.30" font-size="6.8" font-weight="bold" fill="#111" stroke="#111" stroke-width="0.25" textLength="48.50" lengthAdjust="spacingAndGlyphs" transform="rotate(90 267.92 284.30)">IL-2 &#160;100 IU/mL</text>
<text x="287.07" y="284.30" font-size="6.8" font-weight="bold" fill="#111" stroke="#111" stroke-width="0.25" textLength="27.30" lengthAdjust="spacingAndGlyphs" transform="rotate(90 287.07 284.30)">Anti-CD3</text>
<text x="306.22" y="284.30" font-size="6.8" font-weight="bold" fill="#111" stroke="#111" stroke-width="0.25" textLength="77.00" lengthAdjust="spacingAndGlyphs" transform="rotate(90 306.22 284.30)">Anti-CD3 + IL15 &#160;1 ng/mL</text>
<text x="325.37" y="284.30" font-size="6.8" font-weight="bold" fill="#111" stroke="#111" stroke-width="0.25" textLength="80.60" lengthAdjust="spacingAndGlyphs" transform="rotate(90 325.37 284.30)">Anti-CD3 + IL2 &#160;100 IU/mL</text>
<text x="194.60" y="288.20" font-size="6.0" font-weight="bold" text-anchor="middle" fill="#111" stroke="#111" stroke-width="0.25">1</text>
<text x="212.90" y="288.20" font-size="6.0" font-weight="bold" text-anchor="middle" fill="#111" stroke="#111" stroke-width="0.25">5</text>
<text x="232.10" y="288.20" font-size="6.0" font-weight="bold" text-anchor="middle" fill="#111" stroke="#111" stroke-width="0.25">10</text>
<text x="251.70" y="288.20" font-size="6.0" font-weight="bold" text-anchor="middle" fill="#111" stroke="#111" stroke-width="0.25">100</text>
<line x1="188.6" y1="296.3" x2="258.0" y2="296.3" stroke="#000" stroke-width="1.4"/>
<text x="222.40" y="307.00" font-size="6.1" font-weight="bold" text-anchor="middle" fill="#1a1a1a" stroke="#1a1a1a" stroke-width="0.25" textLength="13.40" lengthAdjust="spacingAndGlyphs">IL-15</text>
<text x="224.00" y="314.90" font-size="6.3" font-weight="bold" text-anchor="middle" fill="#1a1a1a" stroke="#1a1a1a" stroke-width="0.2" textLength="22.60" lengthAdjust="spacingAndGlyphs">(ng/mL)</text>
<text x="344.80" y="284.30" font-size="6.8" font-weight="bold" fill="#111" stroke="#111" stroke-width="0.25" textLength="32.60" lengthAdjust="spacingAndGlyphs" transform="rotate(90 344.80 284.30)">Untreated</text>
<text x="440.80" y="284.30" font-size="6.8" font-weight="bold" fill="#111" stroke="#111" stroke-width="0.25" textLength="48.50" lengthAdjust="spacingAndGlyphs" transform="rotate(90 440.80 284.30)">IL-2 &#160;100 IU/mL</text>
<text x="460.00" y="284.30" font-size="6.8" font-weight="bold" fill="#111" stroke="#111" stroke-width="0.25" textLength="27.30" lengthAdjust="spacingAndGlyphs" transform="rotate(90 460.00 284.30)">Anti-CD3</text>
<text x="479.20" y="284.30" font-size="6.8" font-weight="bold" fill="#111" stroke="#111" stroke-width="0.25" textLength="77.00" lengthAdjust="spacingAndGlyphs" transform="rotate(90 479.20 284.30)">Anti-CD3 + IL15 &#160;1 ng/mL</text>
<text x="498.40" y="284.30" font-size="6.8" font-weight="bold" fill="#111" stroke="#111" stroke-width="0.25" textLength="80.60" lengthAdjust="spacingAndGlyphs" transform="rotate(90 498.40 284.30)">Anti-CD3 + IL2 &#160;100 IU/mL</text>
<text x="368.00" y="288.20" font-size="6.0" font-weight="bold" text-anchor="middle" fill="#111" stroke="#111" stroke-width="0.25">1</text>
<text x="385.20" y="288.20" font-size="6.0" font-weight="bold" text-anchor="middle" fill="#111" stroke="#111" stroke-width="0.25">5</text>
<text x="403.80" y="288.20" font-size="6.0" font-weight="bold" text-anchor="middle" fill="#111" stroke="#111" stroke-width="0.25">10</text>
<text x="423.00" y="288.20" font-size="6.0" font-weight="bold" text-anchor="middle" fill="#111" stroke="#111" stroke-width="0.25">100</text>
<line x1="358.8" y1="296.3" x2="428.8" y2="296.3" stroke="#000" stroke-width="1.4"/>
<text x="392.30" y="307.00" font-size="6.1" font-weight="bold" text-anchor="middle" fill="#1a1a1a" stroke="#1a1a1a" stroke-width="0.25" textLength="13.40" lengthAdjust="spacingAndGlyphs">IL-15</text>
<text x="394.40" y="314.90" font-size="6.3" font-weight="bold" text-anchor="middle" fill="#1a1a1a" stroke="#1a1a1a" stroke-width="0.2" textLength="22.60" lengthAdjust="spacingAndGlyphs">(ng/mL)</text>
</svg></body></html>
